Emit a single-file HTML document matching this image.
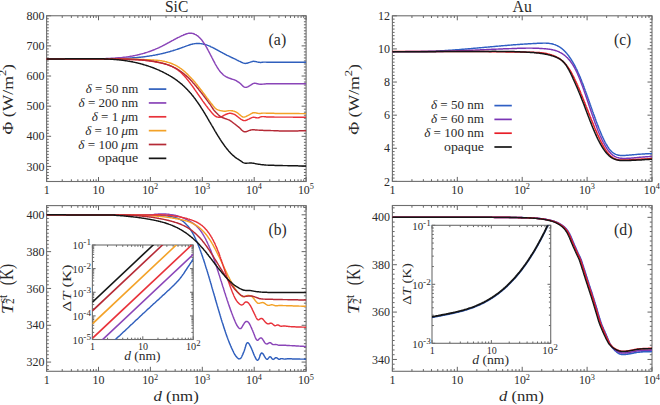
<!DOCTYPE html>
<html><head><meta charset="utf-8"><style>
html,body{margin:0;padding:0;background:#fff;}
body{width:660px;height:405px;overflow:hidden;}
svg{display:block;}
</style></head><body>
<svg width="660" height="405" viewBox="0 0 660 405" font-family='"Liberation Serif", serif' fill="#2a2a2a">
<rect width="660" height="405" fill="#fff"/>
<defs><clipPath id="ca"><rect x="46.6" y="15.75" width="259.5" height="165.75"/></clipPath><clipPath id="cb"><rect x="46.6" y="205.6" width="259.5" height="165.7"/></clipPath><clipPath id="cc"><rect x="392.4" y="15.8" width="259.6" height="165.6"/></clipPath><clipPath id="cd"><rect x="392.4" y="205.5" width="259.6" height="165.8"/></clipPath><clipPath id="ib"><rect x="92.4" y="245" width="100.8" height="94.5"/></clipPath><clipPath id="id"><rect x="432" y="225.3" width="118.7" height="118"/></clipPath></defs>
<line x1="46.6" y1="181.5" x2="46.6" y2="177" stroke="#5c5c5c" stroke-width="0.95"/>
<line x1="46.6" y1="15.75" x2="46.6" y2="20.25" stroke="#5c5c5c" stroke-width="0.95"/>
<line x1="62.22" y1="181.5" x2="62.22" y2="179.3" stroke="#5c5c5c" stroke-width="0.95"/>
<line x1="62.22" y1="15.75" x2="62.22" y2="17.95" stroke="#5c5c5c" stroke-width="0.95"/>
<line x1="71.36" y1="181.5" x2="71.36" y2="179.3" stroke="#5c5c5c" stroke-width="0.95"/>
<line x1="71.36" y1="15.75" x2="71.36" y2="17.95" stroke="#5c5c5c" stroke-width="0.95"/>
<line x1="77.85" y1="181.5" x2="77.85" y2="179.3" stroke="#5c5c5c" stroke-width="0.95"/>
<line x1="77.85" y1="15.75" x2="77.85" y2="17.95" stroke="#5c5c5c" stroke-width="0.95"/>
<line x1="82.88" y1="181.5" x2="82.88" y2="179.3" stroke="#5c5c5c" stroke-width="0.95"/>
<line x1="82.88" y1="15.75" x2="82.88" y2="17.95" stroke="#5c5c5c" stroke-width="0.95"/>
<line x1="86.99" y1="181.5" x2="86.99" y2="179.3" stroke="#5c5c5c" stroke-width="0.95"/>
<line x1="86.99" y1="15.75" x2="86.99" y2="17.95" stroke="#5c5c5c" stroke-width="0.95"/>
<line x1="90.46" y1="181.5" x2="90.46" y2="179.3" stroke="#5c5c5c" stroke-width="0.95"/>
<line x1="90.46" y1="15.75" x2="90.46" y2="17.95" stroke="#5c5c5c" stroke-width="0.95"/>
<line x1="93.47" y1="181.5" x2="93.47" y2="179.3" stroke="#5c5c5c" stroke-width="0.95"/>
<line x1="93.47" y1="15.75" x2="93.47" y2="17.95" stroke="#5c5c5c" stroke-width="0.95"/>
<line x1="96.13" y1="181.5" x2="96.13" y2="179.3" stroke="#5c5c5c" stroke-width="0.95"/>
<line x1="96.13" y1="15.75" x2="96.13" y2="17.95" stroke="#5c5c5c" stroke-width="0.95"/>
<line x1="98.5" y1="181.5" x2="98.5" y2="177" stroke="#5c5c5c" stroke-width="0.95"/>
<line x1="98.5" y1="15.75" x2="98.5" y2="20.25" stroke="#5c5c5c" stroke-width="0.95"/>
<line x1="114.12" y1="181.5" x2="114.12" y2="179.3" stroke="#5c5c5c" stroke-width="0.95"/>
<line x1="114.12" y1="15.75" x2="114.12" y2="17.95" stroke="#5c5c5c" stroke-width="0.95"/>
<line x1="123.26" y1="181.5" x2="123.26" y2="179.3" stroke="#5c5c5c" stroke-width="0.95"/>
<line x1="123.26" y1="15.75" x2="123.26" y2="17.95" stroke="#5c5c5c" stroke-width="0.95"/>
<line x1="129.75" y1="181.5" x2="129.75" y2="179.3" stroke="#5c5c5c" stroke-width="0.95"/>
<line x1="129.75" y1="15.75" x2="129.75" y2="17.95" stroke="#5c5c5c" stroke-width="0.95"/>
<line x1="134.78" y1="181.5" x2="134.78" y2="179.3" stroke="#5c5c5c" stroke-width="0.95"/>
<line x1="134.78" y1="15.75" x2="134.78" y2="17.95" stroke="#5c5c5c" stroke-width="0.95"/>
<line x1="138.89" y1="181.5" x2="138.89" y2="179.3" stroke="#5c5c5c" stroke-width="0.95"/>
<line x1="138.89" y1="15.75" x2="138.89" y2="17.95" stroke="#5c5c5c" stroke-width="0.95"/>
<line x1="142.36" y1="181.5" x2="142.36" y2="179.3" stroke="#5c5c5c" stroke-width="0.95"/>
<line x1="142.36" y1="15.75" x2="142.36" y2="17.95" stroke="#5c5c5c" stroke-width="0.95"/>
<line x1="145.37" y1="181.5" x2="145.37" y2="179.3" stroke="#5c5c5c" stroke-width="0.95"/>
<line x1="145.37" y1="15.75" x2="145.37" y2="17.95" stroke="#5c5c5c" stroke-width="0.95"/>
<line x1="148.03" y1="181.5" x2="148.03" y2="179.3" stroke="#5c5c5c" stroke-width="0.95"/>
<line x1="148.03" y1="15.75" x2="148.03" y2="17.95" stroke="#5c5c5c" stroke-width="0.95"/>
<line x1="150.4" y1="181.5" x2="150.4" y2="177" stroke="#5c5c5c" stroke-width="0.95"/>
<line x1="150.4" y1="15.75" x2="150.4" y2="20.25" stroke="#5c5c5c" stroke-width="0.95"/>
<line x1="166.02" y1="181.5" x2="166.02" y2="179.3" stroke="#5c5c5c" stroke-width="0.95"/>
<line x1="166.02" y1="15.75" x2="166.02" y2="17.95" stroke="#5c5c5c" stroke-width="0.95"/>
<line x1="175.16" y1="181.5" x2="175.16" y2="179.3" stroke="#5c5c5c" stroke-width="0.95"/>
<line x1="175.16" y1="15.75" x2="175.16" y2="17.95" stroke="#5c5c5c" stroke-width="0.95"/>
<line x1="181.65" y1="181.5" x2="181.65" y2="179.3" stroke="#5c5c5c" stroke-width="0.95"/>
<line x1="181.65" y1="15.75" x2="181.65" y2="17.95" stroke="#5c5c5c" stroke-width="0.95"/>
<line x1="186.68" y1="181.5" x2="186.68" y2="179.3" stroke="#5c5c5c" stroke-width="0.95"/>
<line x1="186.68" y1="15.75" x2="186.68" y2="17.95" stroke="#5c5c5c" stroke-width="0.95"/>
<line x1="190.79" y1="181.5" x2="190.79" y2="179.3" stroke="#5c5c5c" stroke-width="0.95"/>
<line x1="190.79" y1="15.75" x2="190.79" y2="17.95" stroke="#5c5c5c" stroke-width="0.95"/>
<line x1="194.26" y1="181.5" x2="194.26" y2="179.3" stroke="#5c5c5c" stroke-width="0.95"/>
<line x1="194.26" y1="15.75" x2="194.26" y2="17.95" stroke="#5c5c5c" stroke-width="0.95"/>
<line x1="197.27" y1="181.5" x2="197.27" y2="179.3" stroke="#5c5c5c" stroke-width="0.95"/>
<line x1="197.27" y1="15.75" x2="197.27" y2="17.95" stroke="#5c5c5c" stroke-width="0.95"/>
<line x1="199.93" y1="181.5" x2="199.93" y2="179.3" stroke="#5c5c5c" stroke-width="0.95"/>
<line x1="199.93" y1="15.75" x2="199.93" y2="17.95" stroke="#5c5c5c" stroke-width="0.95"/>
<line x1="202.3" y1="181.5" x2="202.3" y2="177" stroke="#5c5c5c" stroke-width="0.95"/>
<line x1="202.3" y1="15.75" x2="202.3" y2="20.25" stroke="#5c5c5c" stroke-width="0.95"/>
<line x1="217.92" y1="181.5" x2="217.92" y2="179.3" stroke="#5c5c5c" stroke-width="0.95"/>
<line x1="217.92" y1="15.75" x2="217.92" y2="17.95" stroke="#5c5c5c" stroke-width="0.95"/>
<line x1="227.06" y1="181.5" x2="227.06" y2="179.3" stroke="#5c5c5c" stroke-width="0.95"/>
<line x1="227.06" y1="15.75" x2="227.06" y2="17.95" stroke="#5c5c5c" stroke-width="0.95"/>
<line x1="233.55" y1="181.5" x2="233.55" y2="179.3" stroke="#5c5c5c" stroke-width="0.95"/>
<line x1="233.55" y1="15.75" x2="233.55" y2="17.95" stroke="#5c5c5c" stroke-width="0.95"/>
<line x1="238.58" y1="181.5" x2="238.58" y2="179.3" stroke="#5c5c5c" stroke-width="0.95"/>
<line x1="238.58" y1="15.75" x2="238.58" y2="17.95" stroke="#5c5c5c" stroke-width="0.95"/>
<line x1="242.69" y1="181.5" x2="242.69" y2="179.3" stroke="#5c5c5c" stroke-width="0.95"/>
<line x1="242.69" y1="15.75" x2="242.69" y2="17.95" stroke="#5c5c5c" stroke-width="0.95"/>
<line x1="246.16" y1="181.5" x2="246.16" y2="179.3" stroke="#5c5c5c" stroke-width="0.95"/>
<line x1="246.16" y1="15.75" x2="246.16" y2="17.95" stroke="#5c5c5c" stroke-width="0.95"/>
<line x1="249.17" y1="181.5" x2="249.17" y2="179.3" stroke="#5c5c5c" stroke-width="0.95"/>
<line x1="249.17" y1="15.75" x2="249.17" y2="17.95" stroke="#5c5c5c" stroke-width="0.95"/>
<line x1="251.83" y1="181.5" x2="251.83" y2="179.3" stroke="#5c5c5c" stroke-width="0.95"/>
<line x1="251.83" y1="15.75" x2="251.83" y2="17.95" stroke="#5c5c5c" stroke-width="0.95"/>
<line x1="254.2" y1="181.5" x2="254.2" y2="177" stroke="#5c5c5c" stroke-width="0.95"/>
<line x1="254.2" y1="15.75" x2="254.2" y2="20.25" stroke="#5c5c5c" stroke-width="0.95"/>
<line x1="269.82" y1="181.5" x2="269.82" y2="179.3" stroke="#5c5c5c" stroke-width="0.95"/>
<line x1="269.82" y1="15.75" x2="269.82" y2="17.95" stroke="#5c5c5c" stroke-width="0.95"/>
<line x1="278.96" y1="181.5" x2="278.96" y2="179.3" stroke="#5c5c5c" stroke-width="0.95"/>
<line x1="278.96" y1="15.75" x2="278.96" y2="17.95" stroke="#5c5c5c" stroke-width="0.95"/>
<line x1="285.45" y1="181.5" x2="285.45" y2="179.3" stroke="#5c5c5c" stroke-width="0.95"/>
<line x1="285.45" y1="15.75" x2="285.45" y2="17.95" stroke="#5c5c5c" stroke-width="0.95"/>
<line x1="290.48" y1="181.5" x2="290.48" y2="179.3" stroke="#5c5c5c" stroke-width="0.95"/>
<line x1="290.48" y1="15.75" x2="290.48" y2="17.95" stroke="#5c5c5c" stroke-width="0.95"/>
<line x1="294.59" y1="181.5" x2="294.59" y2="179.3" stroke="#5c5c5c" stroke-width="0.95"/>
<line x1="294.59" y1="15.75" x2="294.59" y2="17.95" stroke="#5c5c5c" stroke-width="0.95"/>
<line x1="298.06" y1="181.5" x2="298.06" y2="179.3" stroke="#5c5c5c" stroke-width="0.95"/>
<line x1="298.06" y1="15.75" x2="298.06" y2="17.95" stroke="#5c5c5c" stroke-width="0.95"/>
<line x1="301.07" y1="181.5" x2="301.07" y2="179.3" stroke="#5c5c5c" stroke-width="0.95"/>
<line x1="301.07" y1="15.75" x2="301.07" y2="17.95" stroke="#5c5c5c" stroke-width="0.95"/>
<line x1="303.73" y1="181.5" x2="303.73" y2="179.3" stroke="#5c5c5c" stroke-width="0.95"/>
<line x1="303.73" y1="15.75" x2="303.73" y2="17.95" stroke="#5c5c5c" stroke-width="0.95"/>
<line x1="306.1" y1="181.5" x2="306.1" y2="177" stroke="#5c5c5c" stroke-width="0.95"/>
<line x1="306.1" y1="15.75" x2="306.1" y2="20.25" stroke="#5c5c5c" stroke-width="0.95"/>
<line x1="46.6" y1="166.43" x2="51.1" y2="166.43" stroke="#5c5c5c" stroke-width="0.95"/>
<line x1="306.1" y1="166.43" x2="301.6" y2="166.43" stroke="#5c5c5c" stroke-width="0.95"/>
<line x1="46.6" y1="136.3" x2="51.1" y2="136.3" stroke="#5c5c5c" stroke-width="0.95"/>
<line x1="306.1" y1="136.3" x2="301.6" y2="136.3" stroke="#5c5c5c" stroke-width="0.95"/>
<line x1="46.6" y1="106.16" x2="51.1" y2="106.16" stroke="#5c5c5c" stroke-width="0.95"/>
<line x1="306.1" y1="106.16" x2="301.6" y2="106.16" stroke="#5c5c5c" stroke-width="0.95"/>
<line x1="46.6" y1="76.02" x2="51.1" y2="76.02" stroke="#5c5c5c" stroke-width="0.95"/>
<line x1="306.1" y1="76.02" x2="301.6" y2="76.02" stroke="#5c5c5c" stroke-width="0.95"/>
<line x1="46.6" y1="45.89" x2="51.1" y2="45.89" stroke="#5c5c5c" stroke-width="0.95"/>
<line x1="306.1" y1="45.89" x2="301.6" y2="45.89" stroke="#5c5c5c" stroke-width="0.95"/>
<line x1="46.6" y1="15.75" x2="51.1" y2="15.75" stroke="#5c5c5c" stroke-width="0.95"/>
<line x1="306.1" y1="15.75" x2="301.6" y2="15.75" stroke="#5c5c5c" stroke-width="0.95"/>
<line x1="46.6" y1="181.5" x2="48.8" y2="181.5" stroke="#5c5c5c" stroke-width="0.95"/>
<line x1="306.1" y1="181.5" x2="303.9" y2="181.5" stroke="#5c5c5c" stroke-width="0.95"/>
<line x1="46.6" y1="178.49" x2="48.8" y2="178.49" stroke="#5c5c5c" stroke-width="0.95"/>
<line x1="306.1" y1="178.49" x2="303.9" y2="178.49" stroke="#5c5c5c" stroke-width="0.95"/>
<line x1="46.6" y1="175.47" x2="48.8" y2="175.47" stroke="#5c5c5c" stroke-width="0.95"/>
<line x1="306.1" y1="175.47" x2="303.9" y2="175.47" stroke="#5c5c5c" stroke-width="0.95"/>
<line x1="46.6" y1="172.46" x2="48.8" y2="172.46" stroke="#5c5c5c" stroke-width="0.95"/>
<line x1="306.1" y1="172.46" x2="303.9" y2="172.46" stroke="#5c5c5c" stroke-width="0.95"/>
<line x1="46.6" y1="169.45" x2="48.8" y2="169.45" stroke="#5c5c5c" stroke-width="0.95"/>
<line x1="306.1" y1="169.45" x2="303.9" y2="169.45" stroke="#5c5c5c" stroke-width="0.95"/>
<line x1="46.6" y1="163.42" x2="48.8" y2="163.42" stroke="#5c5c5c" stroke-width="0.95"/>
<line x1="306.1" y1="163.42" x2="303.9" y2="163.42" stroke="#5c5c5c" stroke-width="0.95"/>
<line x1="46.6" y1="160.4" x2="48.8" y2="160.4" stroke="#5c5c5c" stroke-width="0.95"/>
<line x1="306.1" y1="160.4" x2="303.9" y2="160.4" stroke="#5c5c5c" stroke-width="0.95"/>
<line x1="46.6" y1="157.39" x2="48.8" y2="157.39" stroke="#5c5c5c" stroke-width="0.95"/>
<line x1="306.1" y1="157.39" x2="303.9" y2="157.39" stroke="#5c5c5c" stroke-width="0.95"/>
<line x1="46.6" y1="154.38" x2="48.8" y2="154.38" stroke="#5c5c5c" stroke-width="0.95"/>
<line x1="306.1" y1="154.38" x2="303.9" y2="154.38" stroke="#5c5c5c" stroke-width="0.95"/>
<line x1="46.6" y1="151.36" x2="48.8" y2="151.36" stroke="#5c5c5c" stroke-width="0.95"/>
<line x1="306.1" y1="151.36" x2="303.9" y2="151.36" stroke="#5c5c5c" stroke-width="0.95"/>
<line x1="46.6" y1="148.35" x2="48.8" y2="148.35" stroke="#5c5c5c" stroke-width="0.95"/>
<line x1="306.1" y1="148.35" x2="303.9" y2="148.35" stroke="#5c5c5c" stroke-width="0.95"/>
<line x1="46.6" y1="145.34" x2="48.8" y2="145.34" stroke="#5c5c5c" stroke-width="0.95"/>
<line x1="306.1" y1="145.34" x2="303.9" y2="145.34" stroke="#5c5c5c" stroke-width="0.95"/>
<line x1="46.6" y1="142.32" x2="48.8" y2="142.32" stroke="#5c5c5c" stroke-width="0.95"/>
<line x1="306.1" y1="142.32" x2="303.9" y2="142.32" stroke="#5c5c5c" stroke-width="0.95"/>
<line x1="46.6" y1="139.31" x2="48.8" y2="139.31" stroke="#5c5c5c" stroke-width="0.95"/>
<line x1="306.1" y1="139.31" x2="303.9" y2="139.31" stroke="#5c5c5c" stroke-width="0.95"/>
<line x1="46.6" y1="133.28" x2="48.8" y2="133.28" stroke="#5c5c5c" stroke-width="0.95"/>
<line x1="306.1" y1="133.28" x2="303.9" y2="133.28" stroke="#5c5c5c" stroke-width="0.95"/>
<line x1="46.6" y1="130.27" x2="48.8" y2="130.27" stroke="#5c5c5c" stroke-width="0.95"/>
<line x1="306.1" y1="130.27" x2="303.9" y2="130.27" stroke="#5c5c5c" stroke-width="0.95"/>
<line x1="46.6" y1="127.25" x2="48.8" y2="127.25" stroke="#5c5c5c" stroke-width="0.95"/>
<line x1="306.1" y1="127.25" x2="303.9" y2="127.25" stroke="#5c5c5c" stroke-width="0.95"/>
<line x1="46.6" y1="124.24" x2="48.8" y2="124.24" stroke="#5c5c5c" stroke-width="0.95"/>
<line x1="306.1" y1="124.24" x2="303.9" y2="124.24" stroke="#5c5c5c" stroke-width="0.95"/>
<line x1="46.6" y1="121.23" x2="48.8" y2="121.23" stroke="#5c5c5c" stroke-width="0.95"/>
<line x1="306.1" y1="121.23" x2="303.9" y2="121.23" stroke="#5c5c5c" stroke-width="0.95"/>
<line x1="46.6" y1="118.21" x2="48.8" y2="118.21" stroke="#5c5c5c" stroke-width="0.95"/>
<line x1="306.1" y1="118.21" x2="303.9" y2="118.21" stroke="#5c5c5c" stroke-width="0.95"/>
<line x1="46.6" y1="115.2" x2="48.8" y2="115.2" stroke="#5c5c5c" stroke-width="0.95"/>
<line x1="306.1" y1="115.2" x2="303.9" y2="115.2" stroke="#5c5c5c" stroke-width="0.95"/>
<line x1="46.6" y1="112.19" x2="48.8" y2="112.19" stroke="#5c5c5c" stroke-width="0.95"/>
<line x1="306.1" y1="112.19" x2="303.9" y2="112.19" stroke="#5c5c5c" stroke-width="0.95"/>
<line x1="46.6" y1="109.17" x2="48.8" y2="109.17" stroke="#5c5c5c" stroke-width="0.95"/>
<line x1="306.1" y1="109.17" x2="303.9" y2="109.17" stroke="#5c5c5c" stroke-width="0.95"/>
<line x1="46.6" y1="103.15" x2="48.8" y2="103.15" stroke="#5c5c5c" stroke-width="0.95"/>
<line x1="306.1" y1="103.15" x2="303.9" y2="103.15" stroke="#5c5c5c" stroke-width="0.95"/>
<line x1="46.6" y1="100.13" x2="48.8" y2="100.13" stroke="#5c5c5c" stroke-width="0.95"/>
<line x1="306.1" y1="100.13" x2="303.9" y2="100.13" stroke="#5c5c5c" stroke-width="0.95"/>
<line x1="46.6" y1="97.12" x2="48.8" y2="97.12" stroke="#5c5c5c" stroke-width="0.95"/>
<line x1="306.1" y1="97.12" x2="303.9" y2="97.12" stroke="#5c5c5c" stroke-width="0.95"/>
<line x1="46.6" y1="94.1" x2="48.8" y2="94.1" stroke="#5c5c5c" stroke-width="0.95"/>
<line x1="306.1" y1="94.1" x2="303.9" y2="94.1" stroke="#5c5c5c" stroke-width="0.95"/>
<line x1="46.6" y1="91.09" x2="48.8" y2="91.09" stroke="#5c5c5c" stroke-width="0.95"/>
<line x1="306.1" y1="91.09" x2="303.9" y2="91.09" stroke="#5c5c5c" stroke-width="0.95"/>
<line x1="46.6" y1="88.08" x2="48.8" y2="88.08" stroke="#5c5c5c" stroke-width="0.95"/>
<line x1="306.1" y1="88.08" x2="303.9" y2="88.08" stroke="#5c5c5c" stroke-width="0.95"/>
<line x1="46.6" y1="85.06" x2="48.8" y2="85.06" stroke="#5c5c5c" stroke-width="0.95"/>
<line x1="306.1" y1="85.06" x2="303.9" y2="85.06" stroke="#5c5c5c" stroke-width="0.95"/>
<line x1="46.6" y1="82.05" x2="48.8" y2="82.05" stroke="#5c5c5c" stroke-width="0.95"/>
<line x1="306.1" y1="82.05" x2="303.9" y2="82.05" stroke="#5c5c5c" stroke-width="0.95"/>
<line x1="46.6" y1="79.04" x2="48.8" y2="79.04" stroke="#5c5c5c" stroke-width="0.95"/>
<line x1="306.1" y1="79.04" x2="303.9" y2="79.04" stroke="#5c5c5c" stroke-width="0.95"/>
<line x1="46.6" y1="73.01" x2="48.8" y2="73.01" stroke="#5c5c5c" stroke-width="0.95"/>
<line x1="306.1" y1="73.01" x2="303.9" y2="73.01" stroke="#5c5c5c" stroke-width="0.95"/>
<line x1="46.6" y1="70" x2="48.8" y2="70" stroke="#5c5c5c" stroke-width="0.95"/>
<line x1="306.1" y1="70" x2="303.9" y2="70" stroke="#5c5c5c" stroke-width="0.95"/>
<line x1="46.6" y1="66.98" x2="48.8" y2="66.98" stroke="#5c5c5c" stroke-width="0.95"/>
<line x1="306.1" y1="66.98" x2="303.9" y2="66.98" stroke="#5c5c5c" stroke-width="0.95"/>
<line x1="46.6" y1="63.97" x2="48.8" y2="63.97" stroke="#5c5c5c" stroke-width="0.95"/>
<line x1="306.1" y1="63.97" x2="303.9" y2="63.97" stroke="#5c5c5c" stroke-width="0.95"/>
<line x1="46.6" y1="60.95" x2="48.8" y2="60.95" stroke="#5c5c5c" stroke-width="0.95"/>
<line x1="306.1" y1="60.95" x2="303.9" y2="60.95" stroke="#5c5c5c" stroke-width="0.95"/>
<line x1="46.6" y1="57.94" x2="48.8" y2="57.94" stroke="#5c5c5c" stroke-width="0.95"/>
<line x1="306.1" y1="57.94" x2="303.9" y2="57.94" stroke="#5c5c5c" stroke-width="0.95"/>
<line x1="46.6" y1="54.93" x2="48.8" y2="54.93" stroke="#5c5c5c" stroke-width="0.95"/>
<line x1="306.1" y1="54.93" x2="303.9" y2="54.93" stroke="#5c5c5c" stroke-width="0.95"/>
<line x1="46.6" y1="51.91" x2="48.8" y2="51.91" stroke="#5c5c5c" stroke-width="0.95"/>
<line x1="306.1" y1="51.91" x2="303.9" y2="51.91" stroke="#5c5c5c" stroke-width="0.95"/>
<line x1="46.6" y1="48.9" x2="48.8" y2="48.9" stroke="#5c5c5c" stroke-width="0.95"/>
<line x1="306.1" y1="48.9" x2="303.9" y2="48.9" stroke="#5c5c5c" stroke-width="0.95"/>
<line x1="46.6" y1="42.87" x2="48.8" y2="42.87" stroke="#5c5c5c" stroke-width="0.95"/>
<line x1="306.1" y1="42.87" x2="303.9" y2="42.87" stroke="#5c5c5c" stroke-width="0.95"/>
<line x1="46.6" y1="39.86" x2="48.8" y2="39.86" stroke="#5c5c5c" stroke-width="0.95"/>
<line x1="306.1" y1="39.86" x2="303.9" y2="39.86" stroke="#5c5c5c" stroke-width="0.95"/>
<line x1="46.6" y1="36.85" x2="48.8" y2="36.85" stroke="#5c5c5c" stroke-width="0.95"/>
<line x1="306.1" y1="36.85" x2="303.9" y2="36.85" stroke="#5c5c5c" stroke-width="0.95"/>
<line x1="46.6" y1="33.83" x2="48.8" y2="33.83" stroke="#5c5c5c" stroke-width="0.95"/>
<line x1="306.1" y1="33.83" x2="303.9" y2="33.83" stroke="#5c5c5c" stroke-width="0.95"/>
<line x1="46.6" y1="30.82" x2="48.8" y2="30.82" stroke="#5c5c5c" stroke-width="0.95"/>
<line x1="306.1" y1="30.82" x2="303.9" y2="30.82" stroke="#5c5c5c" stroke-width="0.95"/>
<line x1="46.6" y1="27.8" x2="48.8" y2="27.8" stroke="#5c5c5c" stroke-width="0.95"/>
<line x1="306.1" y1="27.8" x2="303.9" y2="27.8" stroke="#5c5c5c" stroke-width="0.95"/>
<line x1="46.6" y1="24.79" x2="48.8" y2="24.79" stroke="#5c5c5c" stroke-width="0.95"/>
<line x1="306.1" y1="24.79" x2="303.9" y2="24.79" stroke="#5c5c5c" stroke-width="0.95"/>
<line x1="46.6" y1="21.78" x2="48.8" y2="21.78" stroke="#5c5c5c" stroke-width="0.95"/>
<line x1="306.1" y1="21.78" x2="303.9" y2="21.78" stroke="#5c5c5c" stroke-width="0.95"/>
<line x1="46.6" y1="18.76" x2="48.8" y2="18.76" stroke="#5c5c5c" stroke-width="0.95"/>
<line x1="306.1" y1="18.76" x2="303.9" y2="18.76" stroke="#5c5c5c" stroke-width="0.95"/>
<rect x="46.6" y="15.75" width="259.5" height="165.75" fill="none" stroke="#6e6e6e" stroke-width="1.1"/>
<text x="44.6" y="170.53" font-size="12" text-anchor="end">300</text>
<text x="44.6" y="140.4" font-size="12" text-anchor="end">400</text>
<text x="44.6" y="110.26" font-size="12" text-anchor="end">500</text>
<text x="44.6" y="80.12" font-size="12" text-anchor="end">600</text>
<text x="44.6" y="49.99" font-size="12" text-anchor="end">700</text>
<text x="44.6" y="19.85" font-size="12" text-anchor="end">800</text>
<text x="46.8" y="193.9" font-size="12" text-anchor="middle">1</text>
<text x="98.5" y="193.9" font-size="12" text-anchor="middle">10</text>
<text x="142.2" y="193.9" font-size="12" textLength="16" lengthAdjust="spacingAndGlyphs">10<tspan font-size="8.4" dy="-4.5">2</tspan></text>
<text x="194.1" y="193.9" font-size="12" textLength="16" lengthAdjust="spacingAndGlyphs">10<tspan font-size="8.4" dy="-4.5">3</tspan></text>
<text x="246" y="193.9" font-size="12" textLength="16" lengthAdjust="spacingAndGlyphs">10<tspan font-size="8.4" dy="-4.5">4</tspan></text>
<text x="297.9" y="193.9" font-size="12" textLength="16" lengthAdjust="spacingAndGlyphs">10<tspan font-size="8.4" dy="-4.5">5</tspan></text>
<text x="165" y="11.5" font-size="16.5" textLength="23.2" lengthAdjust="spacingAndGlyphs">SiC</text>
<text x="268.6" y="44.8" font-size="16.5" textLength="17.6" lengthAdjust="spacingAndGlyphs">(a)</text>
<text transform="translate(12.6,134.4) rotate(-90)" x="0" y="0" font-size="15.5" textLength="70.4" lengthAdjust="spacingAndGlyphs">&#934; (W/m<tspan font-size="11" dy="-6.5">2</tspan><tspan dy="6.5">)</tspan></text>
<path d="M46.6,58.9L47.3,58.9L48.0,58.9L48.7,58.9L49.4,58.9L50.1,58.9L50.8,58.9L51.5,58.9L52.2,58.9L52.9,58.9L53.6,58.9L54.3,58.9L55.0,58.9L55.7,58.9L56.4,58.9L57.1,58.9L57.8,58.9L58.5,58.9L59.2,58.9L59.9,58.9L60.6,58.9L61.3,58.9L62.0,58.9L62.7,58.9L63.4,58.9L64.1,58.9L64.8,58.9L65.5,58.9L66.2,58.9L66.9,58.9L67.6,58.9L68.3,58.9L69.0,58.9L69.7,58.9L70.4,58.9L71.1,58.9L71.8,58.9L72.5,58.9L73.2,58.9L73.9,58.9L74.6,58.9L75.3,58.9L76.0,58.9L76.7,58.9L77.4,58.9L78.1,58.9L78.9,58.9L79.6,58.9L80.3,58.9L81.0,58.9L81.7,58.9L82.4,58.9L83.1,58.9L83.8,58.9L84.5,58.9L85.2,58.9L85.9,58.9L86.6,58.8L87.3,58.8L88.0,58.8L88.7,58.8L89.4,58.8L90.1,58.8L90.8,58.8L91.5,58.8L92.2,58.8L92.9,58.8L93.6,58.8L94.3,58.8L95.0,58.8L95.7,58.8L96.4,58.8L97.1,58.8L97.8,58.8L98.5,58.8L99.2,58.8L99.9,58.8L100.6,58.8L101.3,58.8L102.0,58.8L102.7,58.8L103.4,58.8L104.1,58.8L104.8,58.8L105.5,58.7L106.2,58.7L106.9,58.7L107.6,58.7L108.3,58.7L109.0,58.7L109.7,58.7L110.4,58.7L111.1,58.7L111.8,58.6L112.5,58.6L113.2,58.6L113.9,58.6L114.6,58.6L115.3,58.5L116.0,58.5L116.7,58.5L117.4,58.5L118.1,58.5L118.8,58.4L119.5,58.4L120.2,58.4L120.9,58.4L121.6,58.4L122.3,58.4L123.0,58.3L123.7,58.3L124.4,58.3L125.1,58.3L125.8,58.2L126.5,58.2L127.2,58.2L127.9,58.1L128.6,58.1L129.3,58.1L130.0,58.0L130.7,58.0L131.4,57.9L132.1,57.9L132.8,57.8L133.5,57.8L134.2,57.7L134.9,57.7L135.6,57.6L136.3,57.6L137.0,57.5L137.7,57.4L138.4,57.4L139.1,57.3L139.8,57.2L140.5,57.2L141.2,57.1L141.9,57.0L142.6,56.9L143.3,56.9L144.0,56.8L144.7,56.7L145.4,56.6L146.1,56.5L146.8,56.4L147.5,56.3L148.2,56.2L148.8,56.1L149.5,56.0L150.2,55.9L150.9,55.8L151.6,55.7L152.3,55.6L153.0,55.4L153.7,55.3L154.4,55.2L155.1,55.1L155.8,54.9L156.4,54.8L157.1,54.7L157.8,54.5L158.5,54.4L159.2,54.2L159.9,54.1L160.6,53.9L161.2,53.8L161.9,53.6L162.6,53.5L163.3,53.3L164.0,53.1L164.7,53.0L165.3,52.8L166.0,52.6L166.7,52.4L167.4,52.2L168.0,52.1L168.7,51.9L169.4,51.7L170.1,51.5L170.7,51.3L171.4,51.1L172.1,50.9L172.8,50.7L173.4,50.5L174.1,50.3L174.8,50.1L175.4,49.9L176.1,49.6L176.8,49.4L177.4,49.2L178.1,49.0L178.8,48.8L179.4,48.5L180.1,48.3L180.7,48.1L181.4,47.8L182.1,47.6L182.7,47.3L183.4,47.1L184.0,46.9L184.7,46.6L185.3,46.4L186.0,46.1L186.7,45.9L187.3,45.6L188.0,45.4L188.6,45.2L189.3,45.0L190.0,44.7L190.7,44.5L191.3,44.4L192.0,44.2L192.7,44.0L193.4,43.9L194.1,43.8L194.8,43.6L195.4,43.6L196.1,43.5L196.8,43.5L197.5,43.4L198.2,43.4L198.9,43.5L199.6,43.5L200.3,43.6L201.0,43.6L201.7,43.8L202.4,43.9L203.1,44.0L203.8,44.2L204.5,44.3L205.1,44.5L205.8,44.7L206.5,44.9L207.2,45.2L207.8,45.4L208.5,45.6L209.1,45.9L209.8,46.2L210.4,46.5L211.0,46.8L211.7,47.1L212.3,47.4L212.9,47.7L213.6,48.0L214.2,48.3L214.8,48.7L215.4,49.0L216.0,49.3L216.6,49.7L217.3,50.0L217.9,50.3L218.5,50.7L219.1,51.0L219.7,51.4L220.3,51.7L220.9,52.0L221.5,52.4L222.2,52.7L222.8,53.0L223.4,53.4L224.0,53.7L224.6,54.0L225.3,54.3L225.9,54.7L226.5,55.0L227.1,55.3L227.8,55.6L228.4,55.9L229.0,56.2L229.7,56.5L230.3,56.8L230.9,57.1L231.5,57.5L232.2,57.7L232.8,58.0L233.5,58.3L234.1,58.6L234.7,58.9L235.4,59.2L236.0,59.5L236.6,59.9L237.2,60.2L237.9,60.5L238.5,60.8L239.1,61.1L239.8,61.4L240.4,61.7L241.0,62.0L241.7,62.3L242.3,62.6L242.9,62.9L243.6,63.1L244.3,63.3L244.9,63.4L245.6,63.4L246.3,63.3L247.0,63.2L247.7,63.0L248.3,62.8L249.0,62.6L249.7,62.4L250.3,62.1L251.0,61.9L251.7,61.7L252.3,61.5L253.0,61.4L253.7,61.3L254.4,61.4L255.1,61.4L255.8,61.6L256.5,61.7L257.1,61.9L257.8,62.1L258.5,62.2L259.2,62.3L259.9,62.4L260.6,62.4L261.3,62.4L262.0,62.3L262.7,62.2L263.4,62.1L264.0,62.1L264.7,62.1L265.4,62.1L266.1,62.1L266.8,62.2L267.5,62.2L268.2,62.2L268.9,62.2L269.6,62.2L270.3,62.2L271.0,62.2L271.7,62.2L272.4,62.2L273.1,62.2L273.8,62.2L274.6,62.2L275.3,62.2L276.0,62.2L276.7,62.2L277.4,62.2L278.1,62.2L278.8,62.2L279.5,62.2L280.2,62.2L280.9,62.2L281.6,62.2L282.3,62.2L283.0,62.2L283.7,62.2L284.4,62.2L285.1,62.2L285.8,62.2L286.5,62.2L287.2,62.2L287.9,62.2L288.6,62.2L289.3,62.2L290.0,62.2L290.7,62.2L291.4,62.2L292.1,62.2L292.8,62.2L293.5,62.2L294.2,62.2L294.9,62.2L295.6,62.2L296.3,62.2L297.0,62.2L297.7,62.2L298.4,62.2L299.1,62.2L299.8,62.2L300.5,62.2L301.2,62.2L301.9,62.2L302.6,62.2L303.3,62.2L304.0,62.2L304.7,62.2L305.4,62.2L306.1,62.2" fill="none" stroke="#2f5fbd" stroke-width="1.45" stroke-linejoin="round" stroke-linecap="round" clip-path="url(#ca)"/>
<path d="M46.6,58.9L47.3,58.9L48.0,58.9L48.7,58.9L49.4,58.9L50.1,58.9L50.8,58.9L51.5,58.9L52.2,58.9L52.9,58.9L53.6,58.9L54.3,58.9L55.0,58.9L55.7,58.9L56.4,58.9L57.1,58.9L57.8,58.9L58.5,58.9L59.2,58.9L59.9,58.9L60.6,58.9L61.3,58.9L62.0,58.9L62.7,58.9L63.4,58.9L64.1,58.9L64.8,58.9L65.5,58.9L66.2,58.9L66.9,58.9L67.6,58.9L68.3,58.9L69.0,58.9L69.7,58.9L70.4,58.9L71.1,58.9L71.8,58.9L72.5,58.9L73.2,58.9L73.9,58.9L74.6,58.9L75.3,58.9L76.0,58.9L76.7,58.9L77.4,58.8L78.1,58.8L78.8,58.8L79.5,58.8L80.2,58.8L80.9,58.8L81.6,58.8L82.3,58.8L83.0,58.8L83.7,58.8L84.4,58.8L85.1,58.8L85.8,58.8L86.5,58.8L87.2,58.8L87.9,58.8L88.6,58.8L89.3,58.8L90.0,58.8L90.7,58.8L91.4,58.8L92.1,58.8L92.8,58.8L93.5,58.8L94.2,58.8L94.9,58.8L95.6,58.8L96.3,58.7L97.0,58.7L97.7,58.7L98.4,58.7L99.1,58.7L99.8,58.7L100.5,58.7L101.2,58.7L101.9,58.7L102.6,58.6L103.3,58.6L104.0,58.6L104.7,58.6L105.4,58.6L106.1,58.5L106.8,58.5L107.5,58.5L108.2,58.5L108.9,58.4L109.6,58.4L110.3,58.4L111.0,58.3L111.7,58.3L112.4,58.2L113.1,58.2L113.8,58.2L114.5,58.1L115.2,58.1L115.9,58.0L116.6,57.9L117.3,57.9L118.0,57.8L118.7,57.8L119.4,57.7L120.1,57.7L120.8,57.6L121.5,57.6L122.2,57.5L122.9,57.4L123.6,57.3L124.3,57.2L125.0,57.1L125.7,57.1L126.4,57.0L127.1,56.9L127.8,56.8L128.4,56.7L129.1,56.6L129.8,56.4L130.5,56.3L131.2,56.2L131.9,56.1L132.6,56.0L133.3,55.8L134.0,55.7L134.7,55.6L135.3,55.4L136.0,55.3L136.7,55.1L137.4,55.0L138.1,54.8L138.8,54.6L139.4,54.5L140.1,54.3L140.8,54.1L141.5,53.9L142.1,53.8L142.8,53.6L143.5,53.4L144.2,53.2L144.8,53.0L145.5,52.8L146.2,52.6L146.8,52.4L147.5,52.1L148.2,51.9L148.8,51.7L149.5,51.5L150.2,51.2L150.8,51.0L151.5,50.7L152.1,50.5L152.8,50.2L153.4,50.0L154.1,49.7L154.7,49.5L155.4,49.2L156.0,48.9L156.7,48.6L157.3,48.4L157.9,48.1L158.6,47.8L159.2,47.5L159.9,47.2L160.5,46.9L161.1,46.6L161.7,46.3L162.4,45.9L163.0,45.6L163.6,45.3L164.2,45.0L164.9,44.7L165.5,44.3L166.1,44.0L166.7,43.7L167.3,43.3L167.9,43.0L168.6,42.7L169.2,42.3L169.8,42.0L170.4,41.7L171.0,41.3L171.6,41.0L172.2,40.6L172.9,40.3L173.5,40.0L174.1,39.6L174.7,39.3L175.3,39.0L175.9,38.7L176.6,38.3L177.2,38.0L177.8,37.7L178.4,37.4L179.1,37.1L179.7,36.8L180.3,36.4L181.0,36.1L181.6,35.8L182.2,35.6L182.9,35.3L183.5,35.0L184.1,34.7L184.8,34.5L185.5,34.2L186.1,34.0L186.8,33.8L187.5,33.6L188.1,33.4L188.8,33.3L189.5,33.2L190.2,33.2L190.9,33.2L191.6,33.3L192.3,33.4L193.0,33.5L193.6,33.7L194.3,34.0L194.9,34.3L195.6,34.6L196.2,34.9L196.7,35.3L197.3,35.7L197.9,36.1L198.4,36.6L198.9,37.1L199.4,37.5L199.9,38.0L200.4,38.6L200.9,39.1L201.3,39.6L201.8,40.1L202.2,40.7L202.6,41.3L203.0,41.8L203.4,42.4L203.8,43.0L204.2,43.5L204.6,44.1L205.0,44.7L205.4,45.3L205.7,45.9L206.1,46.5L206.4,47.1L206.8,47.7L207.1,48.4L207.4,49.0L207.8,49.6L208.1,50.2L208.4,50.8L208.8,51.4L209.1,52.1L209.4,52.7L209.7,53.3L210.1,53.9L210.4,54.6L210.7,55.2L211.0,55.8L211.3,56.4L211.7,57.0L212.0,57.7L212.3,58.3L212.6,58.9L212.9,59.5L213.2,60.2L213.6,60.8L213.9,61.4L214.2,62.0L214.6,62.6L214.9,63.3L215.2,63.9L215.6,64.5L215.9,65.1L216.3,65.7L216.6,66.3L217.0,66.9L217.3,67.5L217.7,68.1L218.1,68.7L218.5,69.3L218.9,69.9L219.3,70.4L219.7,71.0L220.1,71.5L220.6,72.1L221.0,72.6L221.5,73.1L222.0,73.6L222.5,74.1L223.0,74.6L223.5,75.0L224.1,75.5L224.7,75.9L225.3,76.2L225.8,76.6L226.5,76.9L227.1,77.3L227.7,77.5L228.4,77.8L229.0,78.1L229.7,78.3L230.3,78.5L231.0,78.8L231.7,79.0L232.3,79.2L233.0,79.4L233.7,79.6L234.3,79.8L235.0,80.1L235.6,80.4L236.2,80.7L236.8,81.1L237.4,81.5L238.0,81.8L238.6,82.2L239.2,82.6L239.7,83.0L240.3,83.5L240.8,83.9L241.3,84.4L241.8,84.9L242.3,85.4L242.8,85.9L243.3,86.4L243.8,86.8L244.4,87.1L245.1,87.3L245.7,87.4L246.4,87.3L247.0,87.1L247.7,86.8L248.3,86.5L248.9,86.1L249.5,85.8L250.1,85.4L250.7,85.1L251.3,84.7L251.9,84.3L252.5,83.9L253.1,83.6L253.7,83.4L254.4,83.3L255.1,83.3L255.8,83.4L256.5,83.5L257.2,83.7L257.8,83.8L258.5,84.0L259.2,84.1L259.9,84.2L260.6,84.2L261.3,84.2L262.0,84.2L262.7,84.1L263.4,84.1L264.1,84.0L264.8,83.9L265.5,83.9L266.2,83.8L266.9,83.8L267.6,83.8L268.3,83.8L269.0,83.8L269.7,83.8L270.4,83.7L271.1,83.7L271.8,83.7L272.5,83.7L273.2,83.7L273.9,83.7L274.6,83.7L275.3,83.7L276.0,83.7L276.7,83.7L277.4,83.7L278.1,83.7L278.8,83.7L279.5,83.7L280.2,83.7L280.9,83.7L281.6,83.7L282.3,83.7L283.0,83.7L283.7,83.8L284.4,83.8L285.1,83.8L285.8,83.8L286.5,83.8L287.2,83.8L287.9,83.8L288.6,83.8L289.3,83.8L290.0,83.8L290.7,83.8L291.4,83.8L292.1,83.8L292.8,83.8L293.5,83.8L294.2,83.8L294.9,83.8L295.6,83.8L296.3,83.8L297.0,83.8L297.7,83.8L298.4,83.8L299.1,83.8L299.8,83.8L300.5,83.8L301.2,83.8L301.9,83.8L302.6,83.8L303.3,83.8L304.0,83.8L304.7,83.8L305.4,83.8L306.1,83.8" fill="none" stroke="#8a45b8" stroke-width="1.45" stroke-linejoin="round" stroke-linecap="round" clip-path="url(#ca)"/>
<path d="M46.6,58.9L47.3,58.9L48.0,58.9L48.7,58.9L49.4,58.9L50.1,58.9L50.8,58.9L51.5,58.9L52.2,58.9L52.9,58.9L53.6,58.9L54.3,58.9L55.0,58.9L55.7,58.9L56.4,58.9L57.1,58.9L57.8,58.9L58.5,58.9L59.2,58.9L59.9,58.9L60.6,58.9L61.3,58.9L62.0,58.9L62.7,58.9L63.4,58.9L64.1,58.9L64.8,58.9L65.5,58.9L66.2,58.9L66.9,58.9L67.6,58.9L68.3,58.9L69.0,58.9L69.7,58.9L70.4,58.9L71.1,58.9L71.8,58.9L72.5,58.9L73.2,58.9L73.9,58.9L74.6,58.9L75.3,58.9L76.0,58.9L76.7,58.9L77.4,58.9L78.1,58.9L78.8,58.9L79.5,58.9L80.2,58.9L80.9,58.9L81.6,58.9L82.3,58.9L83.0,58.9L83.7,58.9L84.4,58.9L85.1,58.9L85.8,58.9L86.5,58.9L87.2,58.9L87.9,58.9L88.6,58.9L89.3,58.9L90.0,58.9L90.7,58.9L91.4,58.9L92.1,58.9L92.8,58.9L93.5,58.9L94.2,58.9L94.9,58.9L95.6,58.9L96.3,58.9L97.0,58.9L97.7,58.9L98.4,58.9L99.1,58.9L99.8,58.9L100.5,58.9L101.2,58.9L101.9,58.9L102.6,58.9L103.3,58.9L104.0,58.9L104.7,58.9L105.4,58.9L106.1,58.9L106.8,58.9L107.5,58.9L108.2,58.9L108.9,58.9L109.6,58.9L110.3,58.9L111.0,58.9L111.7,58.9L112.4,58.9L113.1,58.9L113.8,58.9L114.5,58.9L115.2,58.9L115.9,58.9L116.6,58.9L117.3,58.9L118.0,58.9L118.7,58.9L119.4,58.9L120.1,59.0L120.8,59.0L121.5,59.0L122.2,59.0L122.9,59.0L123.6,59.0L124.3,59.0L125.0,59.0L125.7,59.0L126.4,59.0L127.1,59.1L127.8,59.1L128.5,59.1L129.2,59.1L129.9,59.1L130.6,59.1L131.3,59.1L132.0,59.1L132.7,59.2L133.4,59.2L134.1,59.2L134.8,59.2L135.5,59.2L136.2,59.3L136.9,59.3L137.6,59.3L138.3,59.3L139.0,59.3L139.7,59.4L140.4,59.4L141.1,59.4L141.8,59.4L142.5,59.5L143.2,59.5L143.9,59.5L144.6,59.6L145.3,59.6L146.0,59.6L146.7,59.6L147.4,59.7L148.1,59.7L148.8,59.7L149.5,59.8L150.2,59.8L150.9,59.9L151.6,59.9L152.3,59.9L153.0,60.0L153.7,60.0L154.4,60.1L155.1,60.1L155.8,60.2L156.5,60.2L157.2,60.3L157.9,60.4L158.6,60.5L159.3,60.5L160.0,60.6L160.7,60.7L161.4,60.8L162.1,60.9L162.8,61.1L163.4,61.2L164.1,61.3L164.8,61.5L165.5,61.6L166.2,61.8L166.9,62.0L167.5,62.2L168.2,62.4L168.9,62.6L169.5,62.8L170.2,63.0L170.9,63.2L171.5,63.5L172.2,63.8L172.8,64.0L173.4,64.3L174.1,64.6L174.7,64.9L175.3,65.2L176.0,65.5L176.6,65.9L177.2,66.2L177.8,66.6L178.4,66.9L179.0,67.3L179.6,67.7L180.1,68.1L180.7,68.5L181.3,68.9L181.8,69.3L182.4,69.8L182.9,70.2L183.5,70.6L184.0,71.1L184.6,71.5L185.1,72.0L185.6,72.5L186.1,72.9L186.6,73.4L187.1,73.9L187.7,74.4L188.2,74.9L188.7,75.4L189.1,75.9L189.6,76.4L190.1,76.9L190.6,77.4L191.1,77.9L191.6,78.4L192.0,78.9L192.5,79.4L193.0,80.0L193.4,80.5L193.9,81.0L194.3,81.5L194.8,82.1L195.3,82.6L195.7,83.1L196.1,83.7L196.6,84.2L197.0,84.8L197.5,85.3L197.9,85.9L198.4,86.4L198.8,87.0L199.2,87.5L199.7,88.1L200.1,88.6L200.5,89.2L200.9,89.7L201.4,90.3L201.8,90.8L202.2,91.4L202.6,92.0L203.0,92.5L203.5,93.1L203.9,93.6L204.3,94.2L204.7,94.8L205.1,95.3L205.5,95.9L205.9,96.5L206.4,97.0L206.8,97.6L207.2,98.1L207.6,98.7L208.0,99.3L208.5,99.8L208.9,100.4L209.3,100.9L209.7,101.5L210.2,102.0L210.6,102.6L211.0,103.1L211.5,103.7L211.9,104.2L212.3,104.8L212.8,105.3L213.2,105.9L213.6,106.4L214.1,107.0L214.5,107.5L215.0,108.0L215.5,108.5L216.1,108.9L216.6,109.3L217.3,109.6L217.9,109.9L218.6,110.1L219.2,110.3L219.9,110.5L220.6,110.6L221.3,110.8L222.0,110.9L222.7,111.0L223.3,111.1L224.0,111.2L224.7,111.2L225.4,111.2L226.1,111.1L226.8,111.0L227.5,110.9L228.2,110.7L228.9,110.6L229.6,110.6L230.3,110.6L231.0,110.6L231.7,110.7L232.4,110.8L233.0,111.0L233.7,111.1L234.4,111.3L235.0,111.6L235.7,111.8L236.3,112.2L236.9,112.5L237.5,112.9L238.0,113.3L238.6,113.8L239.1,114.2L239.6,114.7L240.2,115.1L240.7,115.6L241.3,116.0L241.8,116.4L242.4,116.8L243.0,117.0L243.7,117.1L244.4,117.0L245.0,116.9L245.7,116.6L246.3,116.3L246.9,116.0L247.6,115.7L248.2,115.4L248.8,115.1L249.4,114.7L250.0,114.4L250.6,114.0L251.2,113.7L251.9,113.3L252.5,113.0L253.1,112.8L253.8,112.7L254.4,112.6L255.1,112.7L255.8,112.9L256.5,113.0L257.2,113.2L257.8,113.3L258.5,113.4L259.2,113.4L259.9,113.4L260.6,113.4L261.3,113.3L262.0,113.2L262.7,113.1L263.4,113.1L264.1,113.1L264.8,113.1L265.5,113.1L266.2,113.2L266.9,113.2L267.6,113.2L268.3,113.3L269.0,113.3L269.7,113.3L270.4,113.3L271.1,113.3L271.8,113.3L272.5,113.3L273.2,113.3L273.9,113.3L274.6,113.4L275.3,113.4L276.0,113.4L276.7,113.4L277.4,113.4L278.1,113.4L278.8,113.4L279.5,113.4L280.2,113.4L280.9,113.4L281.6,113.4L282.3,113.4L283.0,113.4L283.7,113.4L284.4,113.4L285.1,113.4L285.8,113.4L286.5,113.5L287.2,113.5L287.9,113.5L288.6,113.5L289.3,113.5L290.0,113.5L290.7,113.5L291.4,113.5L292.1,113.5L292.8,113.5L293.5,113.5L294.2,113.5L294.9,113.5L295.6,113.5L296.3,113.5L297.0,113.5L297.7,113.5L298.4,113.5L299.1,113.5L299.8,113.6L300.5,113.6L301.2,113.6L301.9,113.6L302.6,113.6L303.3,113.6L304.0,113.6L304.7,113.6L305.4,113.6L306.1,113.6" fill="none" stroke="#f3a228" stroke-width="1.45" stroke-linejoin="round" stroke-linecap="round" clip-path="url(#ca)"/>
<path d="M46.6,58.9L47.3,58.9L48.0,58.9L48.7,58.9L49.4,58.9L50.1,58.9L50.8,58.9L51.5,58.9L52.2,58.9L52.9,58.9L53.6,58.9L54.3,58.9L55.0,58.9L55.7,58.9L56.4,58.9L57.1,58.9L57.8,58.9L58.5,58.9L59.2,58.9L59.9,58.9L60.6,58.9L61.3,58.9L62.0,58.9L62.7,58.9L63.4,58.9L64.1,58.9L64.8,58.9L65.5,58.9L66.2,58.9L66.9,58.9L67.6,58.9L68.3,58.9L69.0,58.9L69.7,58.9L70.4,58.9L71.1,58.9L71.8,58.9L72.5,58.9L73.2,58.9L73.9,58.9L74.6,58.9L75.3,58.9L76.0,58.9L76.7,58.9L77.4,58.9L78.1,58.9L78.8,58.9L79.5,58.9L80.2,58.9L80.9,58.9L81.6,58.9L82.3,58.9L83.0,58.9L83.7,58.9L84.4,58.9L85.1,58.9L85.8,58.9L86.5,58.9L87.2,58.9L87.9,58.9L88.6,58.9L89.3,58.9L90.1,58.9L90.8,58.9L91.5,58.9L92.2,58.9L92.9,58.9L93.6,58.9L94.3,58.9L95.0,58.9L95.7,58.9L96.4,58.9L97.1,58.9L97.8,58.9L98.5,58.9L99.2,58.9L99.9,58.9L100.6,58.9L101.3,58.9L102.0,58.9L102.7,58.9L103.4,58.9L104.1,58.9L104.8,58.9L105.5,58.9L106.2,58.9L106.9,58.9L107.6,58.9L108.3,58.9L109.0,58.9L109.7,58.9L110.4,58.9L111.1,58.9L111.8,58.9L112.5,58.9L113.2,58.9L113.9,58.9L114.6,58.9L115.3,58.9L116.0,59.0L116.7,59.0L117.4,59.0L118.1,59.0L118.8,59.0L119.5,59.0L120.2,59.0L120.9,59.0L121.6,59.1L122.3,59.1L123.0,59.1L123.7,59.1L124.4,59.2L125.1,59.2L125.8,59.2L126.5,59.2L127.2,59.3L127.9,59.3L128.6,59.3L129.3,59.4L130.0,59.4L130.7,59.4L131.4,59.4L132.1,59.5L132.8,59.5L133.5,59.5L134.2,59.6L134.9,59.6L135.6,59.7L136.3,59.7L137.0,59.8L137.7,59.8L138.4,59.9L139.1,59.9L139.8,60.0L140.5,60.0L141.2,60.1L141.9,60.1L142.6,60.2L143.3,60.3L144.0,60.3L144.7,60.4L145.4,60.5L146.1,60.6L146.8,60.7L147.5,60.7L148.1,60.8L148.8,60.9L149.5,61.0L150.2,61.1L150.9,61.2L151.6,61.3L152.3,61.4L153.0,61.5L153.7,61.6L154.4,61.7L155.1,61.8L155.8,62.0L156.5,62.1L157.2,62.2L157.8,62.3L158.5,62.5L159.2,62.6L159.9,62.7L160.6,62.9L161.3,63.0L162.0,63.2L162.6,63.3L163.3,63.5L164.0,63.6L164.7,63.8L165.4,64.0L166.0,64.2L166.7,64.4L167.4,64.6L168.0,64.8L168.7,65.1L169.4,65.3L170.0,65.6L170.7,65.8L171.3,66.1L171.9,66.4L172.6,66.7L173.2,67.0L173.8,67.4L174.4,67.7L175.0,68.0L175.6,68.4L176.2,68.8L176.8,69.2L177.4,69.6L177.9,70.0L178.5,70.4L179.0,70.9L179.6,71.3L180.1,71.8L180.6,72.2L181.2,72.7L181.7,73.2L182.2,73.7L182.7,74.2L183.1,74.7L183.6,75.2L184.1,75.7L184.6,76.2L185.0,76.7L185.5,77.3L185.9,77.8L186.4,78.3L186.8,78.9L187.3,79.4L187.7,80.0L188.2,80.5L188.6,81.1L189.0,81.6L189.4,82.2L189.9,82.7L190.3,83.3L190.7,83.9L191.1,84.4L191.5,85.0L192.0,85.6L192.4,86.1L192.8,86.7L193.2,87.3L193.6,87.8L194.0,88.4L194.4,89.0L194.8,89.6L195.2,90.1L195.6,90.7L196.0,91.3L196.4,91.9L196.8,92.4L197.2,93.0L197.6,93.6L198.0,94.2L198.4,94.7L198.8,95.3L199.2,95.9L199.6,96.5L200.0,97.0L200.4,97.6L200.8,98.2L201.2,98.8L201.6,99.3L202.0,99.9L202.4,100.5L202.8,101.1L203.2,101.6L203.6,102.2L204.0,102.8L204.4,103.3L204.9,103.9L205.3,104.5L205.7,105.0L206.1,105.6L206.5,106.1L207.0,106.7L207.4,107.3L207.8,107.8L208.2,108.4L208.7,108.9L209.1,109.4L209.6,110.0L210.0,110.5L210.5,111.1L210.9,111.6L211.4,112.2L211.8,112.7L212.3,113.2L212.7,113.8L213.2,114.3L213.7,114.8L214.2,115.3L214.7,115.7L215.3,116.1L215.9,116.5L216.5,116.8L217.2,117.0L217.8,117.1L218.5,117.2L219.2,117.2L219.9,117.2L220.6,117.0L221.2,116.8L221.9,116.5L222.5,116.2L223.1,115.8L223.7,115.5L224.3,115.1L224.9,114.8L225.6,114.5L226.2,114.3L226.9,114.0L227.5,113.8L228.2,113.6L228.9,113.4L229.6,113.3L230.3,113.3L230.9,113.4L231.6,113.5L232.3,113.7L233.0,113.9L233.6,114.1L234.3,114.4L234.9,114.7L235.5,115.1L236.1,115.5L236.6,115.9L237.2,116.3L237.7,116.7L238.3,117.2L238.8,117.6L239.4,118.0L240.0,118.5L240.5,118.9L241.1,119.3L241.7,119.6L242.3,120.0L242.9,120.3L243.5,120.5L244.2,120.6L244.9,120.6L245.6,120.5L246.2,120.2L246.9,120.0L247.5,119.7L248.1,119.4L248.8,119.1L249.4,118.8L250.0,118.5L250.7,118.2L251.3,117.9L251.9,117.6L252.6,117.4L253.3,117.3L254.0,117.3L254.7,117.4L255.3,117.5L256.0,117.7L256.7,117.8L257.4,117.9L258.1,117.8L258.7,117.7L259.4,117.5L260.0,117.2L260.7,116.9L261.3,116.7L262.0,116.6L262.7,116.6L263.4,116.6L264.1,116.6L264.8,116.7L265.5,116.8L266.2,116.9L266.9,116.9L267.6,116.9L268.3,117.0L269.0,117.0L269.7,117.0L270.4,117.0L271.1,117.0L271.8,117.0L272.5,117.0L273.2,117.0L273.9,117.0L274.6,117.1L275.3,117.1L276.0,117.1L276.7,117.1L277.4,117.1L278.1,117.1L278.8,117.1L279.5,117.1L280.2,117.1L280.9,117.1L281.6,117.1L282.3,117.1L283.0,117.1L283.7,117.1L284.4,117.1L285.1,117.1L285.8,117.1L286.5,117.1L287.2,117.1L287.9,117.1L288.6,117.1L289.3,117.1L290.0,117.1L290.7,117.1L291.4,117.1L292.1,117.1L292.8,117.1L293.5,117.2L294.2,117.2L294.9,117.2L295.6,117.2L296.3,117.2L297.0,117.2L297.7,117.2L298.4,117.2L299.1,117.2L299.8,117.2L300.5,117.2L301.2,117.2L301.9,117.2L302.6,117.2L303.3,117.2L304.0,117.2L304.7,117.2L305.4,117.2L306.1,117.2" fill="none" stroke="#e8323a" stroke-width="1.45" stroke-linejoin="round" stroke-linecap="round" clip-path="url(#ca)"/>
<path d="M46.6,58.9L47.3,58.9L48.0,58.9L48.7,58.9L49.4,58.9L50.1,58.9L50.8,58.9L51.5,58.9L52.2,58.9L52.9,58.9L53.6,58.9L54.3,58.9L55.0,58.9L55.7,58.9L56.4,58.9L57.1,58.9L57.8,58.9L58.5,58.9L59.2,58.9L59.9,58.9L60.6,58.9L61.3,58.9L62.0,58.9L62.7,58.9L63.4,58.9L64.1,58.9L64.8,58.9L65.5,58.9L66.2,58.9L66.9,58.9L67.6,58.9L68.3,58.9L69.0,58.9L69.7,58.9L70.4,58.9L71.1,58.9L71.8,58.9L72.5,58.9L73.2,58.9L73.9,58.9L74.6,58.9L75.3,58.9L76.0,58.9L76.7,58.9L77.4,58.9L78.1,58.9L78.8,58.9L79.5,58.9L80.2,58.9L80.9,58.9L81.6,58.9L82.3,58.9L83.0,58.9L83.7,58.9L84.4,58.9L85.1,58.9L85.8,58.9L86.5,58.9L87.2,58.9L87.9,58.9L88.6,58.9L89.3,58.9L90.0,58.9L90.7,58.9L91.4,58.9L92.1,58.9L92.8,58.9L93.5,58.9L94.2,58.9L94.9,58.9L95.6,58.9L96.3,58.9L97.0,58.9L97.7,58.9L98.4,58.9L99.1,58.9L99.8,58.9L100.5,58.9L101.2,58.9L101.9,58.9L102.6,58.9L103.3,58.9L104.0,58.9L104.7,58.9L105.4,58.9L106.1,58.9L106.8,58.9L107.5,58.9L108.2,58.9L108.9,58.9L109.6,58.9L110.3,58.9L111.0,58.9L111.7,58.9L112.4,58.9L113.1,58.9L113.8,58.9L114.5,58.9L115.2,58.9L115.9,59.0L116.6,59.0L117.3,59.0L118.0,59.0L118.7,59.0L119.4,59.0L120.1,59.0L120.8,59.0L121.5,59.1L122.2,59.1L122.9,59.1L123.6,59.1L124.3,59.1L125.0,59.2L125.7,59.2L126.4,59.2L127.1,59.2L127.8,59.3L128.5,59.3L129.2,59.3L129.9,59.3L130.6,59.4L131.3,59.4L132.0,59.4L132.7,59.4L133.4,59.4L134.1,59.4L134.8,59.5L135.5,59.5L136.2,59.5L136.9,59.5L137.6,59.6L138.3,59.6L139.0,59.7L139.7,59.7L140.4,59.8L141.1,59.8L141.8,59.9L142.5,59.9L143.2,60.0L143.9,60.0L144.6,60.1L145.3,60.2L146.0,60.3L146.7,60.3L147.4,60.4L148.1,60.5L148.8,60.6L149.4,60.7L150.1,60.8L150.8,60.9L151.5,61.0L152.2,61.1L152.9,61.2L153.6,61.3L154.3,61.4L155.0,61.6L155.7,61.7L156.4,61.8L157.0,62.0L157.7,62.1L158.4,62.3L159.1,62.4L159.8,62.6L160.5,62.7L161.1,62.9L161.8,63.1L162.5,63.2L163.2,63.4L163.8,63.6L164.5,63.8L165.2,64.0L165.9,64.2L166.5,64.4L167.2,64.6L167.9,64.9L168.5,65.1L169.2,65.3L169.8,65.6L170.5,65.8L171.1,66.1L171.8,66.4L172.4,66.7L173.0,67.0L173.7,67.3L174.3,67.6L174.9,67.9L175.5,68.2L176.2,68.5L176.8,68.9L177.4,69.2L178.0,69.6L178.6,70.0L179.2,70.3L179.8,70.7L180.3,71.1L180.9,71.5L181.5,71.9L182.0,72.3L182.6,72.7L183.2,73.2L183.7,73.6L184.2,74.1L184.8,74.5L185.3,75.0L185.8,75.4L186.4,75.9L186.9,76.4L187.4,76.8L187.9,77.3L188.4,77.8L188.9,78.3L189.4,78.8L189.9,79.3L190.4,79.8L190.8,80.3L191.3,80.8L191.8,81.3L192.3,81.9L192.7,82.4L193.2,82.9L193.7,83.4L194.1,83.9L194.6,84.5L195.0,85.0L195.5,85.5L195.9,86.1L196.4,86.6L196.8,87.2L197.3,87.7L197.7,88.2L198.2,88.8L198.6,89.3L199.0,89.9L199.5,90.4L199.9,91.0L200.3,91.5L200.8,92.1L201.2,92.6L201.6,93.2L202.1,93.7L202.5,94.3L202.9,94.8L203.3,95.4L203.8,96.0L204.2,96.5L204.6,97.1L205.0,97.6L205.5,98.2L205.9,98.8L206.3,99.3L206.7,99.9L207.1,100.4L207.6,101.0L208.0,101.6L208.4,102.1L208.8,102.7L209.2,103.2L209.7,103.8L210.1,104.4L210.5,104.9L210.9,105.5L211.2,106.1L211.6,106.7L212.0,107.3L212.4,107.9L212.7,108.5L213.1,109.0L213.5,109.6L214.0,110.2L214.4,110.7L214.9,111.2L215.3,111.8L215.8,112.3L216.3,112.8L216.8,113.3L217.3,113.8L217.8,114.3L218.3,114.8L218.8,115.2L219.3,115.7L219.9,116.1L220.4,116.5L221.0,116.9L221.7,117.2L222.3,117.5L222.9,117.7L223.6,118.0L224.3,118.2L224.9,118.5L225.6,118.7L226.2,118.9L226.9,119.2L227.5,119.4L228.2,119.7L228.8,119.9L229.5,120.2L230.1,120.6L230.7,121.0L231.3,121.3L231.8,121.7L232.4,122.2L232.9,122.6L233.5,123.0L234.0,123.5L234.6,123.9L235.1,124.3L235.7,124.8L236.2,125.2L236.8,125.6L237.3,126.1L237.9,126.5L238.4,126.9L239.0,127.4L239.5,127.8L240.0,128.3L240.5,128.8L241.0,129.3L241.4,129.9L241.9,130.3L242.5,130.8L243.0,131.2L243.7,131.5L244.3,131.7L245.0,131.8L245.6,131.8L246.3,131.7L246.9,131.4L247.6,131.2L248.2,130.9L248.9,130.6L249.5,130.4L250.2,130.2L250.9,130.0L251.5,129.9L252.2,129.8L252.9,129.8L253.6,129.8L254.3,129.8L255.0,129.9L255.7,129.9L256.4,130.0L257.1,130.0L257.8,130.1L258.5,130.1L259.2,130.2L259.9,130.2L260.6,130.3L261.3,130.3L262.0,130.3L262.7,130.3L263.4,130.4L264.1,130.4L264.8,130.4L265.5,130.4L266.2,130.4L266.9,130.4L267.6,130.5L268.3,130.5L269.0,130.5L269.7,130.5L270.4,130.5L271.1,130.6L271.8,130.6L272.5,130.6L273.2,130.6L273.9,130.7L274.6,130.7L275.3,130.7L276.0,130.8L276.7,130.8L277.4,130.8L278.1,130.8L278.8,130.9L279.5,130.9L280.2,130.9L280.9,130.9L281.6,130.9L282.3,130.9L283.0,131.0L283.7,131.0L284.4,131.0L285.1,131.0L285.8,131.0L286.5,131.0L287.2,131.0L287.9,131.0L288.6,131.0L289.3,131.0L290.0,131.0L290.7,131.0L291.4,131.0L292.1,131.0L292.8,131.0L293.5,130.9L294.2,130.9L294.9,130.9L295.6,130.9L296.3,130.9L297.0,130.9L297.7,130.9L298.4,130.9L299.1,130.8L299.8,130.8L300.5,130.8L301.2,130.8L301.9,130.8L302.6,130.8L303.3,130.8L304.0,130.7L304.7,130.7L305.4,130.7L306.1,130.7" fill="none" stroke="#b52a36" stroke-width="1.45" stroke-linejoin="round" stroke-linecap="round" clip-path="url(#ca)"/>
<path d="M46.6,58.9L47.3,58.9L48.0,58.9L48.7,58.9L49.4,58.9L50.1,58.9L50.8,58.9L51.5,58.9L52.2,58.9L52.9,58.9L53.6,58.9L54.3,58.9L55.0,58.9L55.7,58.9L56.4,58.9L57.1,58.9L57.8,58.9L58.5,58.9L59.2,58.9L59.9,58.9L60.6,58.9L61.3,58.9L62.0,58.9L62.7,58.9L63.4,58.9L64.1,58.9L64.8,58.9L65.5,58.8L66.2,58.8L66.9,58.8L67.6,58.8L68.3,58.8L69.0,58.8L69.7,58.8L70.4,58.8L71.1,58.8L71.8,58.8L72.5,58.8L73.2,58.8L73.9,58.8L74.6,58.8L75.3,58.8L76.0,58.8L76.7,58.8L77.4,58.8L78.1,58.8L78.8,58.8L79.5,58.8L80.2,58.8L80.9,58.8L81.6,58.8L82.3,58.8L83.0,58.8L83.7,58.8L84.5,58.8L85.2,58.8L85.9,58.8L86.6,58.8L87.3,58.8L88.0,58.8L88.7,58.8L89.4,58.8L90.1,58.8L90.8,58.8L91.5,58.8L92.2,58.8L92.9,58.8L93.6,58.8L94.3,58.8L95.0,58.8L95.7,58.8L96.4,58.8L97.1,58.8L97.8,58.8L98.5,58.8L99.2,58.8L99.9,58.8L100.6,58.8L101.3,58.8L102.0,58.8L102.7,58.8L103.3,58.8L103.8,58.8L104.1,58.8L104.0,58.8L103.7,58.8L103.7,58.8L104.0,58.9L104.5,58.9L105.1,58.9L105.8,58.9L106.5,59.0L107.2,59.0L107.9,59.0L108.6,59.1L109.3,59.1L110.0,59.1L110.7,59.2L111.4,59.2L112.1,59.3L112.8,59.3L113.5,59.4L114.2,59.4L114.9,59.5L115.6,59.5L116.3,59.6L117.0,59.7L117.7,59.7L118.4,59.8L119.1,59.9L119.8,60.0L120.5,60.0L121.2,60.1L121.9,60.2L122.6,60.3L123.3,60.4L124.0,60.5L124.7,60.6L125.4,60.7L126.1,60.8L126.8,60.9L127.5,61.0L128.1,61.1L128.8,61.2L129.5,61.3L130.2,61.5L130.9,61.6L131.6,61.7L132.3,61.8L133.0,62.0L133.7,62.1L134.3,62.3L135.0,62.4L135.7,62.6L136.4,62.7L137.1,62.9L137.8,63.0L138.4,63.2L139.1,63.4L139.8,63.5L140.5,63.7L141.2,63.9L141.8,64.1L142.5,64.3L143.2,64.5L143.9,64.7L144.5,64.9L145.2,65.1L145.9,65.3L146.5,65.5L147.2,65.7L147.9,65.9L148.5,66.1L149.2,66.4L149.9,66.6L150.5,66.8L151.2,67.1L151.8,67.3L152.5,67.5L153.2,67.8L153.8,68.0L154.5,68.3L155.1,68.6L155.8,68.8L156.4,69.1L157.0,69.4L157.7,69.6L158.3,69.9L159.0,70.2L159.6,70.5L160.3,70.8L160.9,71.1L161.5,71.4L162.2,71.7L162.8,72.0L163.4,72.3L164.0,72.6L164.7,72.9L165.3,73.3L165.9,73.6L166.5,73.9L167.1,74.3L167.8,74.6L168.4,74.9L169.0,75.3L169.6,75.6L170.2,76.0L170.8,76.4L171.4,76.7L172.0,77.1L172.6,77.5L173.2,77.8L173.7,78.2L174.3,78.6L174.9,79.0L175.5,79.4L176.1,79.8L176.6,80.2L177.2,80.6L177.7,81.1L178.3,81.5L178.9,81.9L179.4,82.4L180.0,82.8L180.5,83.2L181.0,83.7L181.6,84.1L182.1,84.6L182.6,85.1L183.1,85.5L183.7,86.0L184.2,86.5L184.7,87.0L185.2,87.5L185.7,87.9L186.2,88.4L186.7,88.9L187.2,89.4L187.6,89.9L188.1,90.5L188.6,91.0L189.1,91.5L189.5,92.0L190.0,92.5L190.5,93.1L190.9,93.6L191.4,94.1L191.8,94.7L192.3,95.2L192.7,95.8L193.1,96.3L193.6,96.9L194.0,97.4L194.4,98.0L194.9,98.5L195.3,99.1L195.7,99.7L196.1,100.2L196.5,100.8L196.9,101.4L197.3,101.9L197.7,102.5L198.1,103.1L198.5,103.7L198.9,104.3L199.3,104.8L199.7,105.4L200.1,106.0L200.5,106.6L200.8,107.2L201.2,107.8L201.6,108.4L202.0,108.9L202.3,109.5L202.7,110.1L203.1,110.7L203.5,111.3L203.8,111.9L204.2,112.5L204.6,113.1L204.9,113.7L205.3,114.3L205.6,114.9L206.0,115.5L206.4,116.1L206.7,116.7L207.1,117.3L207.4,117.9L207.8,118.5L208.1,119.1L208.5,119.7L208.8,120.4L209.2,121.0L209.5,121.6L209.9,122.2L210.3,122.8L210.6,123.4L211.0,124.0L211.3,124.6L211.7,125.2L212.0,125.8L212.4,126.4L212.7,127.0L213.1,127.6L213.4,128.2L213.8,128.8L214.1,129.4L214.5,130.0L214.8,130.6L215.2,131.3L215.6,131.9L215.9,132.5L216.3,133.1L216.6,133.7L217.0,134.3L217.4,134.9L217.7,135.5L218.1,136.1L218.5,136.6L218.8,137.2L219.2,137.8L219.6,138.4L220.0,139.0L220.3,139.6L220.7,140.2L221.1,140.8L221.5,141.4L221.9,142.0L222.3,142.5L222.7,143.1L223.1,143.7L223.5,144.3L223.9,144.8L224.3,145.4L224.7,146.0L225.1,146.5L225.6,147.1L226.0,147.6L226.4,148.2L226.8,148.7L227.3,149.3L227.7,149.8L228.2,150.4L228.6,150.9L229.1,151.4L229.6,151.9L230.1,152.5L230.5,153.0L231.0,153.5L231.5,154.0L232.0,154.5L232.5,154.9L233.0,155.4L233.6,155.9L234.1,156.3L234.6,156.8L235.2,157.2L235.7,157.7L236.3,158.1L236.9,158.5L237.5,158.9L238.1,159.2L238.7,159.6L239.3,159.9L239.8,160.3L240.4,160.7L241.0,161.1L241.6,161.5L242.1,161.9L242.7,162.3L243.3,162.6L244.0,162.9L244.6,163.1L245.3,163.2L246.0,163.2L246.7,163.2L247.4,163.1L248.1,163.1L248.8,163.1L249.5,163.0L250.2,163.0L250.9,163.0L251.6,163.0L252.3,163.1L253.0,163.2L253.7,163.3L254.4,163.4L255.1,163.6L255.7,163.7L256.4,163.9L257.1,164.0L257.8,164.1L258.5,164.2L259.2,164.3L259.9,164.4L260.6,164.5L261.3,164.6L262.0,164.7L262.7,164.8L263.4,164.8L264.1,164.9L264.8,165.0L265.5,165.0L266.2,165.1L266.9,165.1L267.6,165.1L268.3,165.2L269.0,165.2L269.7,165.2L270.4,165.2L271.1,165.3L271.8,165.3L272.5,165.3L273.2,165.3L273.9,165.3L274.6,165.4L275.3,165.4L276.0,165.4L276.7,165.4L277.4,165.4L278.1,165.4L278.8,165.5L279.5,165.5L280.2,165.5L280.9,165.5L281.6,165.5L282.3,165.5L283.0,165.6L283.7,165.6L284.4,165.6L285.1,165.6L285.8,165.6L286.5,165.6L287.2,165.6L287.9,165.7L288.6,165.7L289.3,165.7L290.0,165.7L290.7,165.7L291.4,165.7L292.1,165.7L292.8,165.7L293.5,165.8L294.2,165.8L294.9,165.8L295.6,165.8L296.3,165.8L297.0,165.8L297.7,165.8L298.4,165.9L299.1,165.9L299.8,165.9L300.5,165.9L301.2,165.9L301.9,165.9L302.6,165.9L303.3,165.9L304.0,166.0L304.7,166.0L305.4,166.0L306.1,166.0" fill="none" stroke="#151515" stroke-width="1.45" stroke-linejoin="round" stroke-linecap="round" clip-path="url(#ca)"/>
<text x="85.8" y="93.1" font-size="13" textLength="52.4" lengthAdjust="spacingAndGlyphs"><tspan font-style="italic">&#948;</tspan> = 50 nm</text>
<line x1="148.8" y1="89.1" x2="166.3" y2="89.1" stroke="#2f5fbd" stroke-width="1.7"/>
<text x="78.6" y="106.95" font-size="13" textLength="59.6" lengthAdjust="spacingAndGlyphs"><tspan font-style="italic">&#948;</tspan> = 200 nm</text>
<line x1="148.8" y1="102.95" x2="166.3" y2="102.95" stroke="#8a45b8" stroke-width="1.7"/>
<text x="91.8" y="120.8" font-size="13" textLength="46.4" lengthAdjust="spacingAndGlyphs"><tspan font-style="italic">&#948;</tspan> = 1 <tspan font-style="italic">&#956;</tspan>m</text>
<line x1="148.8" y1="116.8" x2="166.3" y2="116.8" stroke="#e8323a" stroke-width="1.7"/>
<text x="85.2" y="134.65" font-size="13" textLength="53" lengthAdjust="spacingAndGlyphs"><tspan font-style="italic">&#948;</tspan> = 10 <tspan font-style="italic">&#956;</tspan>m</text>
<line x1="148.8" y1="130.65" x2="166.3" y2="130.65" stroke="#f3a228" stroke-width="1.7"/>
<text x="78.3" y="148.5" font-size="13" textLength="59.9" lengthAdjust="spacingAndGlyphs"><tspan font-style="italic">&#948;</tspan> = 100 <tspan font-style="italic">&#956;</tspan>m</text>
<line x1="148.8" y1="144.5" x2="166.3" y2="144.5" stroke="#b52a36" stroke-width="1.7"/>
<text x="98" y="162.35" font-size="13" textLength="40.2" lengthAdjust="spacingAndGlyphs">opaque</text>
<line x1="148.8" y1="158.35" x2="166.3" y2="158.35" stroke="#151515" stroke-width="1.7"/>
<line x1="46.6" y1="371.3" x2="46.6" y2="366.8" stroke="#5c5c5c" stroke-width="0.95"/>
<line x1="46.6" y1="205.6" x2="46.6" y2="210.1" stroke="#5c5c5c" stroke-width="0.95"/>
<line x1="62.22" y1="371.3" x2="62.22" y2="369.1" stroke="#5c5c5c" stroke-width="0.95"/>
<line x1="62.22" y1="205.6" x2="62.22" y2="207.8" stroke="#5c5c5c" stroke-width="0.95"/>
<line x1="71.36" y1="371.3" x2="71.36" y2="369.1" stroke="#5c5c5c" stroke-width="0.95"/>
<line x1="71.36" y1="205.6" x2="71.36" y2="207.8" stroke="#5c5c5c" stroke-width="0.95"/>
<line x1="77.85" y1="371.3" x2="77.85" y2="369.1" stroke="#5c5c5c" stroke-width="0.95"/>
<line x1="77.85" y1="205.6" x2="77.85" y2="207.8" stroke="#5c5c5c" stroke-width="0.95"/>
<line x1="82.88" y1="371.3" x2="82.88" y2="369.1" stroke="#5c5c5c" stroke-width="0.95"/>
<line x1="82.88" y1="205.6" x2="82.88" y2="207.8" stroke="#5c5c5c" stroke-width="0.95"/>
<line x1="86.99" y1="371.3" x2="86.99" y2="369.1" stroke="#5c5c5c" stroke-width="0.95"/>
<line x1="86.99" y1="205.6" x2="86.99" y2="207.8" stroke="#5c5c5c" stroke-width="0.95"/>
<line x1="90.46" y1="371.3" x2="90.46" y2="369.1" stroke="#5c5c5c" stroke-width="0.95"/>
<line x1="90.46" y1="205.6" x2="90.46" y2="207.8" stroke="#5c5c5c" stroke-width="0.95"/>
<line x1="93.47" y1="371.3" x2="93.47" y2="369.1" stroke="#5c5c5c" stroke-width="0.95"/>
<line x1="93.47" y1="205.6" x2="93.47" y2="207.8" stroke="#5c5c5c" stroke-width="0.95"/>
<line x1="96.13" y1="371.3" x2="96.13" y2="369.1" stroke="#5c5c5c" stroke-width="0.95"/>
<line x1="96.13" y1="205.6" x2="96.13" y2="207.8" stroke="#5c5c5c" stroke-width="0.95"/>
<line x1="98.5" y1="371.3" x2="98.5" y2="366.8" stroke="#5c5c5c" stroke-width="0.95"/>
<line x1="98.5" y1="205.6" x2="98.5" y2="210.1" stroke="#5c5c5c" stroke-width="0.95"/>
<line x1="114.12" y1="371.3" x2="114.12" y2="369.1" stroke="#5c5c5c" stroke-width="0.95"/>
<line x1="114.12" y1="205.6" x2="114.12" y2="207.8" stroke="#5c5c5c" stroke-width="0.95"/>
<line x1="123.26" y1="371.3" x2="123.26" y2="369.1" stroke="#5c5c5c" stroke-width="0.95"/>
<line x1="123.26" y1="205.6" x2="123.26" y2="207.8" stroke="#5c5c5c" stroke-width="0.95"/>
<line x1="129.75" y1="371.3" x2="129.75" y2="369.1" stroke="#5c5c5c" stroke-width="0.95"/>
<line x1="129.75" y1="205.6" x2="129.75" y2="207.8" stroke="#5c5c5c" stroke-width="0.95"/>
<line x1="134.78" y1="371.3" x2="134.78" y2="369.1" stroke="#5c5c5c" stroke-width="0.95"/>
<line x1="134.78" y1="205.6" x2="134.78" y2="207.8" stroke="#5c5c5c" stroke-width="0.95"/>
<line x1="138.89" y1="371.3" x2="138.89" y2="369.1" stroke="#5c5c5c" stroke-width="0.95"/>
<line x1="138.89" y1="205.6" x2="138.89" y2="207.8" stroke="#5c5c5c" stroke-width="0.95"/>
<line x1="142.36" y1="371.3" x2="142.36" y2="369.1" stroke="#5c5c5c" stroke-width="0.95"/>
<line x1="142.36" y1="205.6" x2="142.36" y2="207.8" stroke="#5c5c5c" stroke-width="0.95"/>
<line x1="145.37" y1="371.3" x2="145.37" y2="369.1" stroke="#5c5c5c" stroke-width="0.95"/>
<line x1="145.37" y1="205.6" x2="145.37" y2="207.8" stroke="#5c5c5c" stroke-width="0.95"/>
<line x1="148.03" y1="371.3" x2="148.03" y2="369.1" stroke="#5c5c5c" stroke-width="0.95"/>
<line x1="148.03" y1="205.6" x2="148.03" y2="207.8" stroke="#5c5c5c" stroke-width="0.95"/>
<line x1="150.4" y1="371.3" x2="150.4" y2="366.8" stroke="#5c5c5c" stroke-width="0.95"/>
<line x1="150.4" y1="205.6" x2="150.4" y2="210.1" stroke="#5c5c5c" stroke-width="0.95"/>
<line x1="166.02" y1="371.3" x2="166.02" y2="369.1" stroke="#5c5c5c" stroke-width="0.95"/>
<line x1="166.02" y1="205.6" x2="166.02" y2="207.8" stroke="#5c5c5c" stroke-width="0.95"/>
<line x1="175.16" y1="371.3" x2="175.16" y2="369.1" stroke="#5c5c5c" stroke-width="0.95"/>
<line x1="175.16" y1="205.6" x2="175.16" y2="207.8" stroke="#5c5c5c" stroke-width="0.95"/>
<line x1="181.65" y1="371.3" x2="181.65" y2="369.1" stroke="#5c5c5c" stroke-width="0.95"/>
<line x1="181.65" y1="205.6" x2="181.65" y2="207.8" stroke="#5c5c5c" stroke-width="0.95"/>
<line x1="186.68" y1="371.3" x2="186.68" y2="369.1" stroke="#5c5c5c" stroke-width="0.95"/>
<line x1="186.68" y1="205.6" x2="186.68" y2="207.8" stroke="#5c5c5c" stroke-width="0.95"/>
<line x1="190.79" y1="371.3" x2="190.79" y2="369.1" stroke="#5c5c5c" stroke-width="0.95"/>
<line x1="190.79" y1="205.6" x2="190.79" y2="207.8" stroke="#5c5c5c" stroke-width="0.95"/>
<line x1="194.26" y1="371.3" x2="194.26" y2="369.1" stroke="#5c5c5c" stroke-width="0.95"/>
<line x1="194.26" y1="205.6" x2="194.26" y2="207.8" stroke="#5c5c5c" stroke-width="0.95"/>
<line x1="197.27" y1="371.3" x2="197.27" y2="369.1" stroke="#5c5c5c" stroke-width="0.95"/>
<line x1="197.27" y1="205.6" x2="197.27" y2="207.8" stroke="#5c5c5c" stroke-width="0.95"/>
<line x1="199.93" y1="371.3" x2="199.93" y2="369.1" stroke="#5c5c5c" stroke-width="0.95"/>
<line x1="199.93" y1="205.6" x2="199.93" y2="207.8" stroke="#5c5c5c" stroke-width="0.95"/>
<line x1="202.3" y1="371.3" x2="202.3" y2="366.8" stroke="#5c5c5c" stroke-width="0.95"/>
<line x1="202.3" y1="205.6" x2="202.3" y2="210.1" stroke="#5c5c5c" stroke-width="0.95"/>
<line x1="217.92" y1="371.3" x2="217.92" y2="369.1" stroke="#5c5c5c" stroke-width="0.95"/>
<line x1="217.92" y1="205.6" x2="217.92" y2="207.8" stroke="#5c5c5c" stroke-width="0.95"/>
<line x1="227.06" y1="371.3" x2="227.06" y2="369.1" stroke="#5c5c5c" stroke-width="0.95"/>
<line x1="227.06" y1="205.6" x2="227.06" y2="207.8" stroke="#5c5c5c" stroke-width="0.95"/>
<line x1="233.55" y1="371.3" x2="233.55" y2="369.1" stroke="#5c5c5c" stroke-width="0.95"/>
<line x1="233.55" y1="205.6" x2="233.55" y2="207.8" stroke="#5c5c5c" stroke-width="0.95"/>
<line x1="238.58" y1="371.3" x2="238.58" y2="369.1" stroke="#5c5c5c" stroke-width="0.95"/>
<line x1="238.58" y1="205.6" x2="238.58" y2="207.8" stroke="#5c5c5c" stroke-width="0.95"/>
<line x1="242.69" y1="371.3" x2="242.69" y2="369.1" stroke="#5c5c5c" stroke-width="0.95"/>
<line x1="242.69" y1="205.6" x2="242.69" y2="207.8" stroke="#5c5c5c" stroke-width="0.95"/>
<line x1="246.16" y1="371.3" x2="246.16" y2="369.1" stroke="#5c5c5c" stroke-width="0.95"/>
<line x1="246.16" y1="205.6" x2="246.16" y2="207.8" stroke="#5c5c5c" stroke-width="0.95"/>
<line x1="249.17" y1="371.3" x2="249.17" y2="369.1" stroke="#5c5c5c" stroke-width="0.95"/>
<line x1="249.17" y1="205.6" x2="249.17" y2="207.8" stroke="#5c5c5c" stroke-width="0.95"/>
<line x1="251.83" y1="371.3" x2="251.83" y2="369.1" stroke="#5c5c5c" stroke-width="0.95"/>
<line x1="251.83" y1="205.6" x2="251.83" y2="207.8" stroke="#5c5c5c" stroke-width="0.95"/>
<line x1="254.2" y1="371.3" x2="254.2" y2="366.8" stroke="#5c5c5c" stroke-width="0.95"/>
<line x1="254.2" y1="205.6" x2="254.2" y2="210.1" stroke="#5c5c5c" stroke-width="0.95"/>
<line x1="269.82" y1="371.3" x2="269.82" y2="369.1" stroke="#5c5c5c" stroke-width="0.95"/>
<line x1="269.82" y1="205.6" x2="269.82" y2="207.8" stroke="#5c5c5c" stroke-width="0.95"/>
<line x1="278.96" y1="371.3" x2="278.96" y2="369.1" stroke="#5c5c5c" stroke-width="0.95"/>
<line x1="278.96" y1="205.6" x2="278.96" y2="207.8" stroke="#5c5c5c" stroke-width="0.95"/>
<line x1="285.45" y1="371.3" x2="285.45" y2="369.1" stroke="#5c5c5c" stroke-width="0.95"/>
<line x1="285.45" y1="205.6" x2="285.45" y2="207.8" stroke="#5c5c5c" stroke-width="0.95"/>
<line x1="290.48" y1="371.3" x2="290.48" y2="369.1" stroke="#5c5c5c" stroke-width="0.95"/>
<line x1="290.48" y1="205.6" x2="290.48" y2="207.8" stroke="#5c5c5c" stroke-width="0.95"/>
<line x1="294.59" y1="371.3" x2="294.59" y2="369.1" stroke="#5c5c5c" stroke-width="0.95"/>
<line x1="294.59" y1="205.6" x2="294.59" y2="207.8" stroke="#5c5c5c" stroke-width="0.95"/>
<line x1="298.06" y1="371.3" x2="298.06" y2="369.1" stroke="#5c5c5c" stroke-width="0.95"/>
<line x1="298.06" y1="205.6" x2="298.06" y2="207.8" stroke="#5c5c5c" stroke-width="0.95"/>
<line x1="301.07" y1="371.3" x2="301.07" y2="369.1" stroke="#5c5c5c" stroke-width="0.95"/>
<line x1="301.07" y1="205.6" x2="301.07" y2="207.8" stroke="#5c5c5c" stroke-width="0.95"/>
<line x1="303.73" y1="371.3" x2="303.73" y2="369.1" stroke="#5c5c5c" stroke-width="0.95"/>
<line x1="303.73" y1="205.6" x2="303.73" y2="207.8" stroke="#5c5c5c" stroke-width="0.95"/>
<line x1="306.1" y1="371.3" x2="306.1" y2="366.8" stroke="#5c5c5c" stroke-width="0.95"/>
<line x1="306.1" y1="205.6" x2="306.1" y2="210.1" stroke="#5c5c5c" stroke-width="0.95"/>
<line x1="46.6" y1="362.09" x2="51.1" y2="362.09" stroke="#5c5c5c" stroke-width="0.95"/>
<line x1="306.1" y1="362.09" x2="301.6" y2="362.09" stroke="#5c5c5c" stroke-width="0.95"/>
<line x1="46.6" y1="325.27" x2="51.1" y2="325.27" stroke="#5c5c5c" stroke-width="0.95"/>
<line x1="306.1" y1="325.27" x2="301.6" y2="325.27" stroke="#5c5c5c" stroke-width="0.95"/>
<line x1="46.6" y1="288.45" x2="51.1" y2="288.45" stroke="#5c5c5c" stroke-width="0.95"/>
<line x1="306.1" y1="288.45" x2="301.6" y2="288.45" stroke="#5c5c5c" stroke-width="0.95"/>
<line x1="46.6" y1="251.63" x2="51.1" y2="251.63" stroke="#5c5c5c" stroke-width="0.95"/>
<line x1="306.1" y1="251.63" x2="301.6" y2="251.63" stroke="#5c5c5c" stroke-width="0.95"/>
<line x1="46.6" y1="214.81" x2="51.1" y2="214.81" stroke="#5c5c5c" stroke-width="0.95"/>
<line x1="306.1" y1="214.81" x2="301.6" y2="214.81" stroke="#5c5c5c" stroke-width="0.95"/>
<line x1="46.6" y1="369.46" x2="48.8" y2="369.46" stroke="#5c5c5c" stroke-width="0.95"/>
<line x1="306.1" y1="369.46" x2="303.9" y2="369.46" stroke="#5c5c5c" stroke-width="0.95"/>
<line x1="46.6" y1="365.78" x2="48.8" y2="365.78" stroke="#5c5c5c" stroke-width="0.95"/>
<line x1="306.1" y1="365.78" x2="303.9" y2="365.78" stroke="#5c5c5c" stroke-width="0.95"/>
<line x1="46.6" y1="358.41" x2="48.8" y2="358.41" stroke="#5c5c5c" stroke-width="0.95"/>
<line x1="306.1" y1="358.41" x2="303.9" y2="358.41" stroke="#5c5c5c" stroke-width="0.95"/>
<line x1="46.6" y1="354.73" x2="48.8" y2="354.73" stroke="#5c5c5c" stroke-width="0.95"/>
<line x1="306.1" y1="354.73" x2="303.9" y2="354.73" stroke="#5c5c5c" stroke-width="0.95"/>
<line x1="46.6" y1="351.05" x2="48.8" y2="351.05" stroke="#5c5c5c" stroke-width="0.95"/>
<line x1="306.1" y1="351.05" x2="303.9" y2="351.05" stroke="#5c5c5c" stroke-width="0.95"/>
<line x1="46.6" y1="347.37" x2="48.8" y2="347.37" stroke="#5c5c5c" stroke-width="0.95"/>
<line x1="306.1" y1="347.37" x2="303.9" y2="347.37" stroke="#5c5c5c" stroke-width="0.95"/>
<line x1="46.6" y1="343.68" x2="48.8" y2="343.68" stroke="#5c5c5c" stroke-width="0.95"/>
<line x1="306.1" y1="343.68" x2="303.9" y2="343.68" stroke="#5c5c5c" stroke-width="0.95"/>
<line x1="46.6" y1="340" x2="48.8" y2="340" stroke="#5c5c5c" stroke-width="0.95"/>
<line x1="306.1" y1="340" x2="303.9" y2="340" stroke="#5c5c5c" stroke-width="0.95"/>
<line x1="46.6" y1="336.32" x2="48.8" y2="336.32" stroke="#5c5c5c" stroke-width="0.95"/>
<line x1="306.1" y1="336.32" x2="303.9" y2="336.32" stroke="#5c5c5c" stroke-width="0.95"/>
<line x1="46.6" y1="332.64" x2="48.8" y2="332.64" stroke="#5c5c5c" stroke-width="0.95"/>
<line x1="306.1" y1="332.64" x2="303.9" y2="332.64" stroke="#5c5c5c" stroke-width="0.95"/>
<line x1="46.6" y1="328.95" x2="48.8" y2="328.95" stroke="#5c5c5c" stroke-width="0.95"/>
<line x1="306.1" y1="328.95" x2="303.9" y2="328.95" stroke="#5c5c5c" stroke-width="0.95"/>
<line x1="46.6" y1="321.59" x2="48.8" y2="321.59" stroke="#5c5c5c" stroke-width="0.95"/>
<line x1="306.1" y1="321.59" x2="303.9" y2="321.59" stroke="#5c5c5c" stroke-width="0.95"/>
<line x1="46.6" y1="317.91" x2="48.8" y2="317.91" stroke="#5c5c5c" stroke-width="0.95"/>
<line x1="306.1" y1="317.91" x2="303.9" y2="317.91" stroke="#5c5c5c" stroke-width="0.95"/>
<line x1="46.6" y1="314.23" x2="48.8" y2="314.23" stroke="#5c5c5c" stroke-width="0.95"/>
<line x1="306.1" y1="314.23" x2="303.9" y2="314.23" stroke="#5c5c5c" stroke-width="0.95"/>
<line x1="46.6" y1="310.54" x2="48.8" y2="310.54" stroke="#5c5c5c" stroke-width="0.95"/>
<line x1="306.1" y1="310.54" x2="303.9" y2="310.54" stroke="#5c5c5c" stroke-width="0.95"/>
<line x1="46.6" y1="306.86" x2="48.8" y2="306.86" stroke="#5c5c5c" stroke-width="0.95"/>
<line x1="306.1" y1="306.86" x2="303.9" y2="306.86" stroke="#5c5c5c" stroke-width="0.95"/>
<line x1="46.6" y1="303.18" x2="48.8" y2="303.18" stroke="#5c5c5c" stroke-width="0.95"/>
<line x1="306.1" y1="303.18" x2="303.9" y2="303.18" stroke="#5c5c5c" stroke-width="0.95"/>
<line x1="46.6" y1="299.5" x2="48.8" y2="299.5" stroke="#5c5c5c" stroke-width="0.95"/>
<line x1="306.1" y1="299.5" x2="303.9" y2="299.5" stroke="#5c5c5c" stroke-width="0.95"/>
<line x1="46.6" y1="295.81" x2="48.8" y2="295.81" stroke="#5c5c5c" stroke-width="0.95"/>
<line x1="306.1" y1="295.81" x2="303.9" y2="295.81" stroke="#5c5c5c" stroke-width="0.95"/>
<line x1="46.6" y1="292.13" x2="48.8" y2="292.13" stroke="#5c5c5c" stroke-width="0.95"/>
<line x1="306.1" y1="292.13" x2="303.9" y2="292.13" stroke="#5c5c5c" stroke-width="0.95"/>
<line x1="46.6" y1="284.77" x2="48.8" y2="284.77" stroke="#5c5c5c" stroke-width="0.95"/>
<line x1="306.1" y1="284.77" x2="303.9" y2="284.77" stroke="#5c5c5c" stroke-width="0.95"/>
<line x1="46.6" y1="281.09" x2="48.8" y2="281.09" stroke="#5c5c5c" stroke-width="0.95"/>
<line x1="306.1" y1="281.09" x2="303.9" y2="281.09" stroke="#5c5c5c" stroke-width="0.95"/>
<line x1="46.6" y1="277.4" x2="48.8" y2="277.4" stroke="#5c5c5c" stroke-width="0.95"/>
<line x1="306.1" y1="277.4" x2="303.9" y2="277.4" stroke="#5c5c5c" stroke-width="0.95"/>
<line x1="46.6" y1="273.72" x2="48.8" y2="273.72" stroke="#5c5c5c" stroke-width="0.95"/>
<line x1="306.1" y1="273.72" x2="303.9" y2="273.72" stroke="#5c5c5c" stroke-width="0.95"/>
<line x1="46.6" y1="270.04" x2="48.8" y2="270.04" stroke="#5c5c5c" stroke-width="0.95"/>
<line x1="306.1" y1="270.04" x2="303.9" y2="270.04" stroke="#5c5c5c" stroke-width="0.95"/>
<line x1="46.6" y1="266.36" x2="48.8" y2="266.36" stroke="#5c5c5c" stroke-width="0.95"/>
<line x1="306.1" y1="266.36" x2="303.9" y2="266.36" stroke="#5c5c5c" stroke-width="0.95"/>
<line x1="46.6" y1="262.67" x2="48.8" y2="262.67" stroke="#5c5c5c" stroke-width="0.95"/>
<line x1="306.1" y1="262.67" x2="303.9" y2="262.67" stroke="#5c5c5c" stroke-width="0.95"/>
<line x1="46.6" y1="258.99" x2="48.8" y2="258.99" stroke="#5c5c5c" stroke-width="0.95"/>
<line x1="306.1" y1="258.99" x2="303.9" y2="258.99" stroke="#5c5c5c" stroke-width="0.95"/>
<line x1="46.6" y1="255.31" x2="48.8" y2="255.31" stroke="#5c5c5c" stroke-width="0.95"/>
<line x1="306.1" y1="255.31" x2="303.9" y2="255.31" stroke="#5c5c5c" stroke-width="0.95"/>
<line x1="46.6" y1="247.95" x2="48.8" y2="247.95" stroke="#5c5c5c" stroke-width="0.95"/>
<line x1="306.1" y1="247.95" x2="303.9" y2="247.95" stroke="#5c5c5c" stroke-width="0.95"/>
<line x1="46.6" y1="244.26" x2="48.8" y2="244.26" stroke="#5c5c5c" stroke-width="0.95"/>
<line x1="306.1" y1="244.26" x2="303.9" y2="244.26" stroke="#5c5c5c" stroke-width="0.95"/>
<line x1="46.6" y1="240.58" x2="48.8" y2="240.58" stroke="#5c5c5c" stroke-width="0.95"/>
<line x1="306.1" y1="240.58" x2="303.9" y2="240.58" stroke="#5c5c5c" stroke-width="0.95"/>
<line x1="46.6" y1="236.9" x2="48.8" y2="236.9" stroke="#5c5c5c" stroke-width="0.95"/>
<line x1="306.1" y1="236.9" x2="303.9" y2="236.9" stroke="#5c5c5c" stroke-width="0.95"/>
<line x1="46.6" y1="233.22" x2="48.8" y2="233.22" stroke="#5c5c5c" stroke-width="0.95"/>
<line x1="306.1" y1="233.22" x2="303.9" y2="233.22" stroke="#5c5c5c" stroke-width="0.95"/>
<line x1="46.6" y1="229.53" x2="48.8" y2="229.53" stroke="#5c5c5c" stroke-width="0.95"/>
<line x1="306.1" y1="229.53" x2="303.9" y2="229.53" stroke="#5c5c5c" stroke-width="0.95"/>
<line x1="46.6" y1="225.85" x2="48.8" y2="225.85" stroke="#5c5c5c" stroke-width="0.95"/>
<line x1="306.1" y1="225.85" x2="303.9" y2="225.85" stroke="#5c5c5c" stroke-width="0.95"/>
<line x1="46.6" y1="222.17" x2="48.8" y2="222.17" stroke="#5c5c5c" stroke-width="0.95"/>
<line x1="306.1" y1="222.17" x2="303.9" y2="222.17" stroke="#5c5c5c" stroke-width="0.95"/>
<line x1="46.6" y1="218.49" x2="48.8" y2="218.49" stroke="#5c5c5c" stroke-width="0.95"/>
<line x1="306.1" y1="218.49" x2="303.9" y2="218.49" stroke="#5c5c5c" stroke-width="0.95"/>
<line x1="46.6" y1="211.12" x2="48.8" y2="211.12" stroke="#5c5c5c" stroke-width="0.95"/>
<line x1="306.1" y1="211.12" x2="303.9" y2="211.12" stroke="#5c5c5c" stroke-width="0.95"/>
<line x1="46.6" y1="207.44" x2="48.8" y2="207.44" stroke="#5c5c5c" stroke-width="0.95"/>
<line x1="306.1" y1="207.44" x2="303.9" y2="207.44" stroke="#5c5c5c" stroke-width="0.95"/>
<rect x="46.6" y="205.6" width="259.5" height="165.7" fill="none" stroke="#6e6e6e" stroke-width="1.1"/>
<text x="44.6" y="366.19" font-size="12" text-anchor="end">320</text>
<text x="44.6" y="329.37" font-size="12" text-anchor="end">340</text>
<text x="44.6" y="292.55" font-size="12" text-anchor="end">360</text>
<text x="44.6" y="255.73" font-size="12" text-anchor="end">380</text>
<text x="44.6" y="218.91" font-size="12" text-anchor="end">400</text>
<text x="46.8" y="384" font-size="12" text-anchor="middle">1</text>
<text x="98.5" y="384" font-size="12" text-anchor="middle">10</text>
<text x="142.2" y="384" font-size="12" textLength="16" lengthAdjust="spacingAndGlyphs">10<tspan font-size="8.4" dy="-4.5">2</tspan></text>
<text x="194.1" y="384" font-size="12" textLength="16" lengthAdjust="spacingAndGlyphs">10<tspan font-size="8.4" dy="-4.5">3</tspan></text>
<text x="246" y="384" font-size="12" textLength="16" lengthAdjust="spacingAndGlyphs">10<tspan font-size="8.4" dy="-4.5">4</tspan></text>
<text x="297.9" y="384" font-size="12" textLength="16" lengthAdjust="spacingAndGlyphs">10<tspan font-size="8.4" dy="-4.5">5</tspan></text>
<text x="268.6" y="235" font-size="16.5" textLength="18.2" lengthAdjust="spacingAndGlyphs">(b)</text>
<g transform="translate(13,313.6) rotate(-90)">
<text x="-0.6" y="0" font-size="16.5" font-style="italic" textLength="11.4" lengthAdjust="spacingAndGlyphs">T</text>
<text x="11.2" y="-5.6" font-size="12" textLength="7.6" lengthAdjust="spacingAndGlyphs">st</text>
<text x="9.6" y="1.4" font-size="11.5" textLength="5.6" lengthAdjust="spacingAndGlyphs">2</text>
<text x="28.4" y="0.3" font-size="18" textLength="21.2" lengthAdjust="spacingAndGlyphs">(K)</text>
</g>
<text x="153.5" y="400.6" font-size="15.5" textLength="45.3" lengthAdjust="spacingAndGlyphs"><tspan font-style="italic">d</tspan> (nm)</text>
<path d="M46.6,214.8L47.3,214.8L48.0,214.8L48.7,214.8L49.4,214.8L50.1,214.8L50.8,214.8L51.5,214.8L52.2,214.8L52.9,214.8L53.6,214.8L54.3,214.8L55.0,214.8L55.7,214.8L56.4,214.8L57.1,214.8L57.8,214.8L58.5,214.8L59.2,214.8L59.9,214.8L60.6,214.8L61.3,214.8L62.0,214.8L62.7,214.8L63.4,214.8L64.1,214.8L64.8,214.8L65.5,214.8L66.2,214.8L66.9,214.8L67.6,214.8L68.3,214.8L69.0,214.8L69.7,214.8L70.4,214.8L71.1,214.8L71.8,214.8L72.5,214.8L73.2,214.8L73.9,214.8L74.6,214.8L75.3,214.8L76.0,214.8L76.7,214.8L77.4,214.8L78.1,214.8L78.8,214.8L79.5,214.8L80.3,214.8L81.0,214.8L81.7,214.8L82.4,214.8L83.1,214.8L83.8,214.8L84.5,214.8L85.2,214.8L85.9,214.8L86.6,214.8L87.3,214.9L88.0,214.9L88.7,214.9L89.4,214.9L90.1,214.9L90.8,214.9L91.5,214.9L92.2,214.9L92.9,214.9L93.6,214.9L94.3,214.9L95.0,214.9L95.7,214.9L96.4,214.9L97.1,214.9L97.8,214.9L98.5,214.9L99.2,214.9L99.9,214.9L100.6,214.9L101.3,214.9L102.0,214.9L102.7,214.9L103.4,214.9L104.1,214.9L104.8,214.9L105.5,214.9L106.2,214.9L106.9,214.9L107.6,214.9L108.3,214.9L109.0,214.9L109.7,214.9L110.4,214.9L111.1,214.9L111.8,214.9L112.5,214.9L113.2,214.9L113.9,214.9L114.6,214.9L115.3,214.9L116.0,214.9L116.7,214.9L117.4,214.9L118.1,214.9L118.8,214.9L119.5,214.9L120.2,214.9L120.9,214.9L121.6,214.9L122.3,214.9L123.0,214.9L123.7,214.9L124.4,214.9L125.1,214.9L125.8,214.9L126.5,214.9L127.2,214.9L127.9,214.9L128.6,214.9L129.3,214.9L130.0,214.9L130.7,214.9L131.4,214.9L132.1,214.9L132.8,214.9L133.5,214.9L134.2,214.9L134.9,214.9L135.6,214.9L136.3,214.9L137.0,214.9L137.7,214.9L138.4,214.9L139.1,214.9L139.8,214.9L140.5,214.9L141.2,214.9L141.9,214.9L142.6,214.9L143.3,214.9L144.0,214.9L144.7,214.9L145.4,214.9L146.1,214.9L146.6,214.9L146.9,214.9L146.8,214.9L146.4,214.9L145.7,214.9L145.1,214.9L144.4,214.9L144.0,214.8L143.8,214.8L144.1,214.8L144.6,214.8L145.2,214.8L145.9,214.8L146.6,214.8L147.3,214.8L148.0,214.8L148.7,214.8L149.4,214.8L150.1,214.8L150.8,214.9L151.5,214.9L152.2,214.9L152.9,214.9L153.6,214.9L154.3,215.0L155.0,215.0L155.7,215.0L156.4,215.1L157.1,215.1L157.8,215.2L158.5,215.2L159.2,215.3L159.9,215.3L160.6,215.4L161.3,215.4L162.0,215.5L162.7,215.5L163.4,215.6L164.1,215.7L164.8,215.8L165.5,215.8L166.2,215.9L166.9,216.0L167.6,216.1L168.3,216.2L169.0,216.3L169.7,216.4L170.4,216.5L171.1,216.6L171.8,216.7L172.5,216.9L173.1,217.0L173.8,217.2L174.5,217.3L175.2,217.5L175.9,217.7L176.5,217.9L177.2,218.1L177.8,218.4L178.5,218.7L179.1,219.0L179.8,219.3L180.4,219.6L181.0,220.0L181.6,220.3L182.1,220.7L182.7,221.1L183.3,221.5L183.8,222.0L184.4,222.4L184.9,222.9L185.4,223.4L185.9,223.9L186.4,224.4L186.8,224.9L187.3,225.4L187.8,226.0L188.2,226.5L188.6,227.1L189.1,227.6L189.5,228.2L189.9,228.8L190.3,229.3L190.7,229.9L191.1,230.5L191.4,231.1L191.8,231.7L192.2,232.3L192.5,232.9L192.9,233.5L193.2,234.1L193.5,234.7L193.9,235.4L194.2,236.0L194.5,236.6L194.8,237.2L195.1,237.9L195.4,238.5L195.7,239.1L196.0,239.8L196.3,240.4L196.6,241.0L196.9,241.7L197.2,242.3L197.4,243.0L197.7,243.6L198.0,244.3L198.2,244.9L198.5,245.6L198.7,246.2L199.0,246.9L199.3,247.5L199.5,248.2L199.8,248.8L200.0,249.5L200.2,250.1L200.5,250.8L200.7,251.5L201.0,252.1L201.2,252.8L201.4,253.4L201.7,254.1L201.9,254.8L202.1,255.4L202.3,256.1L202.6,256.8L202.8,257.4L203.0,258.1L203.2,258.8L203.5,259.4L203.7,260.1L203.9,260.7L204.1,261.4L204.3,262.1L204.6,262.7L204.8,263.4L205.0,264.1L205.2,264.8L205.4,265.4L205.6,266.1L205.8,266.8L206.0,267.4L206.2,268.1L206.4,268.8L206.7,269.4L206.9,270.1L207.1,270.8L207.3,271.4L207.5,272.1L207.7,272.8L207.9,273.5L208.1,274.1L208.3,274.8L208.5,275.5L208.7,276.1L208.9,276.8L209.1,277.5L209.3,278.2L209.5,278.8L209.7,279.5L209.9,280.2L210.1,280.9L210.3,281.5L210.5,282.2L210.7,282.9L210.9,283.5L211.1,284.2L211.3,284.9L211.5,285.6L211.6,286.2L211.8,286.9L212.0,287.6L212.2,288.3L212.4,288.9L212.6,289.6L212.8,290.3L213.0,290.9L213.2,291.6L213.4,292.3L213.6,293.0L213.8,293.6L214.0,294.3L214.2,295.0L214.4,295.7L214.6,296.3L214.8,297.0L215.0,297.7L215.2,298.4L215.3,299.0L215.5,299.7L215.7,300.4L215.9,301.1L216.1,301.7L216.3,302.4L216.5,303.1L216.7,303.7L216.9,304.4L217.1,305.1L217.3,305.8L217.5,306.4L217.7,307.1L217.9,307.8L218.1,308.5L218.3,309.1L218.5,309.8L218.7,310.5L218.9,311.1L219.1,311.8L219.3,312.5L219.5,313.2L219.7,313.8L219.9,314.5L220.1,315.2L220.3,315.8L220.5,316.5L220.7,317.2L220.9,317.9L221.1,318.5L221.3,319.2L221.5,319.9L221.7,320.5L221.9,321.2L222.1,321.9L222.3,322.5L222.6,323.2L222.8,323.9L223.0,324.6L223.2,325.2L223.4,325.9L223.6,326.6L223.8,327.2L224.0,327.9L224.3,328.6L224.5,329.2L224.7,329.9L224.9,330.6L225.2,331.2L225.4,331.9L225.6,332.5L225.8,333.2L226.1,333.9L226.3,334.5L226.5,335.2L226.7,335.9L227.0,336.5L227.2,337.2L227.5,337.8L227.7,338.5L228.0,339.2L228.2,339.8L228.5,340.5L228.7,341.1L229.0,341.8L229.2,342.4L229.5,343.1L229.8,343.7L230.0,344.4L230.3,345.0L230.6,345.7L230.9,346.3L231.1,346.9L231.4,347.6L231.7,348.2L232.0,348.9L232.3,349.5L232.6,350.1L232.9,350.8L233.2,351.4L233.5,352.0L233.8,352.7L234.1,353.3L234.4,353.9L234.8,354.5L235.2,355.1L235.6,355.7L236.0,356.2L236.4,356.8L236.9,357.3L237.3,357.8L237.9,358.3L238.4,358.7L239.0,358.9L239.6,358.8L240.2,358.6L240.7,358.2L241.1,357.7L241.5,357.1L241.8,356.5L242.1,355.8L242.4,355.2L242.7,354.6L243.0,353.9L243.2,353.3L243.5,352.6L243.8,352.0L244.0,351.3L244.3,350.7L244.5,350.0L244.7,349.3L244.9,348.7L245.1,348.0L245.3,347.3L245.5,346.7L245.7,346.0L245.9,345.3L246.1,344.6L246.4,344.0L246.7,343.4L247.1,342.9L247.5,342.7L248.0,342.7L248.5,343.1L248.9,343.6L249.3,344.1L249.6,344.7L249.9,345.4L250.3,346.0L250.6,346.6L250.9,347.2L251.2,347.9L251.5,348.5L251.8,349.2L252.0,349.8L252.3,350.4L252.6,351.1L252.8,351.8L253.1,352.4L253.3,353.1L253.6,353.7L253.8,354.4L254.1,355.0L254.4,355.7L254.7,356.3L255.0,356.9L255.3,357.5L255.6,358.2L256.0,358.8L256.3,359.4L256.7,359.8L257.2,360.2L257.7,360.2L258.2,359.9L258.6,359.4L258.9,358.9L259.1,358.2L259.4,357.5L259.6,356.9L259.8,356.2L260.0,355.6L260.3,354.9L260.5,354.3L260.9,353.7L261.3,353.2L261.7,353.0L262.2,353.1L262.7,353.5L263.1,354.0L263.5,354.5L263.8,355.2L264.2,355.8L264.5,356.4L264.9,357.0L265.3,357.5L265.6,358.1L266.1,358.7L266.5,359.1L267.0,359.3L267.5,359.3L267.9,358.9L268.3,358.4L268.7,357.9L269.1,357.3L269.5,356.9L270.0,356.8L270.5,356.9L271.0,357.3L271.4,357.8L271.8,358.4L272.2,358.9L272.7,359.3L273.2,359.4L273.7,359.2L274.2,358.9L274.7,358.4L275.2,358.0L275.8,357.7L276.3,357.7L276.9,357.9L277.4,358.3L277.9,358.7L278.5,359.1L279.0,359.3L279.6,359.2L280.2,359.0L280.8,358.7L281.5,358.6L282.1,358.6L282.7,358.7L283.4,358.9L284.0,359.1L284.6,359.1L285.2,359.0L285.8,358.9L286.5,358.9L287.2,358.8L287.9,358.8L288.6,358.8L289.3,358.8L290.0,358.8L290.7,358.8L291.4,358.8L292.1,358.9L292.8,358.9L293.5,358.9L294.2,358.9L294.9,358.9L295.6,358.9L296.3,359.0L297.0,359.0L297.7,359.0L298.4,359.0L299.1,359.0L299.8,359.0L300.5,359.1L301.2,359.1L301.9,359.1L302.6,359.1L303.3,359.1L304.0,359.1L304.7,359.2L305.4,359.2L306.1,359.2" fill="none" stroke="#2f5fbd" stroke-width="1.45" stroke-linejoin="round" stroke-linecap="round" clip-path="url(#cb)"/>
<path d="M46.6,214.8L47.3,214.8L48.0,214.8L48.7,214.8L49.4,214.8L50.1,214.8L50.8,214.8L51.5,214.8L52.2,214.8L52.9,214.8L53.6,214.8L54.3,214.8L55.0,214.8L55.7,214.8L56.4,214.8L57.1,214.8L57.8,214.8L58.5,214.8L59.2,214.8L59.9,214.8L60.6,214.8L61.3,214.8L62.0,214.8L62.7,214.8L63.4,214.8L64.1,214.8L64.8,214.8L65.5,214.8L66.2,214.8L66.9,214.8L67.6,214.8L68.3,214.8L69.0,214.8L69.7,214.8L70.4,214.8L71.1,214.8L71.8,214.8L72.5,214.8L73.2,214.8L73.9,214.8L74.6,214.8L75.3,214.8L76.0,214.8L76.7,214.9L77.4,214.9L78.1,214.9L78.8,214.9L79.5,214.9L80.2,214.9L80.9,214.9L81.6,214.9L82.3,214.9L83.0,214.9L83.7,214.9L84.4,214.9L85.1,214.9L85.8,214.9L86.5,214.9L87.2,214.9L87.9,214.9L88.6,214.9L89.3,214.9L90.0,214.9L90.7,214.9L91.4,214.9L92.1,214.9L92.8,214.9L93.5,214.9L94.2,214.9L94.9,214.9L95.6,214.9L96.3,214.9L97.0,214.9L97.7,214.9L98.4,214.9L99.1,214.9L99.8,214.9L100.5,214.9L101.2,214.9L101.9,214.9L102.6,214.9L103.4,214.9L104.1,214.9L104.8,214.9L105.5,214.9L106.2,214.9L106.9,214.9L107.6,214.9L108.3,214.9L109.0,214.9L109.7,214.9L110.4,214.9L111.1,214.9L111.8,214.9L112.5,214.9L113.2,214.9L113.9,214.9L114.6,214.9L115.3,214.9L116.0,214.9L116.7,214.9L117.4,214.9L118.1,214.9L118.8,214.9L119.5,214.9L120.2,214.9L120.9,214.9L121.6,214.9L122.3,214.9L123.0,214.9L123.7,214.9L124.4,214.9L125.1,214.9L125.8,214.9L126.5,214.9L127.2,214.9L127.9,214.9L128.6,214.9L129.3,214.9L130.0,214.9L130.7,214.9L131.4,214.9L132.1,214.9L132.8,214.9L133.5,214.9L134.2,214.9L134.9,214.9L135.6,214.9L136.3,214.9L137.0,214.9L137.7,214.9L138.4,214.9L139.1,214.9L139.8,214.9L140.5,214.9L141.2,214.9L141.9,214.9L142.6,214.9L143.3,214.9L144.0,214.9L144.7,214.9L145.4,214.9L146.1,214.9L146.8,214.9L147.5,214.9L148.2,214.9L148.9,214.9L149.6,214.9L150.3,214.9L151.0,214.9L151.7,214.9L152.4,214.9L153.1,214.9L153.8,214.9L154.5,214.9L155.2,214.9L155.9,214.9L156.6,214.9L157.2,214.8L157.6,214.8L157.6,214.8L157.3,214.7L156.7,214.7L156.1,214.7L155.4,214.6L154.7,214.6L154.2,214.6L153.8,214.5L153.9,214.4L154.2,214.4L154.8,214.3L155.5,214.2L156.2,214.2L156.9,214.1L157.6,214.1L158.3,214.0L159.0,214.0L159.7,214.0L160.4,213.9L161.1,213.9L161.8,213.9L162.5,213.9L163.2,213.9L163.9,213.9L164.6,214.0L165.3,214.0L166.0,214.0L166.7,214.1L167.4,214.1L168.1,214.2L168.8,214.3L169.5,214.4L170.1,214.5L170.8,214.6L171.5,214.7L172.2,214.8L172.9,214.9L173.6,215.0L174.3,215.2L175.0,215.3L175.7,215.5L176.3,215.7L177.0,215.8L177.7,216.0L178.4,216.2L179.0,216.4L179.7,216.7L180.4,216.9L181.0,217.1L181.7,217.4L182.3,217.6L183.0,217.9L183.6,218.1L184.3,218.4L184.9,218.7L185.5,219.0L186.2,219.3L186.8,219.6L187.4,219.9L188.0,220.3L188.7,220.6L189.3,220.9L189.9,221.3L190.5,221.6L191.1,222.0L191.7,222.4L192.3,222.8L192.8,223.2L193.4,223.6L194.0,224.0L194.5,224.4L195.1,224.9L195.6,225.3L196.1,225.8L196.6,226.2L197.1,226.7L197.6,227.2L198.1,227.7L198.6,228.3L199.0,228.8L199.5,229.3L199.9,229.9L200.3,230.4L200.8,231.0L201.2,231.6L201.6,232.2L202.0,232.7L202.3,233.3L202.7,233.9L203.1,234.5L203.4,235.1L203.8,235.7L204.1,236.3L204.5,236.9L204.8,237.5L205.2,238.2L205.5,238.8L205.8,239.4L206.1,240.0L206.4,240.7L206.7,241.3L207.0,241.9L207.3,242.5L207.6,243.2L207.9,243.8L208.2,244.5L208.5,245.1L208.8,245.7L209.1,246.4L209.3,247.0L209.6,247.7L209.9,248.3L210.1,249.0L210.4,249.6L210.7,250.3L210.9,250.9L211.2,251.6L211.4,252.2L211.7,252.9L211.9,253.5L212.2,254.2L212.4,254.9L212.7,255.5L212.9,256.2L213.1,256.8L213.4,257.5L213.6,258.1L213.8,258.8L214.1,259.5L214.3,260.1L214.5,260.8L214.8,261.5L215.0,262.1L215.2,262.8L215.4,263.4L215.7,264.1L215.9,264.8L216.1,265.4L216.3,266.1L216.5,266.8L216.8,267.4L217.0,268.1L217.2,268.8L217.4,269.4L217.6,270.1L217.9,270.8L218.1,271.4L218.3,272.1L218.5,272.8L218.7,273.4L218.9,274.1L219.1,274.8L219.4,275.4L219.6,276.1L219.8,276.8L220.0,277.4L220.2,278.1L220.4,278.8L220.6,279.4L220.8,280.1L221.0,280.8L221.3,281.4L221.5,282.1L221.7,282.8L221.9,283.4L222.1,284.1L222.3,284.8L222.5,285.5L222.7,286.1L222.9,286.8L223.2,287.5L223.4,288.1L223.6,288.8L223.8,289.5L224.0,290.1L224.2,290.8L224.4,291.5L224.6,292.1L224.8,292.8L225.1,293.5L225.3,294.1L225.5,294.8L225.7,295.5L225.9,296.1L226.1,296.8L226.4,297.5L226.6,298.1L226.8,298.8L227.0,299.5L227.2,300.1L227.4,300.8L227.7,301.5L227.9,302.1L228.1,302.8L228.3,303.5L228.6,304.1L228.8,304.8L229.0,305.4L229.2,306.1L229.5,306.8L229.7,307.4L229.9,308.1L230.2,308.8L230.4,309.4L230.6,310.1L230.9,310.7L231.1,311.4L231.4,312.0L231.6,312.7L231.9,313.3L232.1,314.0L232.4,314.7L232.6,315.3L232.9,316.0L233.1,316.6L233.4,317.3L233.6,317.9L233.9,318.6L234.2,319.2L234.4,319.9L234.7,320.5L235.0,321.2L235.3,321.8L235.5,322.4L235.8,323.1L236.1,323.7L236.4,324.3L236.7,325.0L237.1,325.6L237.5,326.2L237.8,326.8L238.3,327.3L238.7,327.8L239.2,328.3L239.8,328.6L240.3,328.6L240.9,328.5L241.3,328.1L241.7,327.5L242.1,326.9L242.4,326.3L242.8,325.7L243.1,325.1L243.5,324.5L243.9,323.9L244.2,323.3L244.6,322.7L245.1,322.2L245.5,321.8L246.1,321.4L246.7,321.4L247.3,321.5L247.8,321.8L248.3,322.3L248.8,322.8L249.2,323.4L249.5,324.0L249.9,324.6L250.2,325.2L250.5,325.8L250.8,326.5L251.1,327.1L251.4,327.7L251.6,328.4L251.9,329.0L252.2,329.7L252.5,330.3L252.8,331.0L253.0,331.6L253.3,332.2L253.6,332.9L253.8,333.5L254.1,334.2L254.3,334.9L254.6,335.5L254.8,336.2L255.1,336.8L255.3,337.5L255.6,338.1L255.9,338.7L256.2,339.3L256.6,339.8L257.1,340.2L257.6,340.2L258.2,340.0L258.6,339.6L259.1,339.1L259.6,338.6L260.0,338.1L260.6,337.9L261.1,337.9L261.7,338.2L262.1,338.6L262.6,339.2L262.9,339.7L263.3,340.3L263.7,340.9L264.0,341.5L264.4,342.1L264.8,342.7L265.3,343.2L265.8,343.6L266.3,343.9L266.9,344.0L267.5,343.8L268.1,343.5L268.6,343.1L269.2,342.8L269.8,342.6L270.3,342.7L270.9,343.0L271.4,343.4L271.9,343.9L272.5,344.3L273.0,344.5L273.7,344.6L274.3,344.6L275.0,344.5L275.7,344.4L276.3,344.5L277.0,344.6L277.6,344.9L278.2,345.1L278.9,345.3L279.6,345.3L280.2,345.3L280.9,345.2L281.6,345.2L282.3,345.2L283.0,345.2L283.7,345.2L284.4,345.3L285.1,345.3L285.8,345.3L286.5,345.4L287.2,345.4L287.9,345.4L288.6,345.5L289.3,345.5L290.0,345.6L290.7,345.6L291.4,345.6L292.1,345.7L292.8,345.7L293.5,345.8L294.2,345.8L294.9,345.8L295.6,345.9L296.3,345.9L297.0,346.0L297.7,346.0L298.4,346.0L299.1,346.1L299.8,346.1L300.5,346.2L301.2,346.2L301.9,346.3L302.6,346.3L303.3,346.3L304.0,346.4L304.7,346.4L305.4,346.5L306.1,346.5" fill="none" stroke="#8a45b8" stroke-width="1.45" stroke-linejoin="round" stroke-linecap="round" clip-path="url(#cb)"/>
<path d="M46.6,214.8L47.3,214.8L48.0,214.8L48.7,214.8L49.4,214.8L50.1,214.8L50.8,214.8L51.5,214.8L52.2,214.8L52.9,214.8L53.6,214.8L54.3,214.8L55.0,214.8L55.7,214.8L56.4,214.8L57.1,214.8L57.8,214.8L58.5,214.8L59.2,214.8L59.9,214.8L60.6,214.8L61.3,214.8L62.0,214.8L62.7,214.8L63.4,214.8L64.1,214.8L64.8,214.8L65.5,214.8L66.2,214.8L66.9,214.8L67.6,214.9L68.3,214.9L69.0,214.9L69.7,214.9L70.4,214.9L71.2,214.9L71.9,214.9L72.6,214.9L73.3,214.9L74.0,214.9L74.7,214.9L75.4,214.9L76.1,214.9L76.8,214.9L77.5,214.9L78.2,214.9L78.9,214.9L79.6,214.9L80.3,214.9L81.0,214.9L81.7,214.9L82.4,214.9L83.1,214.9L83.8,214.9L84.5,214.9L85.2,214.9L85.9,214.9L86.6,214.9L87.3,214.9L88.0,214.9L88.7,214.9L89.4,214.9L90.1,214.9L90.8,214.9L91.5,214.9L92.2,214.9L92.9,214.9L93.6,214.9L94.3,214.9L95.0,214.9L95.7,214.9L96.4,214.9L97.1,214.9L97.8,214.9L98.5,214.9L99.2,214.9L99.9,214.9L100.6,214.9L101.3,214.9L102.0,214.9L102.7,214.9L103.4,214.9L104.1,214.9L104.8,214.9L105.5,214.9L106.2,214.9L106.9,214.9L107.6,214.9L108.3,214.9L109.0,215.0L109.7,215.0L110.4,215.0L111.1,215.0L111.8,215.0L112.5,215.0L113.2,215.0L113.9,215.0L114.6,215.0L115.3,215.0L116.0,215.0L116.7,215.0L117.4,215.0L118.1,215.0L118.8,215.0L119.6,215.0L120.3,215.0L121.0,215.0L121.7,215.0L122.4,215.0L123.1,215.0L123.8,215.0L124.5,215.0L125.2,215.0L125.9,215.0L126.6,215.0L127.3,215.0L128.0,215.0L128.7,215.0L129.4,215.0L130.1,215.0L130.8,215.0L131.5,215.0L132.2,215.0L132.9,215.0L133.6,215.0L134.3,215.0L135.0,215.0L135.6,215.0L136.0,215.0L136.2,215.0L135.9,215.0L135.4,215.0L134.8,215.0L134.2,215.0L133.9,215.0L133.9,215.0L134.3,215.0L134.8,215.0L135.5,215.1L136.2,215.1L136.9,215.1L137.6,215.1L138.3,215.1L139.0,215.1L139.7,215.2L140.4,215.2L141.1,215.2L141.8,215.2L142.5,215.2L143.2,215.3L143.9,215.3L144.6,215.3L145.3,215.4L146.0,215.4L146.7,215.4L147.4,215.5L148.1,215.5L148.8,215.5L149.5,215.6L150.2,215.6L150.9,215.7L151.6,215.7L152.3,215.8L153.0,215.8L153.7,215.9L154.4,215.9L155.1,216.0L155.8,216.0L156.5,216.1L157.2,216.2L157.9,216.2L158.6,216.3L159.3,216.3L160.0,216.4L160.7,216.5L161.4,216.6L162.1,216.6L162.8,216.7L163.5,216.8L164.2,216.9L164.9,217.0L165.6,217.1L166.3,217.1L167.0,217.2L167.7,217.3L168.4,217.4L169.1,217.5L169.8,217.6L170.5,217.7L171.1,217.8L171.8,217.9L172.5,218.1L173.2,218.2L173.9,218.3L174.6,218.4L175.3,218.5L176.0,218.7L176.7,218.8L177.4,218.9L178.1,219.0L178.7,219.2L179.4,219.3L180.1,219.4L180.8,219.6L181.5,219.7L182.2,219.9L182.9,220.0L183.5,220.2L184.2,220.4L184.9,220.6L185.6,220.7L186.3,220.9L186.9,221.1L187.6,221.3L188.3,221.6L188.9,221.8L189.6,222.0L190.2,222.3L190.9,222.6L191.5,222.9L192.2,223.1L192.8,223.4L193.4,223.8L194.0,224.1L194.6,224.4L195.3,224.8L195.9,225.2L196.4,225.5L197.0,225.9L197.6,226.3L198.2,226.7L198.7,227.2L199.3,227.6L199.8,228.0L200.4,228.5L200.9,229.0L201.4,229.4L201.9,229.9L202.4,230.4L202.9,230.9L203.4,231.4L203.9,231.9L204.3,232.4L204.8,233.0L205.3,233.5L205.7,234.0L206.1,234.6L206.6,235.1L207.0,235.7L207.4,236.3L207.8,236.8L208.2,237.4L208.6,238.0L209.0,238.5L209.4,239.1L209.8,239.7L210.2,240.3L210.6,240.9L210.9,241.5L211.3,242.1L211.7,242.7L212.0,243.3L212.4,243.9L212.7,244.5L213.1,245.1L213.4,245.7L213.7,246.4L214.1,247.0L214.4,247.6L214.7,248.2L215.1,248.8L215.4,249.5L215.7,250.1L216.0,250.7L216.4,251.3L216.7,251.9L217.0,252.6L217.3,253.2L217.6,253.8L217.9,254.5L218.2,255.1L218.5,255.7L218.8,256.3L219.2,257.0L219.5,257.6L219.8,258.2L220.1,258.9L220.4,259.5L220.7,260.1L221.0,260.8L221.3,261.4L221.6,262.0L221.9,262.7L222.2,263.3L222.5,263.9L222.8,264.6L223.1,265.2L223.4,265.8L223.7,266.5L224.0,267.1L224.3,267.7L224.6,268.4L224.9,269.0L225.2,269.6L225.5,270.3L225.8,270.9L226.1,271.5L226.4,272.2L226.7,272.8L227.0,273.4L227.3,274.1L227.6,274.7L227.9,275.3L228.2,276.0L228.5,276.6L228.9,277.2L229.2,277.8L229.5,278.5L229.8,279.1L230.1,279.7L230.4,280.4L230.8,281.0L231.1,281.6L231.4,282.2L231.7,282.8L232.1,283.5L232.4,284.1L232.7,284.7L233.1,285.3L233.4,285.9L233.7,286.5L234.1,287.1L234.4,287.8L234.8,288.3L235.2,288.9L235.6,289.5L236.0,290.1L236.5,290.6L236.9,291.2L237.4,291.7L237.8,292.2L238.3,292.7L238.8,293.2L239.3,293.8L239.8,294.3L240.3,294.7L240.8,295.2L241.3,295.7L241.8,296.1L242.4,296.5L243.0,296.7L243.7,296.8L244.3,296.7L245.0,296.4L245.6,296.1L246.2,295.8L246.8,295.6L247.5,295.4L248.2,295.4L248.9,295.4L249.6,295.6L250.2,295.8L250.9,296.0L251.5,296.3L252.0,296.7L252.6,297.2L253.1,297.7L253.5,298.2L253.9,298.8L254.4,299.3L254.8,299.9L255.2,300.5L255.6,301.0L256.1,301.6L256.5,302.1L257.0,302.6L257.5,303.0L258.1,303.3L258.7,303.4L259.4,303.3L260.1,303.1L260.7,302.9L261.4,302.7L262.0,302.6L262.7,302.5L263.4,302.7L264.0,302.9L264.6,303.3L265.2,303.7L265.7,304.1L266.3,304.5L266.9,304.9L267.5,305.2L268.1,305.3L268.8,305.4L269.5,305.3L270.1,305.1L270.8,304.9L271.5,304.8L272.1,304.8L272.8,304.9L273.5,305.1L274.1,305.3L274.8,305.6L275.4,305.7L276.1,305.8L276.7,305.7L277.4,305.7L278.1,305.6L278.8,305.5L279.5,305.5L280.2,305.5L280.9,305.5L281.6,305.5L282.3,305.5L283.0,305.6L283.7,305.6L284.4,305.6L285.1,305.6L285.8,305.6L286.5,305.7L287.2,305.7L287.9,305.7L288.6,305.7L289.3,305.7L290.0,305.8L290.7,305.8L291.4,305.8L292.1,305.8L292.8,305.9L293.5,305.9L294.2,305.9L294.9,305.9L295.6,305.9L296.3,306.0L297.0,306.0L297.7,306.0L298.4,306.0L299.1,306.1L299.8,306.1L300.5,306.1L301.2,306.1L301.9,306.2L302.6,306.2L303.3,306.2L304.0,306.2L304.7,306.3L305.4,306.3L306.1,306.3" fill="none" stroke="#f3a228" stroke-width="1.45" stroke-linejoin="round" stroke-linecap="round" clip-path="url(#cb)"/>
<path d="M46.6,214.8L47.3,214.8L48.0,214.8L48.7,214.8L49.4,214.8L50.1,214.8L50.8,214.8L51.5,214.8L52.2,214.8L52.9,214.8L53.6,214.8L54.3,214.8L55.0,214.8L55.7,214.8L56.4,214.8L57.1,214.8L57.8,214.8L58.5,214.8L59.2,214.8L59.9,214.8L60.6,214.8L61.3,214.8L62.0,214.8L62.7,214.8L63.4,214.8L64.1,214.8L64.8,214.8L65.5,214.8L66.2,214.8L66.9,214.8L67.6,214.8L68.3,214.8L69.0,214.8L69.7,214.8L70.4,214.8L71.1,214.8L71.8,214.8L72.5,214.8L73.2,214.8L73.9,214.8L74.6,214.8L75.3,214.8L76.0,214.8L76.7,214.8L77.4,214.8L78.1,214.8L78.8,214.8L79.5,214.8L80.2,214.8L80.9,214.8L81.6,214.8L82.3,214.8L83.0,214.8L83.7,214.8L84.4,214.8L85.1,214.8L85.8,214.8L86.5,214.8L87.2,214.8L87.9,214.8L88.6,214.8L89.3,214.8L90.0,214.8L90.7,214.8L91.4,214.8L92.1,214.8L92.8,214.9L93.5,214.9L94.2,214.9L94.9,214.9L95.6,214.9L96.3,214.9L97.0,214.9L97.7,214.9L98.4,214.9L99.1,214.9L99.8,214.9L100.5,214.9L101.2,214.9L101.9,214.9L102.6,214.9L103.3,214.9L104.0,214.9L104.7,214.9L105.4,214.9L106.1,214.9L106.8,214.9L107.5,214.9L108.2,214.9L108.9,214.9L109.6,214.9L110.3,214.9L111.0,214.9L111.7,214.9L112.4,214.9L113.1,214.9L113.8,214.9L114.5,214.9L115.2,214.9L115.9,214.9L116.6,214.9L117.3,214.9L118.0,214.9L118.7,214.9L119.4,214.9L120.1,214.9L120.8,214.9L121.5,214.9L122.2,214.9L122.9,214.9L123.6,214.9L124.3,214.9L125.0,214.9L125.7,214.9L126.4,214.9L127.1,214.9L127.8,214.9L128.5,214.9L129.2,214.9L129.9,214.9L130.6,214.9L131.3,214.9L132.0,214.9L132.7,214.9L133.4,214.9L134.1,214.9L134.8,214.9L135.5,214.9L136.2,214.9L136.9,214.9L137.6,214.9L138.3,214.9L139.0,214.9L139.7,214.9L140.4,214.9L141.1,214.9L141.8,214.9L142.5,214.9L143.2,214.9L143.9,214.9L144.6,214.9L145.3,214.9L146.0,214.9L146.7,214.9L147.4,214.9L148.1,214.9L148.8,214.9L149.5,214.9L150.2,214.9L150.9,214.9L151.6,214.9L152.3,214.9L153.0,214.9L153.7,214.9L154.4,214.9L155.1,214.9L155.8,214.9L156.5,214.9L157.1,214.9L157.5,214.9L157.6,214.9L157.3,214.9L156.8,214.9L156.1,214.9L155.4,214.8L154.8,214.8L154.2,214.8L153.8,214.8L153.8,214.8L154.2,214.8L154.7,214.8L155.4,214.8L156.1,214.8L156.8,214.8L157.5,214.8L158.2,214.8L158.9,214.8L159.6,214.8L160.3,214.8L161.0,214.8L161.7,214.9L162.4,214.9L163.1,214.9L163.8,215.0L164.5,215.0L165.2,215.0L165.9,215.1L166.6,215.1L167.3,215.2L168.0,215.3L168.7,215.3L169.4,215.4L170.1,215.5L170.8,215.5L171.5,215.6L172.2,215.7L172.9,215.8L173.6,215.9L174.2,216.0L174.9,216.1L175.6,216.2L176.3,216.3L177.0,216.4L177.7,216.5L178.4,216.6L179.1,216.8L179.8,216.9L180.5,217.0L181.1,217.2L181.8,217.3L182.5,217.5L183.2,217.6L183.9,217.8L184.6,218.0L185.2,218.1L185.9,218.3L186.6,218.5L187.3,218.7L187.9,218.9L188.6,219.1L189.3,219.3L189.9,219.5L190.6,219.7L191.3,219.9L191.9,220.1L192.6,220.4L193.3,220.6L193.9,220.9L194.5,221.2L195.2,221.4L195.8,221.7L196.5,222.0L197.1,222.3L197.7,222.7L198.3,223.0L198.9,223.4L199.5,223.8L200.1,224.1L200.6,224.6L201.2,225.0L201.8,225.4L202.3,225.8L202.8,226.3L203.4,226.8L203.9,227.2L204.4,227.7L204.9,228.2L205.3,228.7L205.8,229.3L206.3,229.8L206.7,230.3L207.2,230.9L207.6,231.4L208.0,232.0L208.4,232.5L208.9,233.1L209.3,233.7L209.6,234.2L210.0,234.8L210.4,235.4L210.8,236.0L211.1,236.6L211.5,237.2L211.9,237.8L212.2,238.4L212.5,239.0L212.9,239.7L213.2,240.3L213.5,240.9L213.8,241.5L214.1,242.1L214.5,242.8L214.8,243.4L215.1,244.0L215.3,244.7L215.6,245.3L215.9,246.0L216.2,246.6L216.5,247.2L216.7,247.9L217.0,248.5L217.3,249.2L217.5,249.8L217.8,250.5L218.1,251.1L218.3,251.8L218.6,252.4L218.8,253.1L219.1,253.8L219.3,254.4L219.5,255.1L219.8,255.7L220.0,256.4L220.2,257.0L220.5,257.7L220.7,258.4L220.9,259.0L221.2,259.7L221.4,260.3L221.6,261.0L221.8,261.7L222.1,262.3L222.3,263.0L222.5,263.7L222.7,264.3L223.0,265.0L223.2,265.7L223.4,266.3L223.6,267.0L223.8,267.7L224.1,268.3L224.3,269.0L224.5,269.6L224.7,270.3L224.9,271.0L225.2,271.6L225.4,272.3L225.6,273.0L225.8,273.6L226.0,274.3L226.3,275.0L226.5,275.6L226.7,276.3L226.9,277.0L227.1,277.6L227.4,278.3L227.6,278.9L227.8,279.6L228.0,280.3L228.3,280.9L228.5,281.6L228.7,282.3L229.0,282.9L229.2,283.6L229.4,284.2L229.7,284.9L229.9,285.6L230.1,286.2L230.4,286.9L230.6,287.5L230.9,288.2L231.1,288.8L231.4,289.5L231.6,290.2L231.9,290.8L232.1,291.5L232.4,292.1L232.6,292.8L232.9,293.4L233.2,294.0L233.5,294.7L233.7,295.3L234.0,296.0L234.3,296.6L234.6,297.2L234.9,297.9L235.2,298.5L235.6,299.1L235.9,299.7L236.3,300.3L236.7,300.9L237.1,301.4L237.5,302.0L238.0,302.5L238.5,303.0L239.0,303.5L239.5,304.0L240.1,304.4L240.7,304.7L241.3,304.9L241.9,304.9L242.5,304.7L243.1,304.4L243.6,303.9L244.0,303.4L244.5,302.8L245.0,302.4L245.5,302.0L246.1,301.9L246.7,302.0L247.3,302.2L247.9,302.6L248.4,303.1L248.9,303.6L249.3,304.1L249.7,304.7L250.1,305.2L250.5,305.8L250.8,306.4L251.2,307.1L251.5,307.7L251.8,308.3L252.1,308.9L252.4,309.6L252.7,310.2L253.0,310.9L253.3,311.5L253.6,312.1L253.9,312.7L254.2,313.4L254.5,314.0L254.8,314.6L255.1,315.3L255.4,315.9L255.7,316.5L256.0,317.2L256.3,317.8L256.7,318.4L257.0,319.0L257.5,319.5L258.0,319.8L258.5,319.9L259.0,319.7L259.5,319.4L260.0,318.9L260.5,318.6L261.1,318.4L261.7,318.4L262.2,318.6L262.8,319.1L263.2,319.5L263.7,320.1L264.1,320.6L264.6,321.2L265.0,321.7L265.5,322.2L266.0,322.7L266.5,323.2L267.1,323.6L267.7,323.8L268.3,323.9L268.9,323.8L269.5,323.5L270.0,323.3L270.6,323.1L271.2,323.2L271.8,323.4L272.3,323.8L272.9,324.3L273.4,324.7L273.9,325.2L274.5,325.5L275.1,325.7L275.6,325.6L276.2,325.4L276.8,325.1L277.4,324.9L278.0,324.9L278.6,325.2L279.2,325.5L279.8,325.8L280.4,326.1L281.1,326.2L281.7,326.2L282.4,326.1L283.1,326.0L283.8,325.9L284.5,325.9L285.2,326.0L285.8,326.1L286.5,326.2L287.2,326.3L287.9,326.4L288.6,326.5L289.3,326.5L290.0,326.6L290.7,326.6L291.4,326.7L292.1,326.7L292.8,326.7L293.5,326.8L294.2,326.8L294.9,326.8L295.6,326.9L296.3,326.9L297.0,326.9L297.7,326.9L298.4,326.9L299.1,327.0L299.8,327.0L300.5,327.0L301.2,327.0L301.9,327.1L302.6,327.1L303.3,327.1L304.0,327.1L304.7,327.2L305.4,327.2L306.1,327.2" fill="none" stroke="#e8323a" stroke-width="1.45" stroke-linejoin="round" stroke-linecap="round" clip-path="url(#cb)"/>
<path d="M46.6,214.8L47.3,214.8L48.0,214.8L48.7,214.8L49.4,214.8L50.1,214.8L50.8,214.8L51.5,214.8L52.2,214.8L52.9,214.8L53.6,214.8L54.3,214.8L55.0,214.8L55.7,214.8L56.4,214.8L57.1,214.8L57.8,214.8L58.5,214.8L59.2,214.8L59.9,214.8L60.6,214.8L61.3,214.8L62.0,214.8L62.7,214.8L63.4,214.9L64.1,214.9L64.8,214.9L65.5,214.9L66.2,214.9L66.9,214.9L67.6,214.9L68.3,214.9L69.0,214.9L69.7,214.9L70.4,214.9L71.1,214.9L71.8,214.9L72.5,214.9L73.2,214.9L73.9,214.9L74.6,214.9L75.3,214.9L76.0,214.9L76.7,214.9L77.4,214.9L78.1,214.9L78.8,214.9L79.5,214.9L80.2,214.9L81.0,214.9L81.7,214.9L82.4,214.9L83.1,214.9L83.8,214.9L84.5,214.9L85.2,214.9L85.9,214.9L86.6,214.9L87.3,214.9L88.0,214.9L88.7,214.9L89.4,214.9L90.1,214.9L90.8,214.9L91.5,214.9L92.2,214.9L92.9,214.9L93.6,214.9L94.3,214.9L95.0,214.9L95.7,214.9L96.4,214.9L97.1,215.0L97.8,215.0L98.5,215.0L99.2,215.0L99.9,215.0L100.6,215.0L101.3,215.0L102.0,215.0L102.7,215.0L103.4,215.0L104.1,215.0L104.8,215.0L105.5,215.0L106.2,215.0L106.9,215.0L107.6,215.0L108.3,215.0L109.0,215.0L109.7,215.0L110.4,215.0L111.1,215.0L111.8,215.0L112.5,215.0L113.2,215.0L113.9,215.0L114.6,215.0L115.3,215.0L116.0,215.0L116.7,215.0L117.4,215.0L118.1,215.0L118.8,215.0L119.5,215.0L120.2,215.0L120.9,215.0L121.6,215.0L122.3,215.0L123.0,215.0L123.7,215.0L124.4,215.0L125.0,215.0L125.4,215.1L125.4,215.1L125.1,215.1L124.6,215.1L124.1,215.1L123.8,215.1L123.9,215.1L124.3,215.1L124.9,215.1L125.6,215.2L126.3,215.2L127.0,215.2L127.7,215.2L128.4,215.3L129.1,215.3L129.8,215.3L130.5,215.3L131.2,215.4L131.9,215.4L132.6,215.5L133.3,215.5L134.0,215.5L134.7,215.6L135.4,215.6L136.1,215.7L136.8,215.7L137.5,215.8L138.2,215.8L138.9,215.9L139.6,215.9L140.3,216.0L141.0,216.1L141.7,216.1L142.4,216.2L143.1,216.2L143.8,216.3L144.5,216.4L145.2,216.5L145.9,216.5L146.6,216.6L147.3,216.7L148.0,216.8L148.7,216.9L149.4,217.0L150.1,217.0L150.8,217.1L151.5,217.2L152.2,217.3L152.8,217.4L153.5,217.5L154.2,217.6L154.9,217.8L155.6,217.9L156.3,218.0L157.0,218.1L157.7,218.2L158.4,218.3L159.1,218.5L159.8,218.6L160.5,218.7L161.1,218.9L161.8,219.0L162.5,219.1L163.2,219.3L163.9,219.4L164.6,219.6L165.3,219.7L165.9,219.9L166.6,220.0L167.3,220.2L168.0,220.3L168.7,220.5L169.4,220.7L170.0,220.9L170.7,221.0L171.4,221.2L172.1,221.4L172.7,221.6L173.4,221.8L174.1,222.0L174.8,222.2L175.4,222.4L176.1,222.6L176.8,222.8L177.4,223.0L178.1,223.3L178.7,223.5L179.4,223.8L180.1,224.0L180.7,224.3L181.3,224.5L182.0,224.8L182.6,225.1L183.3,225.4L183.9,225.7L184.5,226.0L185.2,226.3L185.8,226.7L186.4,227.0L187.0,227.4L187.6,227.7L188.2,228.1L188.8,228.4L189.4,228.8L190.0,229.2L190.5,229.6L191.1,230.0L191.7,230.4L192.2,230.8L192.8,231.3L193.3,231.7L193.9,232.2L194.4,232.6L195.0,233.1L195.5,233.5L196.0,234.0L196.5,234.5L197.0,234.9L197.5,235.4L198.0,235.9L198.5,236.4L199.0,236.9L199.5,237.4L200.0,238.0L200.4,238.5L200.9,239.0L201.3,239.5L201.8,240.1L202.3,240.6L202.7,241.2L203.1,241.7L203.6,242.3L204.0,242.8L204.4,243.4L204.8,243.9L205.3,244.5L205.7,245.1L206.1,245.6L206.5,246.2L206.9,246.8L207.3,247.3L207.7,247.9L208.1,248.5L208.5,249.1L208.9,249.6L209.3,250.2L209.7,250.8L210.1,251.4L210.4,252.0L210.8,252.6L211.2,253.2L211.6,253.8L212.0,254.3L212.3,254.9L212.7,255.5L213.1,256.1L213.5,256.7L213.8,257.3L214.2,257.9L214.6,258.5L214.9,259.1L215.3,259.7L215.7,260.3L216.1,260.9L216.4,261.5L216.8,262.1L217.2,262.7L217.5,263.3L217.9,263.9L218.3,264.5L218.6,265.1L219.0,265.7L219.4,266.3L219.7,266.9L220.1,267.5L220.5,268.0L220.8,268.6L221.2,269.2L221.6,269.8L221.9,270.4L222.3,271.0L222.7,271.6L223.0,272.2L223.4,272.8L223.8,273.4L224.2,274.0L224.5,274.6L224.9,275.2L225.3,275.8L225.7,276.4L226.0,277.0L226.4,277.5L226.8,278.1L227.2,278.7L227.6,279.3L228.0,279.9L228.4,280.5L228.8,281.0L229.2,281.6L229.6,282.2L230.0,282.8L230.4,283.3L230.8,283.9L231.2,284.5L231.6,285.0L232.0,285.6L232.4,286.2L232.8,286.7L233.3,287.3L233.7,287.8L234.1,288.4L234.6,288.9L235.0,289.5L235.5,290.0L236.0,290.5L236.5,291.0L236.9,291.5L237.4,292.0L237.9,292.5L238.4,293.0L238.9,293.5L239.4,294.0L240.0,294.4L240.5,294.9L241.1,295.3L241.7,295.6L242.3,295.9L242.9,296.2L243.6,296.4L244.3,296.4L245.0,296.5L245.7,296.4L246.4,296.3L247.1,296.2L247.8,296.1L248.5,296.0L249.2,295.9L249.9,295.9L250.6,295.9L251.2,295.9L251.9,296.0L252.6,296.2L253.3,296.4L253.9,296.6L254.6,296.8L255.3,297.1L255.9,297.3L256.6,297.5L257.3,297.8L257.9,298.0L258.6,298.3L259.2,298.5L259.9,298.7L260.6,298.8L261.3,298.9L261.9,299.0L262.6,299.0L263.3,299.1L264.0,299.1L264.7,299.1L265.4,299.2L266.1,299.2L266.9,299.2L267.6,299.2L268.3,299.2L269.0,299.3L269.7,299.3L270.4,299.3L271.1,299.3L271.8,299.3L272.5,299.3L273.2,299.4L273.9,299.4L274.6,299.4L275.3,299.4L276.0,299.4L276.7,299.4L277.4,299.4L278.1,299.5L278.8,299.5L279.5,299.5L280.2,299.5L280.9,299.5L281.6,299.5L282.3,299.5L283.0,299.6L283.7,299.6L284.4,299.6L285.1,299.6L285.8,299.6L286.5,299.6L287.2,299.6L287.9,299.7L288.6,299.7L289.3,299.7L290.0,299.7L290.7,299.7L291.4,299.7L292.1,299.7L292.8,299.8L293.5,299.8L294.2,299.8L294.9,299.8L295.6,299.8L296.3,299.8L297.0,299.8L297.7,299.8L298.4,299.9L299.1,299.9L299.8,299.9L300.5,299.9L301.2,299.9L301.9,299.9L302.6,299.9L303.3,299.9L304.0,300.0L304.7,300.0L305.4,300.0L306.1,300.0" fill="none" stroke="#b52a36" stroke-width="1.45" stroke-linejoin="round" stroke-linecap="round" clip-path="url(#cb)"/>
<path d="M46.6,214.8L47.3,214.8L48.0,214.8L48.7,214.8L49.4,214.8L50.1,214.8L50.8,214.8L51.5,214.8L52.2,214.8L52.9,214.8L53.6,214.8L54.3,214.8L55.0,214.8L55.7,214.8L56.4,214.8L57.1,214.8L57.8,214.8L58.5,214.8L59.2,214.8L59.9,214.8L60.6,214.8L61.3,214.8L62.0,214.8L62.7,214.8L63.4,214.8L64.1,214.8L64.8,214.8L65.5,214.8L66.2,214.9L66.9,214.9L67.6,214.9L68.3,214.9L69.0,214.9L69.7,214.9L70.4,214.9L71.1,214.9L71.8,214.9L72.5,214.9L73.2,214.9L73.9,214.9L74.6,214.9L75.3,214.9L76.0,214.9L76.7,214.9L77.4,214.9L78.1,214.9L78.8,214.9L79.5,214.9L80.2,214.9L80.9,214.9L81.6,214.9L82.3,214.9L83.0,214.9L83.8,214.9L84.5,214.9L85.2,214.9L85.9,214.9L86.6,214.9L87.3,214.9L88.0,214.9L88.7,214.9L89.4,214.9L90.1,214.9L90.8,214.9L91.5,214.9L92.2,214.9L92.9,214.9L93.6,214.9L94.3,214.9L95.0,214.9L95.7,214.9L96.4,214.9L97.1,214.9L97.8,214.9L98.5,214.9L99.2,214.9L99.9,214.9L100.6,214.9L101.3,214.9L102.0,214.9L102.7,215.0L103.4,215.0L104.1,215.0L104.8,215.0L105.5,215.0L106.2,215.0L106.9,215.0L107.6,215.0L108.3,215.0L109.0,215.0L109.7,215.0L110.4,215.0L111.1,215.0L111.8,215.0L112.5,215.0L113.2,215.0L113.8,215.0L114.4,215.0L114.7,215.0L114.6,215.1L114.3,215.1L113.9,215.1L113.7,215.1L113.9,215.2L114.4,215.2L115.0,215.3L115.7,215.3L116.4,215.4L117.1,215.4L117.8,215.5L118.5,215.5L119.2,215.6L119.9,215.6L120.6,215.7L121.3,215.7L122.0,215.8L122.7,215.8L123.4,215.9L124.1,216.0L124.8,216.0L125.5,216.1L126.2,216.2L126.9,216.2L127.6,216.3L128.3,216.4L129.0,216.4L129.7,216.5L130.3,216.6L131.0,216.7L131.7,216.7L132.4,216.8L133.1,216.9L133.8,217.0L134.5,217.1L135.2,217.1L135.9,217.2L136.6,217.3L137.3,217.4L138.0,217.5L138.7,217.6L139.4,217.7L140.1,217.8L140.8,217.9L141.5,218.0L142.2,218.1L142.9,218.2L143.6,218.3L144.2,218.4L144.9,218.5L145.6,218.6L146.3,218.8L147.0,218.9L147.7,219.0L148.4,219.1L149.1,219.2L149.8,219.4L150.5,219.5L151.2,219.6L151.8,219.7L152.5,219.9L153.2,220.0L153.9,220.1L154.6,220.3L155.3,220.4L156.0,220.6L156.6,220.7L157.3,220.9L158.0,221.0L158.7,221.2L159.4,221.4L160.1,221.5L160.7,221.7L161.4,221.9L162.1,222.1L162.8,222.2L163.4,222.4L164.1,222.6L164.8,222.8L165.5,223.0L166.1,223.3L166.8,223.5L167.5,223.7L168.1,223.9L168.8,224.2L169.4,224.4L170.1,224.6L170.8,224.9L171.4,225.1L172.1,225.4L172.7,225.7L173.3,226.0L174.0,226.2L174.6,226.5L175.3,226.8L175.9,227.1L176.5,227.4L177.2,227.7L177.8,228.0L178.4,228.4L179.0,228.7L179.6,229.0L180.2,229.4L180.9,229.7L181.5,230.1L182.1,230.4L182.7,230.8L183.3,231.2L183.8,231.6L184.4,231.9L185.0,232.3L185.6,232.7L186.2,233.1L186.7,233.5L187.3,233.9L187.9,234.3L188.4,234.8L189.0,235.2L189.5,235.6L190.1,236.1L190.6,236.5L191.2,236.9L191.7,237.4L192.3,237.9L192.8,238.3L193.3,238.8L193.8,239.2L194.3,239.7L194.9,240.2L195.4,240.7L195.9,241.2L196.4,241.6L196.9,242.1L197.4,242.6L197.9,243.1L198.4,243.6L198.9,244.1L199.3,244.6L199.8,245.1L200.3,245.7L200.8,246.2L201.2,246.7L201.7,247.2L202.2,247.7L202.6,248.3L203.1,248.8L203.6,249.3L204.0,249.9L204.5,250.4L204.9,250.9L205.4,251.5L205.8,252.0L206.2,252.6L206.7,253.1L207.1,253.7L207.5,254.2L208.0,254.8L208.4,255.3L208.8,255.9L209.3,256.4L209.7,257.0L210.1,257.5L210.6,258.1L211.0,258.6L211.4,259.2L211.8,259.8L212.3,260.3L212.7,260.9L213.1,261.4L213.5,262.0L214.0,262.5L214.4,263.1L214.8,263.7L215.2,264.2L215.7,264.8L216.1,265.3L216.5,265.9L216.9,266.4L217.4,267.0L217.8,267.6L218.2,268.1L218.7,268.7L219.1,269.2L219.5,269.8L220.0,270.3L220.4,270.8L220.9,271.4L221.3,271.9L221.8,272.5L222.2,273.0L222.7,273.5L223.1,274.1L223.6,274.6L224.0,275.1L224.5,275.6L225.0,276.2L225.4,276.7L225.9,277.2L226.4,277.7L226.9,278.2L227.4,278.7L227.8,279.2L228.3,279.7L228.8,280.2L229.3,280.7L229.8,281.2L230.4,281.7L230.9,282.1L231.4,282.6L231.9,283.1L232.4,283.6L233.0,284.0L233.5,284.5L234.1,284.9L234.6,285.3L235.2,285.7L235.8,286.1L236.4,286.4L237.0,286.8L237.6,287.2L238.2,287.5L238.8,287.9L239.4,288.3L240.0,288.6L240.6,288.9L241.3,289.2L241.9,289.5L242.5,289.8L243.2,290.0L243.9,290.2L244.6,290.3L245.3,290.4L246.0,290.4L246.7,290.4L247.4,290.4L248.1,290.4L248.8,290.4L249.5,290.5L250.1,290.5L250.8,290.6L251.5,290.7L252.2,290.9L252.9,291.0L253.6,291.1L254.3,291.3L255.0,291.4L255.7,291.5L256.4,291.6L257.1,291.7L257.8,291.8L258.5,291.8L259.2,291.9L259.8,292.0L260.5,292.0L261.2,292.1L261.9,292.1L262.6,292.2L263.3,292.2L264.0,292.3L264.7,292.3L265.4,292.3L266.1,292.3L266.8,292.3L267.5,292.4L268.2,292.4L268.9,292.4L269.7,292.4L270.4,292.4L271.1,292.4L271.8,292.4L272.5,292.4L273.2,292.4L273.9,292.4L274.6,292.4L275.3,292.4L276.0,292.5L276.7,292.5L277.4,292.5L278.1,292.5L278.8,292.5L279.5,292.5L280.2,292.5L280.9,292.5L281.6,292.5L282.3,292.5L283.0,292.5L283.7,292.5L284.4,292.5L285.1,292.5L285.8,292.5L286.5,292.5L287.2,292.5L287.9,292.5L288.6,292.5L289.3,292.5L290.0,292.5L290.7,292.5L291.4,292.5L292.1,292.5L292.8,292.5L293.5,292.5L294.2,292.5L294.9,292.5L295.6,292.5L296.3,292.5L297.0,292.5L297.7,292.5L298.4,292.5L299.1,292.5L299.8,292.5L300.5,292.5L301.2,292.5L301.9,292.5L302.6,292.5L303.3,292.5L304.0,292.5L304.7,292.5L305.4,292.5L306.1,292.5" fill="none" stroke="#151515" stroke-width="1.45" stroke-linejoin="round" stroke-linecap="round" clip-path="url(#cb)"/>
<rect x="92.4" y="245" width="100.8" height="94.5" fill="#fff"/>
<line x1="92.4" y1="339.5" x2="92.4" y2="336.3" stroke="#5c5c5c" stroke-width="0.95"/>
<line x1="92.4" y1="245" x2="92.4" y2="248.2" stroke="#5c5c5c" stroke-width="0.95"/>
<line x1="107.57" y1="339.5" x2="107.57" y2="337.7" stroke="#5c5c5c" stroke-width="0.95"/>
<line x1="107.57" y1="245" x2="107.57" y2="246.8" stroke="#5c5c5c" stroke-width="0.95"/>
<line x1="116.45" y1="339.5" x2="116.45" y2="337.7" stroke="#5c5c5c" stroke-width="0.95"/>
<line x1="116.45" y1="245" x2="116.45" y2="246.8" stroke="#5c5c5c" stroke-width="0.95"/>
<line x1="122.74" y1="339.5" x2="122.74" y2="337.7" stroke="#5c5c5c" stroke-width="0.95"/>
<line x1="122.74" y1="245" x2="122.74" y2="246.8" stroke="#5c5c5c" stroke-width="0.95"/>
<line x1="127.63" y1="339.5" x2="127.63" y2="337.7" stroke="#5c5c5c" stroke-width="0.95"/>
<line x1="127.63" y1="245" x2="127.63" y2="246.8" stroke="#5c5c5c" stroke-width="0.95"/>
<line x1="131.62" y1="339.5" x2="131.62" y2="337.7" stroke="#5c5c5c" stroke-width="0.95"/>
<line x1="131.62" y1="245" x2="131.62" y2="246.8" stroke="#5c5c5c" stroke-width="0.95"/>
<line x1="134.99" y1="339.5" x2="134.99" y2="337.7" stroke="#5c5c5c" stroke-width="0.95"/>
<line x1="134.99" y1="245" x2="134.99" y2="246.8" stroke="#5c5c5c" stroke-width="0.95"/>
<line x1="137.92" y1="339.5" x2="137.92" y2="337.7" stroke="#5c5c5c" stroke-width="0.95"/>
<line x1="137.92" y1="245" x2="137.92" y2="246.8" stroke="#5c5c5c" stroke-width="0.95"/>
<line x1="140.49" y1="339.5" x2="140.49" y2="337.7" stroke="#5c5c5c" stroke-width="0.95"/>
<line x1="140.49" y1="245" x2="140.49" y2="246.8" stroke="#5c5c5c" stroke-width="0.95"/>
<line x1="142.8" y1="339.5" x2="142.8" y2="336.3" stroke="#5c5c5c" stroke-width="0.95"/>
<line x1="142.8" y1="245" x2="142.8" y2="248.2" stroke="#5c5c5c" stroke-width="0.95"/>
<line x1="157.97" y1="339.5" x2="157.97" y2="337.7" stroke="#5c5c5c" stroke-width="0.95"/>
<line x1="157.97" y1="245" x2="157.97" y2="246.8" stroke="#5c5c5c" stroke-width="0.95"/>
<line x1="166.85" y1="339.5" x2="166.85" y2="337.7" stroke="#5c5c5c" stroke-width="0.95"/>
<line x1="166.85" y1="245" x2="166.85" y2="246.8" stroke="#5c5c5c" stroke-width="0.95"/>
<line x1="173.14" y1="339.5" x2="173.14" y2="337.7" stroke="#5c5c5c" stroke-width="0.95"/>
<line x1="173.14" y1="245" x2="173.14" y2="246.8" stroke="#5c5c5c" stroke-width="0.95"/>
<line x1="178.03" y1="339.5" x2="178.03" y2="337.7" stroke="#5c5c5c" stroke-width="0.95"/>
<line x1="178.03" y1="245" x2="178.03" y2="246.8" stroke="#5c5c5c" stroke-width="0.95"/>
<line x1="182.02" y1="339.5" x2="182.02" y2="337.7" stroke="#5c5c5c" stroke-width="0.95"/>
<line x1="182.02" y1="245" x2="182.02" y2="246.8" stroke="#5c5c5c" stroke-width="0.95"/>
<line x1="185.39" y1="339.5" x2="185.39" y2="337.7" stroke="#5c5c5c" stroke-width="0.95"/>
<line x1="185.39" y1="245" x2="185.39" y2="246.8" stroke="#5c5c5c" stroke-width="0.95"/>
<line x1="188.32" y1="339.5" x2="188.32" y2="337.7" stroke="#5c5c5c" stroke-width="0.95"/>
<line x1="188.32" y1="245" x2="188.32" y2="246.8" stroke="#5c5c5c" stroke-width="0.95"/>
<line x1="190.89" y1="339.5" x2="190.89" y2="337.7" stroke="#5c5c5c" stroke-width="0.95"/>
<line x1="190.89" y1="245" x2="190.89" y2="246.8" stroke="#5c5c5c" stroke-width="0.95"/>
<line x1="193.2" y1="339.5" x2="193.2" y2="336.3" stroke="#5c5c5c" stroke-width="0.95"/>
<line x1="193.2" y1="245" x2="193.2" y2="248.2" stroke="#5c5c5c" stroke-width="0.95"/>
<line x1="92.4" y1="339.5" x2="95.6" y2="339.5" stroke="#5c5c5c" stroke-width="0.95"/>
<line x1="193.2" y1="339.5" x2="190" y2="339.5" stroke="#5c5c5c" stroke-width="0.95"/>
<line x1="92.4" y1="315.88" x2="95.6" y2="315.88" stroke="#5c5c5c" stroke-width="0.95"/>
<line x1="193.2" y1="315.88" x2="190" y2="315.88" stroke="#5c5c5c" stroke-width="0.95"/>
<line x1="92.4" y1="292.25" x2="95.6" y2="292.25" stroke="#5c5c5c" stroke-width="0.95"/>
<line x1="193.2" y1="292.25" x2="190" y2="292.25" stroke="#5c5c5c" stroke-width="0.95"/>
<line x1="92.4" y1="268.62" x2="95.6" y2="268.62" stroke="#5c5c5c" stroke-width="0.95"/>
<line x1="193.2" y1="268.62" x2="190" y2="268.62" stroke="#5c5c5c" stroke-width="0.95"/>
<line x1="92.4" y1="245" x2="95.6" y2="245" stroke="#5c5c5c" stroke-width="0.95"/>
<line x1="193.2" y1="245" x2="190" y2="245" stroke="#5c5c5c" stroke-width="0.95"/>
<line x1="92.4" y1="332.39" x2="94.2" y2="332.39" stroke="#5c5c5c" stroke-width="0.95"/>
<line x1="193.2" y1="332.39" x2="191.4" y2="332.39" stroke="#5c5c5c" stroke-width="0.95"/>
<line x1="92.4" y1="328.23" x2="94.2" y2="328.23" stroke="#5c5c5c" stroke-width="0.95"/>
<line x1="193.2" y1="328.23" x2="191.4" y2="328.23" stroke="#5c5c5c" stroke-width="0.95"/>
<line x1="92.4" y1="325.28" x2="94.2" y2="325.28" stroke="#5c5c5c" stroke-width="0.95"/>
<line x1="193.2" y1="325.28" x2="191.4" y2="325.28" stroke="#5c5c5c" stroke-width="0.95"/>
<line x1="92.4" y1="322.99" x2="94.2" y2="322.99" stroke="#5c5c5c" stroke-width="0.95"/>
<line x1="193.2" y1="322.99" x2="191.4" y2="322.99" stroke="#5c5c5c" stroke-width="0.95"/>
<line x1="92.4" y1="321.12" x2="94.2" y2="321.12" stroke="#5c5c5c" stroke-width="0.95"/>
<line x1="193.2" y1="321.12" x2="191.4" y2="321.12" stroke="#5c5c5c" stroke-width="0.95"/>
<line x1="92.4" y1="319.53" x2="94.2" y2="319.53" stroke="#5c5c5c" stroke-width="0.95"/>
<line x1="193.2" y1="319.53" x2="191.4" y2="319.53" stroke="#5c5c5c" stroke-width="0.95"/>
<line x1="92.4" y1="318.16" x2="94.2" y2="318.16" stroke="#5c5c5c" stroke-width="0.95"/>
<line x1="193.2" y1="318.16" x2="191.4" y2="318.16" stroke="#5c5c5c" stroke-width="0.95"/>
<line x1="92.4" y1="316.96" x2="94.2" y2="316.96" stroke="#5c5c5c" stroke-width="0.95"/>
<line x1="193.2" y1="316.96" x2="191.4" y2="316.96" stroke="#5c5c5c" stroke-width="0.95"/>
<line x1="92.4" y1="308.76" x2="94.2" y2="308.76" stroke="#5c5c5c" stroke-width="0.95"/>
<line x1="193.2" y1="308.76" x2="191.4" y2="308.76" stroke="#5c5c5c" stroke-width="0.95"/>
<line x1="92.4" y1="304.6" x2="94.2" y2="304.6" stroke="#5c5c5c" stroke-width="0.95"/>
<line x1="193.2" y1="304.6" x2="191.4" y2="304.6" stroke="#5c5c5c" stroke-width="0.95"/>
<line x1="92.4" y1="301.65" x2="94.2" y2="301.65" stroke="#5c5c5c" stroke-width="0.95"/>
<line x1="193.2" y1="301.65" x2="191.4" y2="301.65" stroke="#5c5c5c" stroke-width="0.95"/>
<line x1="92.4" y1="299.36" x2="94.2" y2="299.36" stroke="#5c5c5c" stroke-width="0.95"/>
<line x1="193.2" y1="299.36" x2="191.4" y2="299.36" stroke="#5c5c5c" stroke-width="0.95"/>
<line x1="92.4" y1="297.49" x2="94.2" y2="297.49" stroke="#5c5c5c" stroke-width="0.95"/>
<line x1="193.2" y1="297.49" x2="191.4" y2="297.49" stroke="#5c5c5c" stroke-width="0.95"/>
<line x1="92.4" y1="295.91" x2="94.2" y2="295.91" stroke="#5c5c5c" stroke-width="0.95"/>
<line x1="193.2" y1="295.91" x2="191.4" y2="295.91" stroke="#5c5c5c" stroke-width="0.95"/>
<line x1="92.4" y1="294.54" x2="94.2" y2="294.54" stroke="#5c5c5c" stroke-width="0.95"/>
<line x1="193.2" y1="294.54" x2="191.4" y2="294.54" stroke="#5c5c5c" stroke-width="0.95"/>
<line x1="92.4" y1="293.33" x2="94.2" y2="293.33" stroke="#5c5c5c" stroke-width="0.95"/>
<line x1="193.2" y1="293.33" x2="191.4" y2="293.33" stroke="#5c5c5c" stroke-width="0.95"/>
<line x1="92.4" y1="285.14" x2="94.2" y2="285.14" stroke="#5c5c5c" stroke-width="0.95"/>
<line x1="193.2" y1="285.14" x2="191.4" y2="285.14" stroke="#5c5c5c" stroke-width="0.95"/>
<line x1="92.4" y1="280.98" x2="94.2" y2="280.98" stroke="#5c5c5c" stroke-width="0.95"/>
<line x1="193.2" y1="280.98" x2="191.4" y2="280.98" stroke="#5c5c5c" stroke-width="0.95"/>
<line x1="92.4" y1="278.03" x2="94.2" y2="278.03" stroke="#5c5c5c" stroke-width="0.95"/>
<line x1="193.2" y1="278.03" x2="191.4" y2="278.03" stroke="#5c5c5c" stroke-width="0.95"/>
<line x1="92.4" y1="275.74" x2="94.2" y2="275.74" stroke="#5c5c5c" stroke-width="0.95"/>
<line x1="193.2" y1="275.74" x2="191.4" y2="275.74" stroke="#5c5c5c" stroke-width="0.95"/>
<line x1="92.4" y1="273.87" x2="94.2" y2="273.87" stroke="#5c5c5c" stroke-width="0.95"/>
<line x1="193.2" y1="273.87" x2="191.4" y2="273.87" stroke="#5c5c5c" stroke-width="0.95"/>
<line x1="92.4" y1="272.28" x2="94.2" y2="272.28" stroke="#5c5c5c" stroke-width="0.95"/>
<line x1="193.2" y1="272.28" x2="191.4" y2="272.28" stroke="#5c5c5c" stroke-width="0.95"/>
<line x1="92.4" y1="270.91" x2="94.2" y2="270.91" stroke="#5c5c5c" stroke-width="0.95"/>
<line x1="193.2" y1="270.91" x2="191.4" y2="270.91" stroke="#5c5c5c" stroke-width="0.95"/>
<line x1="92.4" y1="269.71" x2="94.2" y2="269.71" stroke="#5c5c5c" stroke-width="0.95"/>
<line x1="193.2" y1="269.71" x2="191.4" y2="269.71" stroke="#5c5c5c" stroke-width="0.95"/>
<line x1="92.4" y1="261.51" x2="94.2" y2="261.51" stroke="#5c5c5c" stroke-width="0.95"/>
<line x1="193.2" y1="261.51" x2="191.4" y2="261.51" stroke="#5c5c5c" stroke-width="0.95"/>
<line x1="92.4" y1="257.35" x2="94.2" y2="257.35" stroke="#5c5c5c" stroke-width="0.95"/>
<line x1="193.2" y1="257.35" x2="191.4" y2="257.35" stroke="#5c5c5c" stroke-width="0.95"/>
<line x1="92.4" y1="254.4" x2="94.2" y2="254.4" stroke="#5c5c5c" stroke-width="0.95"/>
<line x1="193.2" y1="254.4" x2="191.4" y2="254.4" stroke="#5c5c5c" stroke-width="0.95"/>
<line x1="92.4" y1="252.11" x2="94.2" y2="252.11" stroke="#5c5c5c" stroke-width="0.95"/>
<line x1="193.2" y1="252.11" x2="191.4" y2="252.11" stroke="#5c5c5c" stroke-width="0.95"/>
<line x1="92.4" y1="250.24" x2="94.2" y2="250.24" stroke="#5c5c5c" stroke-width="0.95"/>
<line x1="193.2" y1="250.24" x2="191.4" y2="250.24" stroke="#5c5c5c" stroke-width="0.95"/>
<line x1="92.4" y1="248.66" x2="94.2" y2="248.66" stroke="#5c5c5c" stroke-width="0.95"/>
<line x1="193.2" y1="248.66" x2="191.4" y2="248.66" stroke="#5c5c5c" stroke-width="0.95"/>
<line x1="92.4" y1="247.29" x2="94.2" y2="247.29" stroke="#5c5c5c" stroke-width="0.95"/>
<line x1="193.2" y1="247.29" x2="191.4" y2="247.29" stroke="#5c5c5c" stroke-width="0.95"/>
<line x1="92.4" y1="246.08" x2="94.2" y2="246.08" stroke="#5c5c5c" stroke-width="0.95"/>
<line x1="193.2" y1="246.08" x2="191.4" y2="246.08" stroke="#5c5c5c" stroke-width="0.95"/>
<rect x="92.4" y="245" width="100.8" height="94.5" fill="none" stroke="#6e6e6e" stroke-width="1.1"/>
<text x="72.6" y="343.9" font-size="10" textLength="18.4" lengthAdjust="spacingAndGlyphs">10<tspan font-size="8.5" dy="-4">-5</tspan></text>
<text x="72.6" y="320.27" font-size="10" textLength="18.4" lengthAdjust="spacingAndGlyphs">10<tspan font-size="8.5" dy="-4">-4</tspan></text>
<text x="72.6" y="296.65" font-size="10" textLength="18.4" lengthAdjust="spacingAndGlyphs">10<tspan font-size="8.5" dy="-4">-3</tspan></text>
<text x="72.6" y="273.02" font-size="10" textLength="18.4" lengthAdjust="spacingAndGlyphs">10<tspan font-size="8.5" dy="-4">-2</tspan></text>
<text x="72.6" y="249.4" font-size="10" textLength="18.4" lengthAdjust="spacingAndGlyphs">10<tspan font-size="8.5" dy="-4">-1</tspan></text>
<text x="92.6" y="349.8" font-size="10" text-anchor="middle">1</text>
<text x="143" y="349.8" font-size="10" text-anchor="middle">10</text>
<text x="186.0" y="349.8" font-size="10" textLength="14.6" lengthAdjust="spacingAndGlyphs">10<tspan font-size="8.5" dy="-4">2</tspan></text>
<text x="124.2" y="360" font-size="11.5" textLength="36.2" lengthAdjust="spacingAndGlyphs"><tspan font-style="italic">d</tspan> (nm)</text>
<text transform="translate(70.6,311.4) rotate(-90)" x="0" y="0" font-size="13.2" textLength="46.8" lengthAdjust="spacingAndGlyphs">&#916;<tspan font-style="italic">T</tspan> (K)</text>
<line x1="92.4" y1="302.1" x2="212.4" y2="189.3" stroke="#151515" stroke-width="1.6" clip-path="url(#ib)"/>
<line x1="92.4" y1="310.8" x2="212.4" y2="198" stroke="#b52a36" stroke-width="1.6" clip-path="url(#ib)"/>
<line x1="92.4" y1="323.8" x2="212.4" y2="211" stroke="#f3a228" stroke-width="1.6" clip-path="url(#ib)"/>
<line x1="92.4" y1="338.3" x2="212.4" y2="225.5" stroke="#e8323a" stroke-width="1.6" clip-path="url(#ib)"/>
<line x1="92.4" y1="349.2" x2="212.4" y2="236.4" stroke="#8a45b8" stroke-width="1.6" clip-path="url(#ib)"/>
<path d="M92.4,361.0L92.9,360.5L93.4,360.0L93.9,359.6L94.5,359.1L95.0,358.6L95.5,358.1L96.0,357.7L96.5,357.2L97.0,356.7L97.5,356.2L98.0,355.7L98.6,355.3L99.1,354.8L99.6,354.3L100.1,353.8L100.6,353.4L101.1,352.9L101.6,352.4L102.1,351.9L102.7,351.4L103.2,351.0L103.7,350.5L104.2,350.0L104.7,349.5L105.2,349.1L105.7,348.6L106.2,348.1L106.8,347.6L107.3,347.1L107.8,346.7L108.3,346.2L108.8,345.7L109.3,345.2L109.8,344.8L110.3,344.3L110.9,343.8L111.4,343.3L111.9,342.8L112.4,342.4L112.9,341.9L113.4,341.4L113.9,340.9L114.4,340.4L115.0,340.0L115.5,339.5L116.0,339.0L116.5,338.5L117.0,338.1L117.5,337.6L118.0,337.1L118.5,336.6L119.1,336.1L119.6,335.7L120.1,335.2L120.6,334.7L121.1,334.2L121.6,333.7L122.1,333.3L122.6,332.8L123.1,332.3L123.7,331.8L124.2,331.4L124.7,330.9L125.2,330.4L125.7,329.9L126.2,329.4L126.7,329.0L127.2,328.5L127.8,328.0L128.3,327.5L128.8,327.0L129.3,326.6L129.8,326.1L130.3,325.6L130.8,325.1L131.3,324.6L131.8,324.2L132.4,323.7L132.9,323.2L133.4,322.7L133.9,322.2L134.4,321.8L134.9,321.3L135.4,320.8L135.9,320.3L136.4,319.8L137.0,319.4L137.5,318.9L138.0,318.4L138.5,317.9L139.0,317.5L139.5,317.0L140.0,316.5L140.5,316.0L141.1,315.5L141.6,315.1L142.1,314.6L142.6,314.1L143.1,313.6L143.6,313.1L144.1,312.7L144.6,312.2L145.2,311.7L145.7,311.2L146.2,310.8L146.7,310.3L147.2,309.8L147.7,309.3L148.2,308.9L148.8,308.4L149.3,307.9L149.8,307.4L150.3,307.0L150.8,306.5L151.3,306.0L151.8,305.5L152.4,305.1L152.9,304.6L153.4,304.1L153.9,303.6L154.4,303.2L155.0,302.7L155.5,302.2L156.0,301.7L156.5,301.3L157.0,300.8L157.5,300.3L158.1,299.9L158.6,299.4L159.1,298.9L159.6,298.4L160.1,298.0L160.7,297.5L161.2,297.0L161.7,296.6L162.2,296.1L162.7,295.6L163.2,295.1L163.8,294.7L164.3,294.2L164.8,293.7L165.3,293.2L165.8,292.7L166.3,292.3L166.8,291.8L167.3,291.3L167.9,290.8L168.4,290.4L168.9,289.9L169.4,289.4L169.9,288.9L170.4,288.4L170.9,288.0L171.4,287.5L171.9,287.0L172.5,286.5L173.0,286.0L173.5,285.5L174.0,285.1L174.5,284.6L175.0,284.1L175.5,283.6L176.0,283.1L176.4,282.6L176.9,282.1L177.4,281.6L177.9,281.0L178.3,280.5L178.8,280.0L179.2,279.4L179.7,278.9L180.1,278.4L180.6,277.8L181.0,277.2L181.4,276.7L181.8,276.1L182.2,275.6L182.6,275.0L183.1,274.4L183.5,273.9L183.9,273.3L184.3,272.7L184.6,272.1L185.0,271.5L185.4,270.9L185.8,270.3L186.2,269.8L186.6,269.2L186.9,268.6L187.3,268.0L187.7,267.4L188.1,266.8L188.5,266.3L188.9,265.7L189.3,265.1L189.7,264.5L190.0,263.9L190.4,263.3L190.8,262.7L191.2,262.2L191.6,261.6L191.9,261.0L192.3,260.4L192.7,259.8L193.1,259.2L193.4,258.6L193.8,258.0" fill="none" stroke="#2f5fbd" stroke-width="1.45" stroke-linejoin="round" stroke-linecap="round" clip-path="url(#ib)"/>
<line x1="392.4" y1="181.4" x2="392.4" y2="176.9" stroke="#5c5c5c" stroke-width="0.95"/>
<line x1="392.4" y1="15.8" x2="392.4" y2="20.3" stroke="#5c5c5c" stroke-width="0.95"/>
<line x1="411.94" y1="181.4" x2="411.94" y2="179.2" stroke="#5c5c5c" stroke-width="0.95"/>
<line x1="411.94" y1="15.8" x2="411.94" y2="18" stroke="#5c5c5c" stroke-width="0.95"/>
<line x1="423.37" y1="181.4" x2="423.37" y2="179.2" stroke="#5c5c5c" stroke-width="0.95"/>
<line x1="423.37" y1="15.8" x2="423.37" y2="18" stroke="#5c5c5c" stroke-width="0.95"/>
<line x1="431.47" y1="181.4" x2="431.47" y2="179.2" stroke="#5c5c5c" stroke-width="0.95"/>
<line x1="431.47" y1="15.8" x2="431.47" y2="18" stroke="#5c5c5c" stroke-width="0.95"/>
<line x1="437.76" y1="181.4" x2="437.76" y2="179.2" stroke="#5c5c5c" stroke-width="0.95"/>
<line x1="437.76" y1="15.8" x2="437.76" y2="18" stroke="#5c5c5c" stroke-width="0.95"/>
<line x1="442.9" y1="181.4" x2="442.9" y2="179.2" stroke="#5c5c5c" stroke-width="0.95"/>
<line x1="442.9" y1="15.8" x2="442.9" y2="18" stroke="#5c5c5c" stroke-width="0.95"/>
<line x1="447.25" y1="181.4" x2="447.25" y2="179.2" stroke="#5c5c5c" stroke-width="0.95"/>
<line x1="447.25" y1="15.8" x2="447.25" y2="18" stroke="#5c5c5c" stroke-width="0.95"/>
<line x1="451.01" y1="181.4" x2="451.01" y2="179.2" stroke="#5c5c5c" stroke-width="0.95"/>
<line x1="451.01" y1="15.8" x2="451.01" y2="18" stroke="#5c5c5c" stroke-width="0.95"/>
<line x1="454.33" y1="181.4" x2="454.33" y2="179.2" stroke="#5c5c5c" stroke-width="0.95"/>
<line x1="454.33" y1="15.8" x2="454.33" y2="18" stroke="#5c5c5c" stroke-width="0.95"/>
<line x1="457.3" y1="181.4" x2="457.3" y2="176.9" stroke="#5c5c5c" stroke-width="0.95"/>
<line x1="457.3" y1="15.8" x2="457.3" y2="20.3" stroke="#5c5c5c" stroke-width="0.95"/>
<line x1="476.84" y1="181.4" x2="476.84" y2="179.2" stroke="#5c5c5c" stroke-width="0.95"/>
<line x1="476.84" y1="15.8" x2="476.84" y2="18" stroke="#5c5c5c" stroke-width="0.95"/>
<line x1="488.27" y1="181.4" x2="488.27" y2="179.2" stroke="#5c5c5c" stroke-width="0.95"/>
<line x1="488.27" y1="15.8" x2="488.27" y2="18" stroke="#5c5c5c" stroke-width="0.95"/>
<line x1="496.37" y1="181.4" x2="496.37" y2="179.2" stroke="#5c5c5c" stroke-width="0.95"/>
<line x1="496.37" y1="15.8" x2="496.37" y2="18" stroke="#5c5c5c" stroke-width="0.95"/>
<line x1="502.66" y1="181.4" x2="502.66" y2="179.2" stroke="#5c5c5c" stroke-width="0.95"/>
<line x1="502.66" y1="15.8" x2="502.66" y2="18" stroke="#5c5c5c" stroke-width="0.95"/>
<line x1="507.8" y1="181.4" x2="507.8" y2="179.2" stroke="#5c5c5c" stroke-width="0.95"/>
<line x1="507.8" y1="15.8" x2="507.8" y2="18" stroke="#5c5c5c" stroke-width="0.95"/>
<line x1="512.15" y1="181.4" x2="512.15" y2="179.2" stroke="#5c5c5c" stroke-width="0.95"/>
<line x1="512.15" y1="15.8" x2="512.15" y2="18" stroke="#5c5c5c" stroke-width="0.95"/>
<line x1="515.91" y1="181.4" x2="515.91" y2="179.2" stroke="#5c5c5c" stroke-width="0.95"/>
<line x1="515.91" y1="15.8" x2="515.91" y2="18" stroke="#5c5c5c" stroke-width="0.95"/>
<line x1="519.23" y1="181.4" x2="519.23" y2="179.2" stroke="#5c5c5c" stroke-width="0.95"/>
<line x1="519.23" y1="15.8" x2="519.23" y2="18" stroke="#5c5c5c" stroke-width="0.95"/>
<line x1="522.2" y1="181.4" x2="522.2" y2="176.9" stroke="#5c5c5c" stroke-width="0.95"/>
<line x1="522.2" y1="15.8" x2="522.2" y2="20.3" stroke="#5c5c5c" stroke-width="0.95"/>
<line x1="541.74" y1="181.4" x2="541.74" y2="179.2" stroke="#5c5c5c" stroke-width="0.95"/>
<line x1="541.74" y1="15.8" x2="541.74" y2="18" stroke="#5c5c5c" stroke-width="0.95"/>
<line x1="553.17" y1="181.4" x2="553.17" y2="179.2" stroke="#5c5c5c" stroke-width="0.95"/>
<line x1="553.17" y1="15.8" x2="553.17" y2="18" stroke="#5c5c5c" stroke-width="0.95"/>
<line x1="561.27" y1="181.4" x2="561.27" y2="179.2" stroke="#5c5c5c" stroke-width="0.95"/>
<line x1="561.27" y1="15.8" x2="561.27" y2="18" stroke="#5c5c5c" stroke-width="0.95"/>
<line x1="567.56" y1="181.4" x2="567.56" y2="179.2" stroke="#5c5c5c" stroke-width="0.95"/>
<line x1="567.56" y1="15.8" x2="567.56" y2="18" stroke="#5c5c5c" stroke-width="0.95"/>
<line x1="572.7" y1="181.4" x2="572.7" y2="179.2" stroke="#5c5c5c" stroke-width="0.95"/>
<line x1="572.7" y1="15.8" x2="572.7" y2="18" stroke="#5c5c5c" stroke-width="0.95"/>
<line x1="577.05" y1="181.4" x2="577.05" y2="179.2" stroke="#5c5c5c" stroke-width="0.95"/>
<line x1="577.05" y1="15.8" x2="577.05" y2="18" stroke="#5c5c5c" stroke-width="0.95"/>
<line x1="580.81" y1="181.4" x2="580.81" y2="179.2" stroke="#5c5c5c" stroke-width="0.95"/>
<line x1="580.81" y1="15.8" x2="580.81" y2="18" stroke="#5c5c5c" stroke-width="0.95"/>
<line x1="584.13" y1="181.4" x2="584.13" y2="179.2" stroke="#5c5c5c" stroke-width="0.95"/>
<line x1="584.13" y1="15.8" x2="584.13" y2="18" stroke="#5c5c5c" stroke-width="0.95"/>
<line x1="587.1" y1="181.4" x2="587.1" y2="176.9" stroke="#5c5c5c" stroke-width="0.95"/>
<line x1="587.1" y1="15.8" x2="587.1" y2="20.3" stroke="#5c5c5c" stroke-width="0.95"/>
<line x1="606.64" y1="181.4" x2="606.64" y2="179.2" stroke="#5c5c5c" stroke-width="0.95"/>
<line x1="606.64" y1="15.8" x2="606.64" y2="18" stroke="#5c5c5c" stroke-width="0.95"/>
<line x1="618.07" y1="181.4" x2="618.07" y2="179.2" stroke="#5c5c5c" stroke-width="0.95"/>
<line x1="618.07" y1="15.8" x2="618.07" y2="18" stroke="#5c5c5c" stroke-width="0.95"/>
<line x1="626.17" y1="181.4" x2="626.17" y2="179.2" stroke="#5c5c5c" stroke-width="0.95"/>
<line x1="626.17" y1="15.8" x2="626.17" y2="18" stroke="#5c5c5c" stroke-width="0.95"/>
<line x1="632.46" y1="181.4" x2="632.46" y2="179.2" stroke="#5c5c5c" stroke-width="0.95"/>
<line x1="632.46" y1="15.8" x2="632.46" y2="18" stroke="#5c5c5c" stroke-width="0.95"/>
<line x1="637.6" y1="181.4" x2="637.6" y2="179.2" stroke="#5c5c5c" stroke-width="0.95"/>
<line x1="637.6" y1="15.8" x2="637.6" y2="18" stroke="#5c5c5c" stroke-width="0.95"/>
<line x1="641.95" y1="181.4" x2="641.95" y2="179.2" stroke="#5c5c5c" stroke-width="0.95"/>
<line x1="641.95" y1="15.8" x2="641.95" y2="18" stroke="#5c5c5c" stroke-width="0.95"/>
<line x1="645.71" y1="181.4" x2="645.71" y2="179.2" stroke="#5c5c5c" stroke-width="0.95"/>
<line x1="645.71" y1="15.8" x2="645.71" y2="18" stroke="#5c5c5c" stroke-width="0.95"/>
<line x1="649.03" y1="181.4" x2="649.03" y2="179.2" stroke="#5c5c5c" stroke-width="0.95"/>
<line x1="649.03" y1="15.8" x2="649.03" y2="18" stroke="#5c5c5c" stroke-width="0.95"/>
<line x1="652" y1="181.4" x2="652" y2="176.9" stroke="#5c5c5c" stroke-width="0.95"/>
<line x1="652" y1="15.8" x2="652" y2="20.3" stroke="#5c5c5c" stroke-width="0.95"/>
<line x1="392.4" y1="181.4" x2="396.9" y2="181.4" stroke="#5c5c5c" stroke-width="0.95"/>
<line x1="652" y1="181.4" x2="647.5" y2="181.4" stroke="#5c5c5c" stroke-width="0.95"/>
<line x1="392.4" y1="148.28" x2="396.9" y2="148.28" stroke="#5c5c5c" stroke-width="0.95"/>
<line x1="652" y1="148.28" x2="647.5" y2="148.28" stroke="#5c5c5c" stroke-width="0.95"/>
<line x1="392.4" y1="115.16" x2="396.9" y2="115.16" stroke="#5c5c5c" stroke-width="0.95"/>
<line x1="652" y1="115.16" x2="647.5" y2="115.16" stroke="#5c5c5c" stroke-width="0.95"/>
<line x1="392.4" y1="82.04" x2="396.9" y2="82.04" stroke="#5c5c5c" stroke-width="0.95"/>
<line x1="652" y1="82.04" x2="647.5" y2="82.04" stroke="#5c5c5c" stroke-width="0.95"/>
<line x1="392.4" y1="48.92" x2="396.9" y2="48.92" stroke="#5c5c5c" stroke-width="0.95"/>
<line x1="652" y1="48.92" x2="647.5" y2="48.92" stroke="#5c5c5c" stroke-width="0.95"/>
<line x1="392.4" y1="15.8" x2="396.9" y2="15.8" stroke="#5c5c5c" stroke-width="0.95"/>
<line x1="652" y1="15.8" x2="647.5" y2="15.8" stroke="#5c5c5c" stroke-width="0.95"/>
<line x1="392.4" y1="178.09" x2="394.6" y2="178.09" stroke="#5c5c5c" stroke-width="0.95"/>
<line x1="652" y1="178.09" x2="649.8" y2="178.09" stroke="#5c5c5c" stroke-width="0.95"/>
<line x1="392.4" y1="174.78" x2="394.6" y2="174.78" stroke="#5c5c5c" stroke-width="0.95"/>
<line x1="652" y1="174.78" x2="649.8" y2="174.78" stroke="#5c5c5c" stroke-width="0.95"/>
<line x1="392.4" y1="171.46" x2="394.6" y2="171.46" stroke="#5c5c5c" stroke-width="0.95"/>
<line x1="652" y1="171.46" x2="649.8" y2="171.46" stroke="#5c5c5c" stroke-width="0.95"/>
<line x1="392.4" y1="168.15" x2="394.6" y2="168.15" stroke="#5c5c5c" stroke-width="0.95"/>
<line x1="652" y1="168.15" x2="649.8" y2="168.15" stroke="#5c5c5c" stroke-width="0.95"/>
<line x1="392.4" y1="164.84" x2="394.6" y2="164.84" stroke="#5c5c5c" stroke-width="0.95"/>
<line x1="652" y1="164.84" x2="649.8" y2="164.84" stroke="#5c5c5c" stroke-width="0.95"/>
<line x1="392.4" y1="161.53" x2="394.6" y2="161.53" stroke="#5c5c5c" stroke-width="0.95"/>
<line x1="652" y1="161.53" x2="649.8" y2="161.53" stroke="#5c5c5c" stroke-width="0.95"/>
<line x1="392.4" y1="158.22" x2="394.6" y2="158.22" stroke="#5c5c5c" stroke-width="0.95"/>
<line x1="652" y1="158.22" x2="649.8" y2="158.22" stroke="#5c5c5c" stroke-width="0.95"/>
<line x1="392.4" y1="154.9" x2="394.6" y2="154.9" stroke="#5c5c5c" stroke-width="0.95"/>
<line x1="652" y1="154.9" x2="649.8" y2="154.9" stroke="#5c5c5c" stroke-width="0.95"/>
<line x1="392.4" y1="151.59" x2="394.6" y2="151.59" stroke="#5c5c5c" stroke-width="0.95"/>
<line x1="652" y1="151.59" x2="649.8" y2="151.59" stroke="#5c5c5c" stroke-width="0.95"/>
<line x1="392.4" y1="144.97" x2="394.6" y2="144.97" stroke="#5c5c5c" stroke-width="0.95"/>
<line x1="652" y1="144.97" x2="649.8" y2="144.97" stroke="#5c5c5c" stroke-width="0.95"/>
<line x1="392.4" y1="141.66" x2="394.6" y2="141.66" stroke="#5c5c5c" stroke-width="0.95"/>
<line x1="652" y1="141.66" x2="649.8" y2="141.66" stroke="#5c5c5c" stroke-width="0.95"/>
<line x1="392.4" y1="138.34" x2="394.6" y2="138.34" stroke="#5c5c5c" stroke-width="0.95"/>
<line x1="652" y1="138.34" x2="649.8" y2="138.34" stroke="#5c5c5c" stroke-width="0.95"/>
<line x1="392.4" y1="135.03" x2="394.6" y2="135.03" stroke="#5c5c5c" stroke-width="0.95"/>
<line x1="652" y1="135.03" x2="649.8" y2="135.03" stroke="#5c5c5c" stroke-width="0.95"/>
<line x1="392.4" y1="131.72" x2="394.6" y2="131.72" stroke="#5c5c5c" stroke-width="0.95"/>
<line x1="652" y1="131.72" x2="649.8" y2="131.72" stroke="#5c5c5c" stroke-width="0.95"/>
<line x1="392.4" y1="128.41" x2="394.6" y2="128.41" stroke="#5c5c5c" stroke-width="0.95"/>
<line x1="652" y1="128.41" x2="649.8" y2="128.41" stroke="#5c5c5c" stroke-width="0.95"/>
<line x1="392.4" y1="125.1" x2="394.6" y2="125.1" stroke="#5c5c5c" stroke-width="0.95"/>
<line x1="652" y1="125.1" x2="649.8" y2="125.1" stroke="#5c5c5c" stroke-width="0.95"/>
<line x1="392.4" y1="121.78" x2="394.6" y2="121.78" stroke="#5c5c5c" stroke-width="0.95"/>
<line x1="652" y1="121.78" x2="649.8" y2="121.78" stroke="#5c5c5c" stroke-width="0.95"/>
<line x1="392.4" y1="118.47" x2="394.6" y2="118.47" stroke="#5c5c5c" stroke-width="0.95"/>
<line x1="652" y1="118.47" x2="649.8" y2="118.47" stroke="#5c5c5c" stroke-width="0.95"/>
<line x1="392.4" y1="111.85" x2="394.6" y2="111.85" stroke="#5c5c5c" stroke-width="0.95"/>
<line x1="652" y1="111.85" x2="649.8" y2="111.85" stroke="#5c5c5c" stroke-width="0.95"/>
<line x1="392.4" y1="108.54" x2="394.6" y2="108.54" stroke="#5c5c5c" stroke-width="0.95"/>
<line x1="652" y1="108.54" x2="649.8" y2="108.54" stroke="#5c5c5c" stroke-width="0.95"/>
<line x1="392.4" y1="105.22" x2="394.6" y2="105.22" stroke="#5c5c5c" stroke-width="0.95"/>
<line x1="652" y1="105.22" x2="649.8" y2="105.22" stroke="#5c5c5c" stroke-width="0.95"/>
<line x1="392.4" y1="101.91" x2="394.6" y2="101.91" stroke="#5c5c5c" stroke-width="0.95"/>
<line x1="652" y1="101.91" x2="649.8" y2="101.91" stroke="#5c5c5c" stroke-width="0.95"/>
<line x1="392.4" y1="98.6" x2="394.6" y2="98.6" stroke="#5c5c5c" stroke-width="0.95"/>
<line x1="652" y1="98.6" x2="649.8" y2="98.6" stroke="#5c5c5c" stroke-width="0.95"/>
<line x1="392.4" y1="95.29" x2="394.6" y2="95.29" stroke="#5c5c5c" stroke-width="0.95"/>
<line x1="652" y1="95.29" x2="649.8" y2="95.29" stroke="#5c5c5c" stroke-width="0.95"/>
<line x1="392.4" y1="91.98" x2="394.6" y2="91.98" stroke="#5c5c5c" stroke-width="0.95"/>
<line x1="652" y1="91.98" x2="649.8" y2="91.98" stroke="#5c5c5c" stroke-width="0.95"/>
<line x1="392.4" y1="88.66" x2="394.6" y2="88.66" stroke="#5c5c5c" stroke-width="0.95"/>
<line x1="652" y1="88.66" x2="649.8" y2="88.66" stroke="#5c5c5c" stroke-width="0.95"/>
<line x1="392.4" y1="85.35" x2="394.6" y2="85.35" stroke="#5c5c5c" stroke-width="0.95"/>
<line x1="652" y1="85.35" x2="649.8" y2="85.35" stroke="#5c5c5c" stroke-width="0.95"/>
<line x1="392.4" y1="78.73" x2="394.6" y2="78.73" stroke="#5c5c5c" stroke-width="0.95"/>
<line x1="652" y1="78.73" x2="649.8" y2="78.73" stroke="#5c5c5c" stroke-width="0.95"/>
<line x1="392.4" y1="75.42" x2="394.6" y2="75.42" stroke="#5c5c5c" stroke-width="0.95"/>
<line x1="652" y1="75.42" x2="649.8" y2="75.42" stroke="#5c5c5c" stroke-width="0.95"/>
<line x1="392.4" y1="72.1" x2="394.6" y2="72.1" stroke="#5c5c5c" stroke-width="0.95"/>
<line x1="652" y1="72.1" x2="649.8" y2="72.1" stroke="#5c5c5c" stroke-width="0.95"/>
<line x1="392.4" y1="68.79" x2="394.6" y2="68.79" stroke="#5c5c5c" stroke-width="0.95"/>
<line x1="652" y1="68.79" x2="649.8" y2="68.79" stroke="#5c5c5c" stroke-width="0.95"/>
<line x1="392.4" y1="65.48" x2="394.6" y2="65.48" stroke="#5c5c5c" stroke-width="0.95"/>
<line x1="652" y1="65.48" x2="649.8" y2="65.48" stroke="#5c5c5c" stroke-width="0.95"/>
<line x1="392.4" y1="62.17" x2="394.6" y2="62.17" stroke="#5c5c5c" stroke-width="0.95"/>
<line x1="652" y1="62.17" x2="649.8" y2="62.17" stroke="#5c5c5c" stroke-width="0.95"/>
<line x1="392.4" y1="58.86" x2="394.6" y2="58.86" stroke="#5c5c5c" stroke-width="0.95"/>
<line x1="652" y1="58.86" x2="649.8" y2="58.86" stroke="#5c5c5c" stroke-width="0.95"/>
<line x1="392.4" y1="55.54" x2="394.6" y2="55.54" stroke="#5c5c5c" stroke-width="0.95"/>
<line x1="652" y1="55.54" x2="649.8" y2="55.54" stroke="#5c5c5c" stroke-width="0.95"/>
<line x1="392.4" y1="52.23" x2="394.6" y2="52.23" stroke="#5c5c5c" stroke-width="0.95"/>
<line x1="652" y1="52.23" x2="649.8" y2="52.23" stroke="#5c5c5c" stroke-width="0.95"/>
<line x1="392.4" y1="45.61" x2="394.6" y2="45.61" stroke="#5c5c5c" stroke-width="0.95"/>
<line x1="652" y1="45.61" x2="649.8" y2="45.61" stroke="#5c5c5c" stroke-width="0.95"/>
<line x1="392.4" y1="42.3" x2="394.6" y2="42.3" stroke="#5c5c5c" stroke-width="0.95"/>
<line x1="652" y1="42.3" x2="649.8" y2="42.3" stroke="#5c5c5c" stroke-width="0.95"/>
<line x1="392.4" y1="38.98" x2="394.6" y2="38.98" stroke="#5c5c5c" stroke-width="0.95"/>
<line x1="652" y1="38.98" x2="649.8" y2="38.98" stroke="#5c5c5c" stroke-width="0.95"/>
<line x1="392.4" y1="35.67" x2="394.6" y2="35.67" stroke="#5c5c5c" stroke-width="0.95"/>
<line x1="652" y1="35.67" x2="649.8" y2="35.67" stroke="#5c5c5c" stroke-width="0.95"/>
<line x1="392.4" y1="32.36" x2="394.6" y2="32.36" stroke="#5c5c5c" stroke-width="0.95"/>
<line x1="652" y1="32.36" x2="649.8" y2="32.36" stroke="#5c5c5c" stroke-width="0.95"/>
<line x1="392.4" y1="29.05" x2="394.6" y2="29.05" stroke="#5c5c5c" stroke-width="0.95"/>
<line x1="652" y1="29.05" x2="649.8" y2="29.05" stroke="#5c5c5c" stroke-width="0.95"/>
<line x1="392.4" y1="25.74" x2="394.6" y2="25.74" stroke="#5c5c5c" stroke-width="0.95"/>
<line x1="652" y1="25.74" x2="649.8" y2="25.74" stroke="#5c5c5c" stroke-width="0.95"/>
<line x1="392.4" y1="22.42" x2="394.6" y2="22.42" stroke="#5c5c5c" stroke-width="0.95"/>
<line x1="652" y1="22.42" x2="649.8" y2="22.42" stroke="#5c5c5c" stroke-width="0.95"/>
<line x1="392.4" y1="19.11" x2="394.6" y2="19.11" stroke="#5c5c5c" stroke-width="0.95"/>
<line x1="652" y1="19.11" x2="649.8" y2="19.11" stroke="#5c5c5c" stroke-width="0.95"/>
<rect x="392.4" y="15.8" width="259.6" height="165.6" fill="none" stroke="#6e6e6e" stroke-width="1.1"/>
<text x="390" y="185.5" font-size="12" text-anchor="end">2</text>
<text x="390" y="152.38" font-size="12" text-anchor="end">4</text>
<text x="390" y="119.26" font-size="12" text-anchor="end">6</text>
<text x="390" y="86.14" font-size="12" text-anchor="end">8</text>
<text x="390" y="53.02" font-size="12" text-anchor="end">10</text>
<text x="390" y="19.9" font-size="12" text-anchor="end">12</text>
<text x="392.6" y="193.9" font-size="12" text-anchor="middle">1</text>
<text x="457.3" y="193.9" font-size="12" text-anchor="middle">10</text>
<text x="514" y="193.9" font-size="12" textLength="16" lengthAdjust="spacingAndGlyphs">10<tspan font-size="8.4" dy="-4.5">2</tspan></text>
<text x="578.9" y="193.9" font-size="12" textLength="16" lengthAdjust="spacingAndGlyphs">10<tspan font-size="8.4" dy="-4.5">3</tspan></text>
<text x="643.8" y="193.9" font-size="12" textLength="16" lengthAdjust="spacingAndGlyphs">10<tspan font-size="8.4" dy="-4.5">4</tspan></text>
<text x="512.6" y="11.5" font-size="16.5" textLength="19.2" lengthAdjust="spacingAndGlyphs">Au</text>
<text x="614" y="44.8" font-size="16.5" textLength="17.2" lengthAdjust="spacingAndGlyphs">(c)</text>
<text transform="translate(358.8,134.8) rotate(-90)" x="0" y="0" font-size="15.5" textLength="70.8" lengthAdjust="spacingAndGlyphs">&#934; (W/m<tspan font-size="11" dy="-6.5">2</tspan><tspan dy="6.5">)</tspan></text>
<path d="M392.4,51.6L393.1,51.6L393.8,51.6L394.5,51.6L395.2,51.6L395.9,51.6L396.6,51.6L397.3,51.6L398.0,51.6L398.7,51.6L399.4,51.6L400.1,51.6L400.8,51.6L401.5,51.6L402.2,51.6L402.9,51.6L403.6,51.6L404.3,51.6L405.0,51.6L405.7,51.6L406.4,51.6L407.1,51.6L407.8,51.6L408.5,51.6L409.2,51.6L409.9,51.6L410.6,51.6L411.3,51.6L412.0,51.6L412.7,51.6L413.4,51.6L414.1,51.6L414.8,51.6L415.5,51.6L416.2,51.6L416.9,51.6L417.6,51.6L418.3,51.6L419.0,51.6L419.7,51.6L420.4,51.6L421.1,51.5L421.7,51.5L422.3,51.5L422.9,51.5L423.5,51.5L424.2,51.5L424.8,51.5L425.5,51.4L426.2,51.4L426.9,51.4L427.6,51.4L428.3,51.3L429.0,51.3L429.7,51.3L430.4,51.3L431.1,51.2L431.8,51.2L432.5,51.2L433.2,51.2L433.9,51.1L434.6,51.1L435.3,51.1L436.0,51.0L436.7,51.0L437.4,51.0L438.1,50.9L438.8,50.9L439.5,50.9L440.2,50.8L440.9,50.8L441.6,50.7L442.3,50.7L443.0,50.7L443.7,50.6L444.4,50.6L445.1,50.5L445.8,50.5L446.5,50.4L447.2,50.4L447.9,50.4L448.6,50.3L449.3,50.3L450.0,50.2L450.7,50.2L451.4,50.1L452.1,50.1L452.8,50.0L453.5,50.0L454.2,49.9L454.9,49.9L455.6,49.8L456.3,49.8L457.0,49.7L457.7,49.7L458.4,49.6L459.1,49.6L459.8,49.5L460.5,49.4L461.2,49.4L461.9,49.3L462.6,49.3L463.3,49.2L463.9,49.2L464.6,49.1L465.3,49.0L466.0,49.0L466.7,48.9L467.4,48.9L468.1,48.8L468.8,48.7L469.5,48.7L470.2,48.6L470.9,48.6L471.6,48.5L472.3,48.4L473.0,48.4L473.7,48.3L474.4,48.3L475.1,48.2L475.8,48.1L476.5,48.1L477.2,48.0L477.9,48.0L478.6,47.9L479.3,47.8L480.0,47.8L480.7,47.7L481.4,47.6L482.1,47.6L482.8,47.5L483.5,47.4L484.2,47.4L484.9,47.3L485.6,47.3L486.3,47.2L487.0,47.1L487.7,47.1L488.4,47.0L489.1,46.9L489.8,46.9L490.5,46.8L491.2,46.8L491.9,46.7L492.6,46.6L493.3,46.6L493.9,46.5L494.6,46.4L495.3,46.4L496.0,46.3L496.7,46.3L497.4,46.2L498.1,46.1L498.8,46.1L499.5,46.0L500.2,45.9L500.9,45.9L501.6,45.8L502.3,45.8L503.0,45.7L503.7,45.6L504.4,45.6L505.1,45.5L505.8,45.5L506.5,45.4L507.2,45.4L507.9,45.3L508.6,45.2L509.3,45.2L510.0,45.1L510.7,45.1L511.4,45.0L512.1,45.0L512.8,44.9L513.5,44.8L514.2,44.8L514.9,44.7L515.6,44.7L516.3,44.6L517.0,44.6L517.7,44.5L518.4,44.5L519.1,44.4L519.8,44.4L520.5,44.3L521.2,44.3L521.9,44.2L522.6,44.2L523.3,44.1L524.0,44.1L524.7,44.0L525.4,44.0L526.1,44.0L526.8,43.9L527.5,43.9L528.2,43.8L528.9,43.8L529.6,43.7L530.3,43.7L531.0,43.7L531.7,43.6L532.4,43.6L533.1,43.5L533.8,43.5L534.5,43.5L535.2,43.4L535.9,43.4L536.6,43.4L537.3,43.3L538.0,43.3L538.7,43.3L539.4,43.3L540.1,43.2L540.8,43.2L541.5,43.2L542.2,43.2L542.9,43.1L543.6,43.1L544.3,43.1L545.0,43.1L545.7,43.1L546.4,43.2L547.1,43.2L547.7,43.2L548.4,43.3L549.1,43.4L549.8,43.5L550.5,43.6L551.2,43.7L551.9,43.8L552.6,44.0L553.3,44.2L553.9,44.4L554.6,44.6L555.3,44.8L555.9,45.1L556.5,45.4L557.2,45.7L557.8,46.0L558.4,46.3L559.0,46.6L559.6,47.0L560.2,47.4L560.8,47.8L561.3,48.2L561.9,48.6L562.4,49.1L563.0,49.5L563.5,50.0L564.0,50.5L564.5,51.0L565.0,51.5L565.5,52.0L565.9,52.5L566.4,53.0L566.9,53.5L567.3,54.1L567.7,54.6L568.2,55.2L568.6,55.8L569.0,56.3L569.4,56.9L569.8,57.5L570.2,58.0L570.6,58.6L571.0,59.2L571.4,59.8L571.7,60.4L572.1,61.0L572.5,61.6L572.8,62.2L573.2,62.8L573.5,63.4L573.9,64.0L574.2,64.6L574.5,65.2L574.9,65.9L575.2,66.5L575.5,67.1L575.8,67.7L576.1,68.3L576.5,69.0L576.8,69.6L577.1,70.2L577.4,70.9L577.7,71.5L577.9,72.1L578.2,72.8L578.5,73.4L578.8,74.1L579.1,74.7L579.4,75.3L579.6,76.0L579.9,76.6L580.2,77.3L580.4,77.9L580.7,78.6L581.0,79.2L581.2,79.9L581.5,80.5L581.7,81.2L582.0,81.8L582.2,82.5L582.5,83.1L582.8,83.8L583.0,84.4L583.2,85.1L583.5,85.8L583.7,86.4L584.0,87.1L584.2,87.7L584.5,88.4L584.7,89.0L585.0,89.7L585.2,90.4L585.4,91.0L585.7,91.7L585.9,92.3L586.2,93.0L586.4,93.6L586.6,94.3L586.9,95.0L587.1,95.6L587.3,96.3L587.6,96.9L587.8,97.6L588.0,98.3L588.3,98.9L588.5,99.6L588.7,100.2L589.0,100.9L589.2,101.6L589.4,102.2L589.7,102.9L589.9,103.5L590.1,104.2L590.4,104.9L590.6,105.5L590.8,106.2L591.1,106.9L591.3,107.5L591.5,108.2L591.8,108.8L592.0,109.5L592.2,110.2L592.5,110.8L592.7,111.5L592.9,112.1L593.2,112.8L593.4,113.5L593.6,114.1L593.9,114.8L594.1,115.4L594.4,116.1L594.6,116.7L594.8,117.4L595.1,118.1L595.3,118.7L595.6,119.4L595.8,120.0L596.0,120.7L596.3,121.4L596.5,122.0L596.8,122.7L597.0,123.3L597.3,124.0L597.5,124.6L597.8,125.3L598.0,125.9L598.3,126.6L598.5,127.2L598.8,127.9L599.0,128.5L599.3,129.2L599.6,129.8L599.8,130.5L600.1,131.1L600.4,131.8L600.6,132.4L600.9,133.1L601.2,133.7L601.4,134.4L601.7,135.0L602.0,135.7L602.3,136.3L602.6,136.9L602.9,137.6L603.2,138.2L603.5,138.8L603.8,139.5L604.1,140.1L604.4,140.7L604.7,141.4L605.0,142.0L605.3,142.6L605.7,143.2L606.0,143.8L606.4,144.4L606.7,145.0L607.1,145.6L607.4,146.2L607.8,146.8L608.2,147.4L608.6,148.0L609.0,148.6L609.4,149.1L609.9,149.7L610.3,150.2L610.8,150.7L611.3,151.2L611.8,151.7L612.3,152.2L612.8,152.6L613.4,153.0L614.0,153.4L614.6,153.7L615.2,154.1L615.8,154.4L616.5,154.6L617.1,154.8L617.8,155.0L618.5,155.2L619.2,155.3L619.9,155.4L620.6,155.4L621.3,155.5L622.0,155.5L622.7,155.5L623.4,155.5L624.1,155.4L624.8,155.4L625.5,155.4L626.2,155.3L626.9,155.3L627.5,155.2L628.2,155.2L628.9,155.1L629.6,155.0L630.3,155.0L631.0,154.9L631.7,154.9L632.4,154.8L633.1,154.8L633.8,154.7L634.5,154.6L635.2,154.6L635.9,154.5L636.6,154.5L637.3,154.4L638.0,154.3L638.7,154.3L639.4,154.2L640.1,154.2L640.8,154.1L641.5,154.1L642.2,154.0L642.9,154.0L643.6,154.0L644.3,153.9L645.0,153.9L645.7,153.8L646.4,153.8L647.1,153.8L647.8,153.7L648.5,153.7L649.2,153.6L649.9,153.6L650.6,153.6L651.3,153.5L652.0,153.5" fill="none" stroke="#2f5fc4" stroke-width="1.45" stroke-linejoin="round" stroke-linecap="round" clip-path="url(#cc)"/>
<path d="M392.4,51.6L393.1,51.6L393.8,51.6L394.5,51.6L395.2,51.6L395.9,51.6L396.6,51.6L397.3,51.6L398.0,51.6L398.7,51.6L399.4,51.6L400.1,51.6L400.8,51.6L401.5,51.6L402.2,51.6L402.9,51.6L403.6,51.6L404.3,51.6L405.0,51.6L405.7,51.5L406.4,51.5L407.1,51.5L407.8,51.5L408.5,51.5L409.2,51.5L409.9,51.5L410.6,51.5L411.3,51.5L412.0,51.5L412.7,51.5L413.4,51.5L414.1,51.5L414.8,51.5L415.5,51.5L416.2,51.5L416.9,51.5L417.6,51.5L418.3,51.5L419.0,51.5L419.7,51.5L420.4,51.5L421.1,51.5L421.9,51.5L422.6,51.5L423.3,51.5L424.0,51.5L424.7,51.5L425.4,51.5L426.1,51.5L426.8,51.5L427.5,51.5L428.2,51.5L428.9,51.5L429.6,51.5L430.3,51.5L431.0,51.4L431.7,51.4L432.4,51.4L433.1,51.4L433.8,51.4L434.5,51.4L435.2,51.4L435.9,51.4L436.6,51.4L437.3,51.4L438.0,51.4L438.7,51.4L439.4,51.4L440.1,51.4L440.8,51.4L441.5,51.4L442.1,51.4L442.7,51.4L443.1,51.4L443.4,51.4L443.6,51.3L443.8,51.3L444.0,51.3L444.4,51.3L444.9,51.3L445.5,51.2L446.2,51.2L446.9,51.2L447.6,51.2L448.3,51.1L449.0,51.1L449.7,51.1L450.4,51.1L451.1,51.0L451.8,51.0L452.5,51.0L453.2,51.0L453.9,50.9L454.6,50.9L455.3,50.9L456.0,50.9L456.7,50.8L457.4,50.8L458.1,50.8L458.8,50.8L459.5,50.7L460.2,50.7L460.9,50.7L461.6,50.6L462.3,50.6L463.0,50.6L463.7,50.6L464.4,50.5L465.1,50.5L465.8,50.5L466.5,50.4L467.2,50.4L467.9,50.4L468.6,50.3L469.3,50.3L470.0,50.3L470.7,50.3L471.4,50.2L472.1,50.2L472.8,50.2L473.5,50.1L474.2,50.1L474.9,50.1L475.6,50.0L476.3,50.0L477.0,50.0L477.7,49.9L478.4,49.9L479.1,49.9L479.8,49.9L480.5,49.8L481.2,49.8L481.9,49.8L482.6,49.7L483.3,49.7L484.0,49.7L484.7,49.6L485.4,49.6L486.1,49.6L486.8,49.5L487.5,49.5L488.2,49.5L488.9,49.5L489.6,49.4L490.3,49.4L491.0,49.4L491.7,49.3L492.4,49.3L493.1,49.3L493.8,49.2L494.5,49.2L495.2,49.2L495.9,49.2L496.6,49.1L497.3,49.1L498.0,49.1L498.7,49.0L499.4,49.0L500.1,49.0L500.8,48.9L501.5,48.9L502.2,48.9L502.9,48.9L503.6,48.8L504.3,48.8L505.0,48.8L505.7,48.8L506.4,48.7L507.1,48.7L507.8,48.7L508.5,48.7L509.2,48.6L509.9,48.6L510.6,48.6L511.3,48.6L512.0,48.5L512.7,48.5L513.4,48.5L514.1,48.5L514.8,48.4L515.5,48.4L516.2,48.4L516.9,48.4L517.6,48.3L518.3,48.3L519.0,48.3L519.7,48.3L520.4,48.3L521.1,48.2L521.8,48.2L522.5,48.2L523.2,48.2L523.9,48.2L524.6,48.2L525.3,48.2L526.0,48.1L526.7,48.1L527.4,48.1L528.1,48.1L528.8,48.1L529.5,48.1L530.2,48.1L530.9,48.1L531.6,48.1L532.3,48.1L533.0,48.2L533.7,48.2L534.4,48.2L535.1,48.2L535.8,48.2L536.5,48.2L537.2,48.3L537.9,48.3L538.7,48.3L539.4,48.4L540.1,48.4L540.8,48.4L541.5,48.5L542.1,48.5L542.8,48.6L543.5,48.6L544.2,48.7L544.9,48.8L545.6,48.8L546.3,48.9L547.0,49.0L547.7,49.0L548.4,49.1L549.1,49.2L549.8,49.3L550.5,49.4L551.2,49.5L551.9,49.7L552.6,49.8L553.3,50.0L553.9,50.1L554.6,50.3L555.3,50.5L556.0,50.7L556.6,50.9L557.3,51.2L557.9,51.4L558.6,51.7L559.2,52.0L559.8,52.3L560.5,52.6L561.1,53.0L561.7,53.3L562.3,53.7L562.9,54.1L563.4,54.5L564.0,54.9L564.6,55.3L565.1,55.8L565.6,56.2L566.2,56.7L566.7,57.2L567.2,57.6L567.7,58.1L568.1,58.7L568.6,59.2L569.1,59.7L569.5,60.2L570.0,60.8L570.4,61.3L570.8,61.9L571.2,62.5L571.6,63.0L572.0,63.6L572.4,64.2L572.8,64.8L573.2,65.4L573.5,66.0L573.9,66.6L574.2,67.2L574.6,67.8L574.9,68.4L575.2,69.0L575.5,69.7L575.9,70.3L576.2,70.9L576.5,71.6L576.8,72.2L577.1,72.8L577.4,73.5L577.7,74.1L577.9,74.7L578.2,75.4L578.5,76.0L578.8,76.7L579.0,77.3L579.3,78.0L579.6,78.6L579.8,79.3L580.1,79.9L580.3,80.6L580.6,81.2L580.8,81.9L581.1,82.5L581.3,83.2L581.6,83.9L581.8,84.5L582.1,85.2L582.3,85.8L582.6,86.5L582.8,87.1L583.0,87.8L583.3,88.5L583.5,89.1L583.7,89.8L584.0,90.4L584.2,91.1L584.4,91.8L584.7,92.4L584.9,93.1L585.1,93.8L585.4,94.4L585.6,95.1L585.8,95.8L586.0,96.4L586.3,97.1L586.5,97.7L586.7,98.4L586.9,99.1L587.2,99.7L587.4,100.4L587.6,101.1L587.8,101.7L588.1,102.4L588.3,103.1L588.5,103.7L588.7,104.4L588.9,105.1L589.2,105.7L589.4,106.4L589.6,107.0L589.8,107.7L590.1,108.4L590.3,109.0L590.5,109.7L590.7,110.4L591.0,111.0L591.2,111.7L591.4,112.4L591.6,113.0L591.9,113.7L592.1,114.3L592.3,115.0L592.6,115.7L592.8,116.3L593.0,117.0L593.3,117.7L593.5,118.3L593.7,119.0L594.0,119.6L594.2,120.3L594.4,121.0L594.7,121.6L594.9,122.3L595.1,122.9L595.4,123.6L595.6,124.3L595.9,124.9L596.1,125.6L596.4,126.2L596.6,126.9L596.9,127.5L597.1,128.2L597.4,128.8L597.6,129.5L597.9,130.1L598.1,130.8L598.4,131.5L598.7,132.1L598.9,132.7L599.2,133.4L599.5,134.0L599.8,134.7L600.0,135.3L600.3,136.0L600.6,136.6L600.9,137.2L601.2,137.9L601.5,138.5L601.8,139.2L602.1,139.8L602.4,140.4L602.7,141.1L603.0,141.7L603.3,142.3L603.7,142.9L604.0,143.5L604.3,144.2L604.7,144.8L605.0,145.4L605.4,146.0L605.7,146.6L606.1,147.2L606.5,147.8L606.8,148.4L607.2,149.0L607.6,149.5L608.0,150.1L608.4,150.7L608.9,151.2L609.3,151.8L609.8,152.3L610.3,152.8L610.7,153.3L611.2,153.8L611.8,154.3L612.3,154.7L612.8,155.1L613.4,155.6L614.0,155.9L614.6,156.3L615.2,156.6L615.8,156.9L616.5,157.2L617.1,157.4L617.8,157.6L618.5,157.8L619.2,158.0L619.8,158.1L620.5,158.2L621.2,158.3L621.9,158.3L622.6,158.4L623.3,158.4L624.0,158.4L624.7,158.4L625.4,158.4L626.1,158.4L626.8,158.3L627.5,158.3L628.2,158.3L628.9,158.2L629.6,158.2L630.3,158.2L631.0,158.1L631.7,158.0L632.4,158.0L633.1,157.9L633.8,157.9L634.5,157.8L635.2,157.7L635.9,157.7L636.6,157.6L637.3,157.5L638.0,157.5L638.7,157.4L639.4,157.3L640.1,157.3L640.8,157.2L641.5,157.1L642.2,157.1L642.9,157.0L643.6,157.0L644.3,156.9L645.0,156.9L645.7,156.8L646.4,156.8L647.1,156.7L647.8,156.7L648.5,156.6L649.2,156.6L649.9,156.5L650.6,156.5L651.3,156.4L652.0,156.4" fill="none" stroke="#7a35b5" stroke-width="1.45" stroke-linejoin="round" stroke-linecap="round" clip-path="url(#cc)"/>
<path d="M392.4,51.6L393.1,51.6L393.8,51.6L394.5,51.6L395.2,51.6L395.9,51.6L396.6,51.6L397.3,51.6L398.0,51.6L398.7,51.6L399.4,51.6L400.1,51.6L400.8,51.6L401.5,51.6L402.2,51.6L402.9,51.6L403.6,51.6L404.3,51.6L405.0,51.6L405.7,51.6L406.4,51.6L407.1,51.6L407.8,51.6L408.5,51.6L409.2,51.6L409.9,51.6L410.6,51.6L411.3,51.6L412.0,51.6L412.7,51.6L413.4,51.6L414.1,51.6L414.8,51.6L415.5,51.6L416.2,51.6L416.9,51.6L417.6,51.6L418.3,51.6L419.0,51.6L419.7,51.6L420.4,51.6L421.1,51.6L421.8,51.6L422.5,51.6L423.3,51.6L424.0,51.6L424.7,51.6L425.4,51.6L426.1,51.6L426.8,51.6L427.5,51.6L428.2,51.6L428.9,51.5L429.6,51.5L430.3,51.5L431.0,51.5L431.7,51.5L432.4,51.5L433.1,51.5L433.8,51.5L434.5,51.5L435.2,51.5L435.9,51.5L436.6,51.5L437.3,51.5L438.0,51.5L438.7,51.5L439.4,51.5L440.1,51.5L440.8,51.5L441.5,51.5L442.2,51.5L442.9,51.5L443.6,51.5L444.3,51.5L445.0,51.5L445.7,51.5L446.4,51.5L447.1,51.5L447.8,51.5L448.5,51.5L449.2,51.5L449.9,51.5L450.6,51.5L451.3,51.5L452.0,51.5L452.7,51.5L453.4,51.5L454.1,51.5L454.8,51.5L455.5,51.5L456.2,51.5L456.9,51.5L457.6,51.5L458.3,51.5L459.0,51.5L459.7,51.5L460.4,51.5L461.1,51.5L461.8,51.5L462.5,51.5L463.2,51.5L463.9,51.5L464.6,51.5L465.3,51.5L466.0,51.5L466.7,51.5L467.4,51.5L468.1,51.5L468.8,51.5L469.5,51.5L470.2,51.5L470.9,51.5L471.6,51.5L472.3,51.5L473.0,51.5L473.7,51.5L474.3,51.5L474.9,51.5L475.2,51.5L475.4,51.5L475.3,51.5L475.0,51.5L474.6,51.5L474.3,51.5L474.2,51.5L474.3,51.5L474.6,51.5L475.2,51.5L475.8,51.5L476.5,51.5L477.1,51.5L477.8,51.6L478.5,51.6L479.3,51.6L480.0,51.6L480.7,51.6L481.4,51.6L482.1,51.6L482.8,51.6L483.5,51.6L484.2,51.6L484.9,51.6L485.6,51.6L486.3,51.6L487.0,51.6L487.7,51.6L488.4,51.6L489.1,51.7L489.8,51.7L490.5,51.7L491.2,51.7L491.9,51.7L492.6,51.7L493.3,51.7L494.0,51.7L494.7,51.7L495.4,51.7L496.1,51.7L496.8,51.7L497.5,51.7L498.2,51.8L498.9,51.8L499.6,51.8L500.3,51.8L501.0,51.8L501.7,51.8L502.4,51.8L503.1,51.8L503.8,51.8L504.5,51.8L505.2,51.8L505.9,51.9L506.6,51.9L507.3,51.9L508.0,51.9L508.7,51.9L509.4,51.9L510.1,51.9L510.8,51.9L511.5,51.9L512.2,51.9L512.9,52.0L513.6,52.0L514.3,52.0L515.0,52.0L515.7,52.0L516.4,52.0L517.1,52.0L517.8,52.0L518.5,52.0L519.2,52.1L519.9,52.1L520.6,52.1L521.3,52.1L522.0,52.1L522.7,52.1L523.4,52.1L524.1,52.1L524.8,52.2L525.5,52.2L526.2,52.2L526.9,52.2L527.6,52.2L528.3,52.2L529.0,52.2L529.7,52.2L530.4,52.3L531.1,52.3L531.8,52.3L532.5,52.3L533.2,52.3L533.9,52.3L534.6,52.4L535.3,52.4L536.0,52.4L536.7,52.5L537.4,52.5L538.1,52.5L538.8,52.6L539.5,52.6L540.2,52.7L540.9,52.8L541.6,52.8L542.3,52.9L543.0,53.0L543.7,53.1L544.4,53.2L545.1,53.3L545.8,53.5L546.5,53.6L547.2,53.7L547.8,53.9L548.5,54.1L549.2,54.2L549.9,54.4L550.5,54.6L551.2,54.8L551.9,55.1L552.5,55.3L553.2,55.5L553.9,55.8L554.5,56.1L555.1,56.3L555.8,56.6L556.4,56.9L557.0,57.3L557.7,57.6L558.3,57.9L558.9,58.3L559.4,58.7L560.0,59.1L560.6,59.5L561.2,59.9L561.7,60.3L562.2,60.8L562.8,61.2L563.3,61.7L563.8,62.2L564.3,62.7L564.8,63.2L565.2,63.7L565.7,64.2L566.2,64.8L566.6,65.3L567.0,65.9L567.4,66.4L567.8,67.0L568.3,67.6L568.6,68.2L569.0,68.7L569.4,69.3L569.8,69.9L570.1,70.5L570.5,71.1L570.9,71.7L571.2,72.3L571.5,73.0L571.9,73.6L572.2,74.2L572.5,74.8L572.9,75.4L573.2,76.1L573.5,76.7L573.8,77.3L574.1,77.9L574.4,78.6L574.7,79.2L575.0,79.8L575.3,80.5L575.6,81.1L575.9,81.7L576.2,82.4L576.5,83.0L576.8,83.6L577.1,84.3L577.4,84.9L577.7,85.6L577.9,86.2L578.2,86.9L578.5,87.5L578.8,88.1L579.1,88.8L579.3,89.4L579.6,90.1L579.9,90.7L580.1,91.4L580.4,92.0L580.7,92.7L580.9,93.3L581.2,94.0L581.5,94.6L581.7,95.3L582.0,95.9L582.3,96.6L582.5,97.2L582.8,97.9L583.0,98.5L583.3,99.2L583.6,99.8L583.8,100.5L584.1,101.1L584.3,101.8L584.6,102.4L584.9,103.1L585.1,103.7L585.4,104.4L585.6,105.0L585.9,105.7L586.1,106.3L586.4,107.0L586.7,107.6L586.9,108.3L587.2,108.9L587.4,109.6L587.7,110.3L587.9,110.9L588.2,111.6L588.4,112.2L588.7,112.9L589.0,113.5L589.2,114.2L589.5,114.8L589.7,115.5L590.0,116.1L590.2,116.8L590.5,117.4L590.8,118.1L591.0,118.7L591.3,119.4L591.5,120.0L591.8,120.7L592.1,121.3L592.3,122.0L592.6,122.6L592.9,123.3L593.1,123.9L593.4,124.6L593.7,125.2L593.9,125.9L594.2,126.5L594.5,127.2L594.7,127.8L595.0,128.5L595.3,129.1L595.6,129.8L595.8,130.4L596.1,131.0L596.4,131.7L596.7,132.3L597.0,133.0L597.2,133.6L597.5,134.3L597.8,134.9L598.1,135.5L598.4,136.2L598.7,136.8L599.0,137.4L599.3,138.1L599.6,138.7L599.9,139.3L600.2,140.0L600.5,140.6L600.8,141.2L601.1,141.9L601.4,142.5L601.8,143.1L602.1,143.7L602.4,144.3L602.8,145.0L603.1,145.6L603.4,146.2L603.8,146.8L604.1,147.4L604.5,148.0L604.9,148.6L605.2,149.2L605.6,149.8L606.0,150.4L606.4,150.9L606.8,151.5L607.2,152.1L607.6,152.6L608.1,153.2L608.5,153.7L609.0,154.3L609.5,154.8L609.9,155.3L610.4,155.8L611.0,156.2L611.5,156.7L612.1,157.1L612.6,157.5L613.2,157.9L613.8,158.2L614.4,158.5L615.1,158.8L615.7,159.1L616.4,159.3L617.1,159.5L617.7,159.7L618.4,159.8L619.1,159.9L619.8,160.0L620.5,160.1L621.2,160.1L621.9,160.1L622.6,160.1L623.3,160.1L624.0,160.1L624.7,160.1L625.4,160.1L626.1,160.0L626.8,160.0L627.5,160.0L628.2,159.9L628.9,159.9L629.6,159.8L630.3,159.8L631.0,159.8L631.7,159.7L632.4,159.7L633.1,159.6L633.8,159.6L634.5,159.5L635.2,159.5L635.9,159.5L636.6,159.4L637.3,159.4L638.0,159.3L638.7,159.3L639.4,159.3L640.1,159.2L640.8,159.2L641.5,159.1L642.2,159.1L642.9,159.1L643.6,159.0L644.3,159.0L645.0,159.0L645.7,158.9L646.4,158.9L647.1,158.9L647.8,158.8L648.5,158.8L649.2,158.7L649.9,158.7L650.6,158.7L651.3,158.6L652.0,158.6" fill="none" stroke="#e81e28" stroke-width="1.5" stroke-linejoin="round" stroke-linecap="round" clip-path="url(#cc)"/>
<path d="M392.4,51.7L393.1,51.7L393.8,51.7L394.5,51.7L395.2,51.7L395.9,51.7L396.6,51.7L397.3,51.7L398.0,51.7L398.7,51.7L399.4,51.7L400.1,51.7L400.8,51.7L401.5,51.7L402.2,51.7L402.9,51.7L403.6,51.7L404.3,51.7L405.0,51.7L405.7,51.7L406.4,51.7L407.1,51.7L407.8,51.7L408.5,51.7L409.2,51.7L409.9,51.7L410.6,51.7L411.3,51.7L412.0,51.7L412.7,51.7L413.4,51.7L414.1,51.7L414.8,51.7L415.5,51.7L416.2,51.7L416.9,51.7L417.6,51.7L418.3,51.7L419.0,51.7L419.7,51.7L420.4,51.7L421.1,51.7L421.8,51.7L422.5,51.7L423.2,51.7L423.9,51.7L424.6,51.7L425.3,51.7L426.0,51.7L426.7,51.7L427.4,51.7L428.1,51.7L428.8,51.7L429.5,51.7L430.2,51.7L430.9,51.7L431.6,51.7L432.3,51.7L433.0,51.7L433.7,51.7L434.4,51.7L435.1,51.7L435.8,51.7L436.5,51.6L437.2,51.6L437.9,51.6L438.6,51.6L439.3,51.6L440.0,51.6L440.7,51.6L441.4,51.6L442.1,51.6L442.8,51.6L443.5,51.6L444.2,51.6L444.9,51.6L445.6,51.6L446.4,51.6L447.1,51.6L447.8,51.6L448.5,51.6L449.2,51.6L449.9,51.6L450.6,51.6L451.3,51.6L452.0,51.6L452.7,51.6L453.4,51.6L454.1,51.6L454.8,51.6L455.5,51.6L456.2,51.6L456.9,51.6L457.6,51.6L458.3,51.6L459.0,51.6L459.7,51.6L460.4,51.6L461.1,51.6L461.8,51.6L462.5,51.6L463.2,51.6L463.9,51.6L464.6,51.6L465.3,51.6L466.0,51.6L466.7,51.6L467.4,51.6L468.1,51.6L468.8,51.6L469.5,51.6L470.2,51.6L470.9,51.6L471.6,51.6L472.3,51.6L473.0,51.6L473.6,51.6L474.3,51.6L474.8,51.6L475.2,51.6L475.4,51.6L475.3,51.6L475.0,51.6L474.6,51.6L474.3,51.6L474.2,51.5L474.3,51.5L474.6,51.5L475.1,51.5L475.7,51.5L476.4,51.5L477.1,51.5L477.8,51.5L478.5,51.5L479.2,51.5L479.9,51.4L480.6,51.4L481.3,51.4L482.0,51.4L482.7,51.4L483.4,51.4L484.1,51.4L484.8,51.4L485.5,51.4L486.2,51.4L486.9,51.4L487.6,51.4L488.3,51.4L489.0,51.4L489.7,51.4L490.4,51.4L491.1,51.4L491.8,51.3L492.5,51.3L493.2,51.3L493.9,51.3L494.6,51.3L495.3,51.3L496.0,51.3L496.7,51.4L497.4,51.4L498.1,51.4L498.8,51.4L499.5,51.4L500.2,51.4L500.9,51.4L501.6,51.4L502.3,51.4L503.0,51.4L503.7,51.4L504.4,51.4L505.1,51.4L505.8,51.4L506.5,51.5L507.2,51.5L507.9,51.5L508.6,51.5L509.3,51.5L510.0,51.5L510.7,51.5L511.4,51.6L512.1,51.6L512.8,51.6L513.5,51.6L514.2,51.6L514.9,51.7L515.6,51.7L516.3,51.7L517.0,51.7L517.7,51.8L518.4,51.8L519.1,51.8L519.8,51.8L520.5,51.9L521.2,51.9L521.9,51.9L522.6,52.0L523.3,52.0L524.0,52.0L524.7,52.1L525.4,52.1L526.1,52.1L526.8,52.2L527.5,52.2L528.2,52.3L528.9,52.3L529.6,52.3L530.3,52.4L531.0,52.4L531.7,52.5L532.4,52.5L533.1,52.6L533.8,52.6L534.5,52.7L535.2,52.8L535.9,52.8L536.6,52.9L537.3,53.0L538.0,53.0L538.7,53.1L539.4,53.2L540.1,53.3L540.8,53.4L541.5,53.5L542.2,53.6L542.8,53.7L543.5,53.8L544.2,53.9L544.9,54.0L545.6,54.2L546.3,54.3L547.0,54.4L547.7,54.6L548.3,54.8L549.0,54.9L549.7,55.1L550.4,55.3L551.1,55.5L551.7,55.7L552.4,55.9L553.1,56.1L553.7,56.3L554.4,56.5L555.1,56.8L555.7,57.0L556.4,57.3L557.0,57.6L557.6,57.9L558.3,58.2L558.9,58.5L559.5,58.8L560.1,59.2L560.6,59.6L561.2,60.0L561.8,60.5L562.3,60.9L562.8,61.4L563.3,61.9L563.8,62.4L564.2,62.9L564.7,63.4L565.1,64.0L565.6,64.5L566.0,65.1L566.4,65.7L566.8,66.3L567.1,66.9L567.5,67.5L567.8,68.1L568.2,68.7L568.5,69.3L568.9,69.9L569.2,70.5L569.5,71.1L569.8,71.8L570.2,72.4L570.5,73.0L570.8,73.6L571.1,74.3L571.4,74.9L571.7,75.5L572.0,76.2L572.3,76.8L572.6,77.4L572.9,78.1L573.1,78.7L573.4,79.4L573.7,80.0L574.0,80.6L574.3,81.3L574.6,81.9L574.9,82.6L575.2,83.2L575.4,83.8L575.7,84.5L576.0,85.1L576.3,85.8L576.6,86.4L576.9,87.0L577.1,87.7L577.4,88.3L577.7,89.0L578.0,89.6L578.2,90.3L578.5,90.9L578.8,91.6L579.0,92.2L579.3,92.9L579.6,93.5L579.8,94.2L580.1,94.8L580.4,95.5L580.6,96.1L580.9,96.8L581.1,97.4L581.4,98.1L581.6,98.7L581.9,99.4L582.1,100.0L582.4,100.7L582.7,101.3L582.9,102.0L583.2,102.6L583.4,103.3L583.7,103.9L583.9,104.6L584.2,105.2L584.4,105.9L584.7,106.6L584.9,107.2L585.1,107.9L585.4,108.5L585.6,109.2L585.9,109.8L586.1,110.5L586.4,111.1L586.6,111.8L586.9,112.5L587.1,113.1L587.4,113.8L587.6,114.4L587.9,115.1L588.1,115.7L588.4,116.4L588.6,117.0L588.9,117.7L589.1,118.3L589.4,119.0L589.6,119.7L589.9,120.3L590.1,121.0L590.4,121.6L590.7,122.3L590.9,122.9L591.2,123.6L591.4,124.2L591.7,124.9L591.9,125.5L592.2,126.2L592.5,126.8L592.7,127.5L593.0,128.1L593.3,128.8L593.5,129.4L593.8,130.1L594.1,130.7L594.4,131.4L594.6,132.0L594.9,132.6L595.2,133.3L595.5,133.9L595.8,134.6L596.0,135.2L596.3,135.8L596.6,136.5L596.9,137.1L597.2,137.7L597.5,138.4L597.8,139.0L598.1,139.6L598.5,140.3L598.8,140.9L599.1,141.5L599.4,142.1L599.7,142.7L600.1,143.4L600.4,144.0L600.8,144.6L601.1,145.2L601.5,145.8L601.8,146.4L602.2,147.0L602.6,147.6L602.9,148.2L603.3,148.8L603.7,149.4L604.1,149.9L604.5,150.5L604.9,151.1L605.3,151.6L605.8,152.2L606.2,152.7L606.7,153.3L607.1,153.8L607.6,154.3L608.1,154.8L608.6,155.3L609.1,155.8L609.6,156.2L610.2,156.6L610.7,157.1L611.3,157.5L611.9,157.8L612.5,158.2L613.1,158.5L613.8,158.8L614.4,159.1L615.0,159.3L615.7,159.6L616.4,159.8L617.1,159.9L617.7,160.1L618.4,160.2L619.1,160.3L619.8,160.4L620.5,160.4L621.2,160.5L621.9,160.5L622.6,160.5L623.3,160.5L624.0,160.5L624.7,160.5L625.4,160.5L626.1,160.5L626.8,160.5L627.5,160.5L628.2,160.5L628.9,160.4L629.6,160.4L630.3,160.4L631.0,160.4L631.7,160.3L632.4,160.3L633.1,160.3L633.8,160.3L634.5,160.2L635.2,160.2L635.9,160.2L636.6,160.1L637.3,160.1L638.0,160.1L638.7,160.0L639.4,160.0L640.1,160.0L640.8,159.9L641.5,159.9L642.2,159.8L642.9,159.8L643.6,159.7L644.3,159.7L645.0,159.6L645.7,159.6L646.4,159.6L647.1,159.5L647.8,159.5L648.5,159.4L649.2,159.4L649.9,159.3L650.6,159.3L651.3,159.2L652.0,159.2" fill="none" stroke="#151515" stroke-width="1.5" stroke-linejoin="round" stroke-linecap="round" clip-path="url(#cc)"/>
<text x="431" y="109.4" font-size="13" textLength="53" lengthAdjust="spacingAndGlyphs"><tspan font-style="italic">&#948;</tspan> = 50 nm</text>
<line x1="494.4" y1="105.6" x2="511.8" y2="105.6" stroke="#2f5fc4" stroke-width="1.7"/>
<text x="431" y="123.2" font-size="13" textLength="53" lengthAdjust="spacingAndGlyphs"><tspan font-style="italic">&#948;</tspan> = 60 nm</text>
<line x1="494.4" y1="119.4" x2="511.8" y2="119.4" stroke="#7a35b5" stroke-width="1.7"/>
<text x="424.2" y="137" font-size="13" textLength="59.8" lengthAdjust="spacingAndGlyphs"><tspan font-style="italic">&#948;</tspan> = 100 nm</text>
<line x1="494.4" y1="133.2" x2="511.8" y2="133.2" stroke="#e81e28" stroke-width="1.7"/>
<text x="444" y="150.8" font-size="13" textLength="40" lengthAdjust="spacingAndGlyphs">opaque</text>
<line x1="494.4" y1="147" x2="511.8" y2="147" stroke="#151515" stroke-width="1.7"/>
<line x1="392.4" y1="371.3" x2="392.4" y2="366.8" stroke="#5c5c5c" stroke-width="0.95"/>
<line x1="392.4" y1="205.5" x2="392.4" y2="210" stroke="#5c5c5c" stroke-width="0.95"/>
<line x1="411.94" y1="371.3" x2="411.94" y2="369.1" stroke="#5c5c5c" stroke-width="0.95"/>
<line x1="411.94" y1="205.5" x2="411.94" y2="207.7" stroke="#5c5c5c" stroke-width="0.95"/>
<line x1="423.37" y1="371.3" x2="423.37" y2="369.1" stroke="#5c5c5c" stroke-width="0.95"/>
<line x1="423.37" y1="205.5" x2="423.37" y2="207.7" stroke="#5c5c5c" stroke-width="0.95"/>
<line x1="431.47" y1="371.3" x2="431.47" y2="369.1" stroke="#5c5c5c" stroke-width="0.95"/>
<line x1="431.47" y1="205.5" x2="431.47" y2="207.7" stroke="#5c5c5c" stroke-width="0.95"/>
<line x1="437.76" y1="371.3" x2="437.76" y2="369.1" stroke="#5c5c5c" stroke-width="0.95"/>
<line x1="437.76" y1="205.5" x2="437.76" y2="207.7" stroke="#5c5c5c" stroke-width="0.95"/>
<line x1="442.9" y1="371.3" x2="442.9" y2="369.1" stroke="#5c5c5c" stroke-width="0.95"/>
<line x1="442.9" y1="205.5" x2="442.9" y2="207.7" stroke="#5c5c5c" stroke-width="0.95"/>
<line x1="447.25" y1="371.3" x2="447.25" y2="369.1" stroke="#5c5c5c" stroke-width="0.95"/>
<line x1="447.25" y1="205.5" x2="447.25" y2="207.7" stroke="#5c5c5c" stroke-width="0.95"/>
<line x1="451.01" y1="371.3" x2="451.01" y2="369.1" stroke="#5c5c5c" stroke-width="0.95"/>
<line x1="451.01" y1="205.5" x2="451.01" y2="207.7" stroke="#5c5c5c" stroke-width="0.95"/>
<line x1="454.33" y1="371.3" x2="454.33" y2="369.1" stroke="#5c5c5c" stroke-width="0.95"/>
<line x1="454.33" y1="205.5" x2="454.33" y2="207.7" stroke="#5c5c5c" stroke-width="0.95"/>
<line x1="457.3" y1="371.3" x2="457.3" y2="366.8" stroke="#5c5c5c" stroke-width="0.95"/>
<line x1="457.3" y1="205.5" x2="457.3" y2="210" stroke="#5c5c5c" stroke-width="0.95"/>
<line x1="476.84" y1="371.3" x2="476.84" y2="369.1" stroke="#5c5c5c" stroke-width="0.95"/>
<line x1="476.84" y1="205.5" x2="476.84" y2="207.7" stroke="#5c5c5c" stroke-width="0.95"/>
<line x1="488.27" y1="371.3" x2="488.27" y2="369.1" stroke="#5c5c5c" stroke-width="0.95"/>
<line x1="488.27" y1="205.5" x2="488.27" y2="207.7" stroke="#5c5c5c" stroke-width="0.95"/>
<line x1="496.37" y1="371.3" x2="496.37" y2="369.1" stroke="#5c5c5c" stroke-width="0.95"/>
<line x1="496.37" y1="205.5" x2="496.37" y2="207.7" stroke="#5c5c5c" stroke-width="0.95"/>
<line x1="502.66" y1="371.3" x2="502.66" y2="369.1" stroke="#5c5c5c" stroke-width="0.95"/>
<line x1="502.66" y1="205.5" x2="502.66" y2="207.7" stroke="#5c5c5c" stroke-width="0.95"/>
<line x1="507.8" y1="371.3" x2="507.8" y2="369.1" stroke="#5c5c5c" stroke-width="0.95"/>
<line x1="507.8" y1="205.5" x2="507.8" y2="207.7" stroke="#5c5c5c" stroke-width="0.95"/>
<line x1="512.15" y1="371.3" x2="512.15" y2="369.1" stroke="#5c5c5c" stroke-width="0.95"/>
<line x1="512.15" y1="205.5" x2="512.15" y2="207.7" stroke="#5c5c5c" stroke-width="0.95"/>
<line x1="515.91" y1="371.3" x2="515.91" y2="369.1" stroke="#5c5c5c" stroke-width="0.95"/>
<line x1="515.91" y1="205.5" x2="515.91" y2="207.7" stroke="#5c5c5c" stroke-width="0.95"/>
<line x1="519.23" y1="371.3" x2="519.23" y2="369.1" stroke="#5c5c5c" stroke-width="0.95"/>
<line x1="519.23" y1="205.5" x2="519.23" y2="207.7" stroke="#5c5c5c" stroke-width="0.95"/>
<line x1="522.2" y1="371.3" x2="522.2" y2="366.8" stroke="#5c5c5c" stroke-width="0.95"/>
<line x1="522.2" y1="205.5" x2="522.2" y2="210" stroke="#5c5c5c" stroke-width="0.95"/>
<line x1="541.74" y1="371.3" x2="541.74" y2="369.1" stroke="#5c5c5c" stroke-width="0.95"/>
<line x1="541.74" y1="205.5" x2="541.74" y2="207.7" stroke="#5c5c5c" stroke-width="0.95"/>
<line x1="553.17" y1="371.3" x2="553.17" y2="369.1" stroke="#5c5c5c" stroke-width="0.95"/>
<line x1="553.17" y1="205.5" x2="553.17" y2="207.7" stroke="#5c5c5c" stroke-width="0.95"/>
<line x1="561.27" y1="371.3" x2="561.27" y2="369.1" stroke="#5c5c5c" stroke-width="0.95"/>
<line x1="561.27" y1="205.5" x2="561.27" y2="207.7" stroke="#5c5c5c" stroke-width="0.95"/>
<line x1="567.56" y1="371.3" x2="567.56" y2="369.1" stroke="#5c5c5c" stroke-width="0.95"/>
<line x1="567.56" y1="205.5" x2="567.56" y2="207.7" stroke="#5c5c5c" stroke-width="0.95"/>
<line x1="572.7" y1="371.3" x2="572.7" y2="369.1" stroke="#5c5c5c" stroke-width="0.95"/>
<line x1="572.7" y1="205.5" x2="572.7" y2="207.7" stroke="#5c5c5c" stroke-width="0.95"/>
<line x1="577.05" y1="371.3" x2="577.05" y2="369.1" stroke="#5c5c5c" stroke-width="0.95"/>
<line x1="577.05" y1="205.5" x2="577.05" y2="207.7" stroke="#5c5c5c" stroke-width="0.95"/>
<line x1="580.81" y1="371.3" x2="580.81" y2="369.1" stroke="#5c5c5c" stroke-width="0.95"/>
<line x1="580.81" y1="205.5" x2="580.81" y2="207.7" stroke="#5c5c5c" stroke-width="0.95"/>
<line x1="584.13" y1="371.3" x2="584.13" y2="369.1" stroke="#5c5c5c" stroke-width="0.95"/>
<line x1="584.13" y1="205.5" x2="584.13" y2="207.7" stroke="#5c5c5c" stroke-width="0.95"/>
<line x1="587.1" y1="371.3" x2="587.1" y2="366.8" stroke="#5c5c5c" stroke-width="0.95"/>
<line x1="587.1" y1="205.5" x2="587.1" y2="210" stroke="#5c5c5c" stroke-width="0.95"/>
<line x1="606.64" y1="371.3" x2="606.64" y2="369.1" stroke="#5c5c5c" stroke-width="0.95"/>
<line x1="606.64" y1="205.5" x2="606.64" y2="207.7" stroke="#5c5c5c" stroke-width="0.95"/>
<line x1="618.07" y1="371.3" x2="618.07" y2="369.1" stroke="#5c5c5c" stroke-width="0.95"/>
<line x1="618.07" y1="205.5" x2="618.07" y2="207.7" stroke="#5c5c5c" stroke-width="0.95"/>
<line x1="626.17" y1="371.3" x2="626.17" y2="369.1" stroke="#5c5c5c" stroke-width="0.95"/>
<line x1="626.17" y1="205.5" x2="626.17" y2="207.7" stroke="#5c5c5c" stroke-width="0.95"/>
<line x1="632.46" y1="371.3" x2="632.46" y2="369.1" stroke="#5c5c5c" stroke-width="0.95"/>
<line x1="632.46" y1="205.5" x2="632.46" y2="207.7" stroke="#5c5c5c" stroke-width="0.95"/>
<line x1="637.6" y1="371.3" x2="637.6" y2="369.1" stroke="#5c5c5c" stroke-width="0.95"/>
<line x1="637.6" y1="205.5" x2="637.6" y2="207.7" stroke="#5c5c5c" stroke-width="0.95"/>
<line x1="641.95" y1="371.3" x2="641.95" y2="369.1" stroke="#5c5c5c" stroke-width="0.95"/>
<line x1="641.95" y1="205.5" x2="641.95" y2="207.7" stroke="#5c5c5c" stroke-width="0.95"/>
<line x1="645.71" y1="371.3" x2="645.71" y2="369.1" stroke="#5c5c5c" stroke-width="0.95"/>
<line x1="645.71" y1="205.5" x2="645.71" y2="207.7" stroke="#5c5c5c" stroke-width="0.95"/>
<line x1="649.03" y1="371.3" x2="649.03" y2="369.1" stroke="#5c5c5c" stroke-width="0.95"/>
<line x1="649.03" y1="205.5" x2="649.03" y2="207.7" stroke="#5c5c5c" stroke-width="0.95"/>
<line x1="652" y1="371.3" x2="652" y2="366.8" stroke="#5c5c5c" stroke-width="0.95"/>
<line x1="652" y1="205.5" x2="652" y2="210" stroke="#5c5c5c" stroke-width="0.95"/>
<line x1="392.4" y1="359.46" x2="396.9" y2="359.46" stroke="#5c5c5c" stroke-width="0.95"/>
<line x1="652" y1="359.46" x2="647.5" y2="359.46" stroke="#5c5c5c" stroke-width="0.95"/>
<line x1="392.4" y1="312.09" x2="396.9" y2="312.09" stroke="#5c5c5c" stroke-width="0.95"/>
<line x1="652" y1="312.09" x2="647.5" y2="312.09" stroke="#5c5c5c" stroke-width="0.95"/>
<line x1="392.4" y1="264.71" x2="396.9" y2="264.71" stroke="#5c5c5c" stroke-width="0.95"/>
<line x1="652" y1="264.71" x2="647.5" y2="264.71" stroke="#5c5c5c" stroke-width="0.95"/>
<line x1="392.4" y1="217.34" x2="396.9" y2="217.34" stroke="#5c5c5c" stroke-width="0.95"/>
<line x1="652" y1="217.34" x2="647.5" y2="217.34" stroke="#5c5c5c" stroke-width="0.95"/>
<line x1="392.4" y1="368.93" x2="394.6" y2="368.93" stroke="#5c5c5c" stroke-width="0.95"/>
<line x1="652" y1="368.93" x2="649.8" y2="368.93" stroke="#5c5c5c" stroke-width="0.95"/>
<line x1="392.4" y1="364.19" x2="394.6" y2="364.19" stroke="#5c5c5c" stroke-width="0.95"/>
<line x1="652" y1="364.19" x2="649.8" y2="364.19" stroke="#5c5c5c" stroke-width="0.95"/>
<line x1="392.4" y1="354.72" x2="394.6" y2="354.72" stroke="#5c5c5c" stroke-width="0.95"/>
<line x1="652" y1="354.72" x2="649.8" y2="354.72" stroke="#5c5c5c" stroke-width="0.95"/>
<line x1="392.4" y1="349.98" x2="394.6" y2="349.98" stroke="#5c5c5c" stroke-width="0.95"/>
<line x1="652" y1="349.98" x2="649.8" y2="349.98" stroke="#5c5c5c" stroke-width="0.95"/>
<line x1="392.4" y1="345.25" x2="394.6" y2="345.25" stroke="#5c5c5c" stroke-width="0.95"/>
<line x1="652" y1="345.25" x2="649.8" y2="345.25" stroke="#5c5c5c" stroke-width="0.95"/>
<line x1="392.4" y1="340.51" x2="394.6" y2="340.51" stroke="#5c5c5c" stroke-width="0.95"/>
<line x1="652" y1="340.51" x2="649.8" y2="340.51" stroke="#5c5c5c" stroke-width="0.95"/>
<line x1="392.4" y1="335.77" x2="394.6" y2="335.77" stroke="#5c5c5c" stroke-width="0.95"/>
<line x1="652" y1="335.77" x2="649.8" y2="335.77" stroke="#5c5c5c" stroke-width="0.95"/>
<line x1="392.4" y1="331.03" x2="394.6" y2="331.03" stroke="#5c5c5c" stroke-width="0.95"/>
<line x1="652" y1="331.03" x2="649.8" y2="331.03" stroke="#5c5c5c" stroke-width="0.95"/>
<line x1="392.4" y1="326.3" x2="394.6" y2="326.3" stroke="#5c5c5c" stroke-width="0.95"/>
<line x1="652" y1="326.3" x2="649.8" y2="326.3" stroke="#5c5c5c" stroke-width="0.95"/>
<line x1="392.4" y1="321.56" x2="394.6" y2="321.56" stroke="#5c5c5c" stroke-width="0.95"/>
<line x1="652" y1="321.56" x2="649.8" y2="321.56" stroke="#5c5c5c" stroke-width="0.95"/>
<line x1="392.4" y1="316.82" x2="394.6" y2="316.82" stroke="#5c5c5c" stroke-width="0.95"/>
<line x1="652" y1="316.82" x2="649.8" y2="316.82" stroke="#5c5c5c" stroke-width="0.95"/>
<line x1="392.4" y1="307.35" x2="394.6" y2="307.35" stroke="#5c5c5c" stroke-width="0.95"/>
<line x1="652" y1="307.35" x2="649.8" y2="307.35" stroke="#5c5c5c" stroke-width="0.95"/>
<line x1="392.4" y1="302.61" x2="394.6" y2="302.61" stroke="#5c5c5c" stroke-width="0.95"/>
<line x1="652" y1="302.61" x2="649.8" y2="302.61" stroke="#5c5c5c" stroke-width="0.95"/>
<line x1="392.4" y1="297.87" x2="394.6" y2="297.87" stroke="#5c5c5c" stroke-width="0.95"/>
<line x1="652" y1="297.87" x2="649.8" y2="297.87" stroke="#5c5c5c" stroke-width="0.95"/>
<line x1="392.4" y1="293.14" x2="394.6" y2="293.14" stroke="#5c5c5c" stroke-width="0.95"/>
<line x1="652" y1="293.14" x2="649.8" y2="293.14" stroke="#5c5c5c" stroke-width="0.95"/>
<line x1="392.4" y1="288.4" x2="394.6" y2="288.4" stroke="#5c5c5c" stroke-width="0.95"/>
<line x1="652" y1="288.4" x2="649.8" y2="288.4" stroke="#5c5c5c" stroke-width="0.95"/>
<line x1="392.4" y1="283.66" x2="394.6" y2="283.66" stroke="#5c5c5c" stroke-width="0.95"/>
<line x1="652" y1="283.66" x2="649.8" y2="283.66" stroke="#5c5c5c" stroke-width="0.95"/>
<line x1="392.4" y1="278.93" x2="394.6" y2="278.93" stroke="#5c5c5c" stroke-width="0.95"/>
<line x1="652" y1="278.93" x2="649.8" y2="278.93" stroke="#5c5c5c" stroke-width="0.95"/>
<line x1="392.4" y1="274.19" x2="394.6" y2="274.19" stroke="#5c5c5c" stroke-width="0.95"/>
<line x1="652" y1="274.19" x2="649.8" y2="274.19" stroke="#5c5c5c" stroke-width="0.95"/>
<line x1="392.4" y1="269.45" x2="394.6" y2="269.45" stroke="#5c5c5c" stroke-width="0.95"/>
<line x1="652" y1="269.45" x2="649.8" y2="269.45" stroke="#5c5c5c" stroke-width="0.95"/>
<line x1="392.4" y1="259.98" x2="394.6" y2="259.98" stroke="#5c5c5c" stroke-width="0.95"/>
<line x1="652" y1="259.98" x2="649.8" y2="259.98" stroke="#5c5c5c" stroke-width="0.95"/>
<line x1="392.4" y1="255.24" x2="394.6" y2="255.24" stroke="#5c5c5c" stroke-width="0.95"/>
<line x1="652" y1="255.24" x2="649.8" y2="255.24" stroke="#5c5c5c" stroke-width="0.95"/>
<line x1="392.4" y1="250.5" x2="394.6" y2="250.5" stroke="#5c5c5c" stroke-width="0.95"/>
<line x1="652" y1="250.5" x2="649.8" y2="250.5" stroke="#5c5c5c" stroke-width="0.95"/>
<line x1="392.4" y1="245.77" x2="394.6" y2="245.77" stroke="#5c5c5c" stroke-width="0.95"/>
<line x1="652" y1="245.77" x2="649.8" y2="245.77" stroke="#5c5c5c" stroke-width="0.95"/>
<line x1="392.4" y1="241.03" x2="394.6" y2="241.03" stroke="#5c5c5c" stroke-width="0.95"/>
<line x1="652" y1="241.03" x2="649.8" y2="241.03" stroke="#5c5c5c" stroke-width="0.95"/>
<line x1="392.4" y1="236.29" x2="394.6" y2="236.29" stroke="#5c5c5c" stroke-width="0.95"/>
<line x1="652" y1="236.29" x2="649.8" y2="236.29" stroke="#5c5c5c" stroke-width="0.95"/>
<line x1="392.4" y1="231.55" x2="394.6" y2="231.55" stroke="#5c5c5c" stroke-width="0.95"/>
<line x1="652" y1="231.55" x2="649.8" y2="231.55" stroke="#5c5c5c" stroke-width="0.95"/>
<line x1="392.4" y1="226.82" x2="394.6" y2="226.82" stroke="#5c5c5c" stroke-width="0.95"/>
<line x1="652" y1="226.82" x2="649.8" y2="226.82" stroke="#5c5c5c" stroke-width="0.95"/>
<line x1="392.4" y1="222.08" x2="394.6" y2="222.08" stroke="#5c5c5c" stroke-width="0.95"/>
<line x1="652" y1="222.08" x2="649.8" y2="222.08" stroke="#5c5c5c" stroke-width="0.95"/>
<line x1="392.4" y1="212.61" x2="394.6" y2="212.61" stroke="#5c5c5c" stroke-width="0.95"/>
<line x1="652" y1="212.61" x2="649.8" y2="212.61" stroke="#5c5c5c" stroke-width="0.95"/>
<line x1="392.4" y1="207.87" x2="394.6" y2="207.87" stroke="#5c5c5c" stroke-width="0.95"/>
<line x1="652" y1="207.87" x2="649.8" y2="207.87" stroke="#5c5c5c" stroke-width="0.95"/>
<rect x="392.4" y="205.5" width="259.6" height="165.8" fill="none" stroke="#6e6e6e" stroke-width="1.1"/>
<text x="390" y="363.56" font-size="12" text-anchor="end">340</text>
<text x="390" y="316.19" font-size="12" text-anchor="end">360</text>
<text x="390" y="268.81" font-size="12" text-anchor="end">380</text>
<text x="390" y="221.44" font-size="12" text-anchor="end">400</text>
<text x="392.6" y="384" font-size="12" text-anchor="middle">1</text>
<text x="457.3" y="384" font-size="12" text-anchor="middle">10</text>
<text x="514" y="384" font-size="12" textLength="16" lengthAdjust="spacingAndGlyphs">10<tspan font-size="8.4" dy="-4.5">2</tspan></text>
<text x="578.9" y="384" font-size="12" textLength="16" lengthAdjust="spacingAndGlyphs">10<tspan font-size="8.4" dy="-4.5">3</tspan></text>
<text x="643.8" y="384" font-size="12" textLength="16" lengthAdjust="spacingAndGlyphs">10<tspan font-size="8.4" dy="-4.5">4</tspan></text>
<text x="614" y="235" font-size="16.5" textLength="18.4" lengthAdjust="spacingAndGlyphs">(d)</text>
<g transform="translate(359.2,313.6) rotate(-90)">
<text x="-0.6" y="0" font-size="16.5" font-style="italic" textLength="11.4" lengthAdjust="spacingAndGlyphs">T</text>
<text x="11.2" y="-5.6" font-size="12" textLength="7.6" lengthAdjust="spacingAndGlyphs">st</text>
<text x="9.6" y="1.4" font-size="11.5" textLength="5.6" lengthAdjust="spacingAndGlyphs">2</text>
<text x="28.4" y="0.3" font-size="18" textLength="21.2" lengthAdjust="spacingAndGlyphs">(K)</text>
</g>
<text x="499" y="400.6" font-size="15.5" textLength="44.8" lengthAdjust="spacingAndGlyphs"><tspan font-style="italic">d</tspan> (nm)</text>
<path d="M393.4,217.3L394.1,217.3L394.8,217.3L395.5,217.3L396.2,217.3L396.9,217.3L397.6,217.3L398.3,217.3L399.0,217.3L399.7,217.3L400.4,217.3L401.1,217.3L401.8,217.3L402.5,217.3L403.2,217.3L403.9,217.3L404.6,217.3L405.3,217.3L406.0,217.3L406.7,217.3L407.4,217.3L408.1,217.3L408.8,217.3L409.5,217.3L410.2,217.3L410.9,217.3L411.6,217.3L412.3,217.3L413.0,217.3L413.7,217.3L414.4,217.3L415.1,217.3L415.8,217.3L416.5,217.3L417.2,217.3L417.9,217.3L418.6,217.3L419.3,217.3L420.0,217.3L420.7,217.3L421.4,217.3L422.1,217.3L422.8,217.3L423.5,217.3L424.2,217.3L424.9,217.3L425.6,217.3L426.3,217.3L427.0,217.3L427.7,217.3L428.4,217.3L429.1,217.3L429.8,217.3L430.5,217.3L431.2,217.3L431.9,217.3L432.6,217.3L433.3,217.3L434.0,217.3L434.7,217.3L435.4,217.3L436.1,217.3L436.8,217.3L437.5,217.3L438.2,217.3L438.9,217.3L439.6,217.3L440.3,217.3L441.0,217.3L441.7,217.3L442.4,217.3L443.1,217.3L443.8,217.3L444.5,217.3L445.2,217.3L445.9,217.3L446.6,217.3L447.3,217.3L448.0,217.3L448.7,217.3L449.4,217.3L450.1,217.3L450.8,217.3L451.5,217.3L452.2,217.3L452.9,217.3L453.6,217.3L454.3,217.3L455.0,217.3L455.7,217.3L456.4,217.3L457.1,217.3L457.8,217.3L458.5,217.3L459.2,217.3L459.9,217.3L460.6,217.3L461.3,217.3L462.0,217.3L462.7,217.3L463.4,217.3L464.1,217.3L464.8,217.3L465.5,217.3L466.2,217.3L466.9,217.3L467.6,217.3L468.3,217.3L469.0,217.3L469.7,217.3L470.4,217.3L471.1,217.3L471.8,217.3L472.5,217.3L473.2,217.3L473.9,217.3L474.6,217.3L475.3,217.3L476.0,217.3L476.7,217.3L477.4,217.3L478.1,217.3L478.8,217.3L479.5,217.3L480.2,217.3L480.9,217.3L481.6,217.3L482.3,217.3L483.0,217.3L483.7,217.3L484.4,217.3L485.1,217.3L485.8,217.3L486.5,217.3L487.2,217.3L487.9,217.3L488.6,217.3L489.3,217.3L490.0,217.3L490.7,217.3L491.4,217.3L492.1,217.3L492.8,217.3L493.5,217.3L494.2,217.3L494.9,217.4L495.6,217.4L496.3,217.4L497.0,217.4L497.7,217.4L498.4,217.4L499.1,217.4L499.8,217.4L500.5,217.4L501.2,217.4L501.9,217.4L502.6,217.4L503.3,217.4L504.0,217.4L504.7,217.4L505.4,217.4L506.1,217.4L506.8,217.4L507.5,217.4L508.2,217.4L508.9,217.4L509.6,217.4L510.3,217.4L511.0,217.5L511.7,217.5L512.4,217.5L513.1,217.5L513.8,217.5L514.5,217.5L515.2,217.5L515.9,217.5L516.6,217.5L517.3,217.5L518.0,217.5L518.7,217.6L519.4,217.6L520.1,217.6L520.8,217.6L521.5,217.6L522.2,217.6L522.9,217.6L523.6,217.7L524.3,217.7L525.0,217.7L525.7,217.7L526.4,217.7L527.1,217.8L527.8,217.8L528.5,217.8L529.2,217.9L529.9,217.9L530.6,217.9L531.3,218.0L532.0,218.0L532.7,218.0L533.4,218.1L534.1,218.1L534.8,218.2L535.5,218.2L536.2,218.3L536.9,218.3L537.6,218.4L538.3,218.4L539.0,218.5L539.7,218.6L540.4,218.6L541.1,218.7L541.8,218.8L542.5,218.9L543.2,219.0L543.9,219.1L544.5,219.2L545.2,219.3L545.9,219.4L546.6,219.5L547.3,219.7L548.0,219.8L548.7,220.0L549.4,220.1L550.0,220.3L550.7,220.4L551.4,220.6L552.1,220.8L552.8,220.9L553.4,221.1L554.1,221.3L554.8,221.6L555.4,221.8L556.1,222.1L556.7,222.3L557.4,222.6L558.0,222.9L558.6,223.2L559.2,223.5L559.8,223.9L560.5,224.2L561.0,224.6L561.6,225.0L562.2,225.4L562.8,225.8L563.3,226.2L563.9,226.6L564.4,227.1L564.9,227.6L565.4,228.1L565.9,228.6L566.3,229.1L566.8,229.6L567.2,230.2L567.6,230.7L568.0,231.3L568.4,231.9L568.8,232.5L569.1,233.1L569.5,233.7L569.8,234.3L570.1,235.0L570.4,235.6L570.7,236.2L571.0,236.9L571.2,237.5L571.5,238.2L571.8,238.8L572.1,239.4L572.3,240.1L572.6,240.7L572.9,241.4L573.1,242.0L573.4,242.7L573.7,243.3L574.0,244.0L574.2,244.6L574.5,245.3L574.8,245.9L575.1,246.5L575.4,247.2L575.7,247.8L575.9,248.4L576.2,249.1L576.5,249.7L576.8,250.4L577.1,251.0L577.4,251.6L577.7,252.3L578.0,252.9L578.2,253.6L578.5,254.2L578.8,254.8L579.1,255.4L579.5,256.1L579.8,256.7L580.1,257.3L580.4,258.0L580.6,258.6L580.9,259.2L581.2,259.9L581.4,260.6L581.6,261.2L581.9,261.9L582.1,262.5L582.3,263.2L582.5,263.9L582.7,264.5L583.0,265.2L583.2,265.9L583.4,266.5L583.6,267.2L583.8,267.9L584.0,268.5L584.2,269.2L584.4,269.9L584.7,270.5L584.9,271.2L585.1,271.9L585.3,272.5L585.5,273.2L585.7,273.9L585.9,274.6L586.1,275.2L586.3,275.9L586.5,276.6L586.8,277.2L587.0,277.9L587.2,278.6L587.4,279.2L587.6,279.9L587.8,280.6L588.0,281.2L588.3,281.9L588.5,282.6L588.7,283.2L588.9,283.9L589.1,284.5L589.4,285.2L589.6,285.9L589.8,286.5L590.0,287.2L590.2,287.9L590.4,288.5L590.7,289.2L590.9,289.9L591.1,290.5L591.3,291.2L591.5,291.9L591.8,292.5L592.0,293.2L592.2,293.9L592.4,294.5L592.6,295.2L592.8,295.9L593.0,296.5L593.3,297.2L593.5,297.9L593.7,298.5L593.9,299.2L594.1,299.9L594.3,300.5L594.5,301.2L594.7,301.9L594.9,302.5L595.1,303.2L595.3,303.9L595.5,304.5L595.7,305.2L595.9,305.9L596.1,306.6L596.3,307.2L596.5,307.9L596.7,308.6L596.9,309.2L597.1,309.9L597.3,310.6L597.5,311.3L597.7,311.9L597.9,312.6L598.1,313.3L598.3,313.9L598.5,314.6L598.7,315.3L598.9,316.0L599.1,316.6L599.3,317.3L599.5,318.0L599.7,318.6L599.9,319.3L600.1,320.0L600.4,320.6L600.6,321.3L600.8,322.0L601.0,322.6L601.2,323.3L601.5,324.0L601.7,324.6L602.0,325.3L602.3,325.9L602.5,326.5L602.8,327.2L603.1,327.8L603.4,328.5L603.6,329.1L603.9,329.8L604.2,330.4L604.5,331.1L604.7,331.7L605.0,332.3L605.3,333.0L605.6,333.6L605.9,334.3L606.1,334.9L606.4,335.6L606.7,336.2L607.0,336.8L607.2,337.5L607.5,338.1L607.8,338.8L608.0,339.4L608.3,340.1L608.6,340.7L608.9,341.4L609.1,342.0L609.4,342.6L609.7,343.3L610.0,343.9L610.3,344.5L610.7,345.1L611.0,345.7L611.4,346.3L611.8,346.9L612.2,347.4L612.7,348.0L613.1,348.5L613.6,349.0L614.1,349.6L614.5,350.1L615.0,350.6L615.5,351.0L616.1,351.5L616.6,351.9L617.1,352.4L617.7,352.8L618.3,353.2L618.9,353.5L619.5,353.9L620.1,354.1L620.8,354.3L621.5,354.4L622.1,354.5L622.8,354.5L623.5,354.5L624.2,354.5L624.9,354.5L625.6,354.4L626.3,354.3L627.0,354.2L627.7,354.1L628.4,354.0L629.1,353.9L629.8,353.8L630.5,353.7L631.1,353.5L631.8,353.4L632.5,353.2L633.2,353.1L633.9,353.0L634.6,352.8L635.3,352.7L636.0,352.6L636.6,352.4L637.3,352.3L638.0,352.2L638.7,352.1L639.4,352.1L640.1,352.0L640.8,352.0L641.5,351.9L642.2,351.9L642.9,351.8L643.6,351.8L644.3,351.8L645.0,351.8L645.7,351.7L646.4,351.7L647.1,351.7L647.8,351.7L648.5,351.6L649.2,351.6L649.9,351.6L650.6,351.6L651.3,351.5L652.0,351.5" fill="none" stroke="#2f5fc4" stroke-width="1.6" stroke-linejoin="round" stroke-linecap="round" clip-path="url(#cd)"/>
<path d="M393.0,217.3L393.7,217.3L394.4,217.3L395.1,217.3L395.8,217.3L396.5,217.3L397.2,217.3L397.9,217.3L398.6,217.3L399.3,217.3L400.0,217.3L400.7,217.3L401.4,217.3L402.1,217.3L402.8,217.3L403.5,217.3L404.2,217.3L404.9,217.3L405.6,217.3L406.3,217.3L407.0,217.3L407.7,217.3L408.4,217.3L409.1,217.3L409.8,217.3L410.5,217.3L411.2,217.3L411.9,217.3L412.6,217.3L413.3,217.3L414.0,217.3L414.7,217.3L415.4,217.3L416.1,217.3L416.8,217.3L417.5,217.3L418.2,217.3L418.9,217.3L419.6,217.3L420.3,217.3L421.0,217.3L421.8,217.3L422.5,217.3L423.2,217.3L423.9,217.3L424.6,217.3L425.3,217.3L426.0,217.3L426.7,217.3L427.4,217.3L428.1,217.3L428.8,217.3L429.5,217.3L430.2,217.3L430.9,217.3L431.6,217.3L432.3,217.3L433.0,217.3L433.7,217.3L434.4,217.3L435.1,217.3L435.8,217.3L436.5,217.3L437.2,217.3L437.9,217.3L438.6,217.3L439.3,217.3L440.0,217.3L440.7,217.3L441.4,217.3L442.1,217.3L442.8,217.3L443.5,217.3L444.2,217.3L444.9,217.3L445.6,217.3L446.3,217.3L447.0,217.3L447.7,217.3L448.4,217.3L449.1,217.3L449.8,217.3L450.5,217.3L451.2,217.3L451.9,217.3L452.6,217.3L453.3,217.3L454.0,217.3L454.7,217.3L455.4,217.3L456.1,217.3L456.8,217.3L457.5,217.3L458.2,217.3L458.9,217.3L459.6,217.3L460.3,217.3L461.0,217.3L461.7,217.3L462.4,217.3L463.1,217.3L463.8,217.3L464.5,217.3L465.2,217.3L465.9,217.3L466.6,217.3L467.3,217.3L468.0,217.3L468.7,217.3L469.4,217.3L470.1,217.3L470.8,217.3L471.5,217.3L472.2,217.3L472.9,217.3L473.6,217.3L474.3,217.3L475.0,217.3L475.7,217.3L476.4,217.3L477.1,217.3L477.8,217.3L478.6,217.3L479.3,217.3L480.0,217.3L480.7,217.3L481.4,217.3L482.1,217.3L482.8,217.3L483.5,217.3L484.2,217.3L484.9,217.3L485.6,217.3L486.3,217.3L487.0,217.3L487.7,217.3L488.4,217.3L489.1,217.3L489.8,217.3L490.5,217.3L491.2,217.3L491.9,217.3L492.6,217.3L493.3,217.3L494.0,217.4L494.7,217.4L495.4,217.4L496.1,217.4L496.8,217.4L497.5,217.4L498.2,217.4L498.9,217.4L499.6,217.4L500.3,217.4L501.0,217.4L501.7,217.4L502.4,217.4L503.1,217.4L503.8,217.4L504.5,217.4L505.2,217.4L505.9,217.4L506.6,217.4L507.3,217.4L508.0,217.4L508.7,217.4L509.4,217.4L510.1,217.4L510.8,217.5L511.5,217.5L512.2,217.5L512.9,217.5L513.6,217.5L514.3,217.5L515.0,217.5L515.7,217.5L516.4,217.5L517.1,217.5L517.8,217.5L518.5,217.6L519.2,217.6L519.9,217.6L520.6,217.6L521.3,217.6L522.0,217.6L522.7,217.7L523.4,217.7L524.1,217.7L524.8,217.7L525.5,217.7L526.2,217.8L526.9,217.8L527.6,217.8L528.3,217.8L529.0,217.9L529.7,217.9L530.4,217.9L531.1,218.0L531.8,218.0L532.5,218.0L533.2,218.1L533.9,218.1L534.6,218.2L535.3,218.2L536.0,218.3L536.7,218.3L537.4,218.4L538.1,218.5L538.8,218.5L539.5,218.6L540.2,218.7L540.9,218.7L541.6,218.8L542.3,218.9L543.0,219.0L543.7,219.1L544.4,219.2L545.1,219.3L545.8,219.4L546.5,219.6L547.2,219.7L547.8,219.9L548.5,220.0L549.2,220.2L549.9,220.3L550.6,220.5L551.3,220.7L551.9,220.8L552.6,221.0L553.3,221.2L553.9,221.4L554.6,221.7L555.3,221.9L555.9,222.2L556.6,222.4L557.2,222.7L557.8,223.0L558.5,223.3L559.1,223.7L559.7,224.0L560.3,224.4L560.9,224.7L561.5,225.1L562.0,225.5L562.6,225.9L563.2,226.4L563.7,226.8L564.2,227.3L564.7,227.8L565.2,228.3L565.7,228.8L566.1,229.3L566.6,229.9L567.0,230.4L567.4,231.0L567.8,231.6L568.2,232.1L568.5,232.7L568.9,233.4L569.2,234.0L569.5,234.6L569.8,235.2L570.1,235.9L570.4,236.5L570.7,237.2L571.0,237.8L571.2,238.4L571.5,239.1L571.8,239.7L572.1,240.4L572.3,241.0L572.6,241.7L572.9,242.3L573.1,243.0L573.4,243.6L573.7,244.3L574.0,244.9L574.2,245.5L574.5,246.2L574.8,246.8L575.1,247.5L575.4,248.1L575.7,248.7L576.0,249.4L576.3,250.0L576.5,250.7L576.8,251.3L577.1,251.9L577.4,252.6L577.7,253.2L578.0,253.9L578.3,254.5L578.6,255.1L578.9,255.8L579.2,256.4L579.5,257.0L579.8,257.6L580.1,258.3L580.4,258.9L580.6,259.6L580.9,260.2L581.1,260.9L581.4,261.6L581.6,262.2L581.8,262.9L582.0,263.5L582.2,264.2L582.5,264.9L582.7,265.5L582.9,266.2L583.1,266.9L583.3,267.6L583.5,268.2L583.7,268.9L583.9,269.6L584.2,270.2L584.4,270.9L584.6,271.6L584.8,272.2L585.0,272.9L585.2,273.6L585.4,274.2L585.6,274.9L585.8,275.6L586.1,276.2L586.3,276.9L586.5,277.6L586.7,278.3L586.9,278.9L587.1,279.6L587.3,280.3L587.5,280.9L587.8,281.6L588.0,282.3L588.2,282.9L588.4,283.6L588.6,284.3L588.9,284.9L589.1,285.6L589.3,286.3L589.5,286.9L589.7,287.6L590.0,288.3L590.2,288.9L590.4,289.6L590.6,290.2L590.8,290.9L591.0,291.6L591.3,292.2L591.5,292.9L591.7,293.6L591.9,294.2L592.1,294.9L592.3,295.6L592.6,296.3L592.8,296.9L593.0,297.6L593.2,298.3L593.4,298.9L593.6,299.6L593.8,300.3L594.0,300.9L594.2,301.6L594.4,302.3L594.7,302.9L594.9,303.6L595.1,304.3L595.3,305.0L595.5,305.6L595.7,306.3L595.9,307.0L596.1,307.6L596.3,308.3L596.5,309.0L596.7,309.7L596.9,310.3L597.1,311.0L597.3,311.7L597.5,312.4L597.7,313.0L597.9,313.7L598.1,314.4L598.3,315.0L598.5,315.7L598.7,316.4L598.9,317.1L599.1,317.7L599.3,318.4L599.5,319.1L599.7,319.7L599.9,320.4L600.1,321.1L600.3,321.7L600.5,322.4L600.8,323.1L601.0,323.7L601.3,324.4L601.5,325.0L601.8,325.7L602.0,326.3L602.3,327.0L602.6,327.6L602.9,328.3L603.1,328.9L603.4,329.6L603.7,330.2L604.0,330.9L604.2,331.5L604.5,332.1L604.8,332.8L605.1,333.4L605.4,334.1L605.6,334.7L605.9,335.3L606.2,336.0L606.5,336.6L606.8,337.3L607.1,337.9L607.3,338.6L607.6,339.2L607.9,339.8L608.2,340.5L608.5,341.1L608.8,341.7L609.1,342.4L609.4,343.0L609.7,343.6L610.1,344.2L610.4,344.8L610.8,345.4L611.3,346.0L611.7,346.5L612.2,347.0L612.6,347.5L613.1,348.0L613.6,348.5L614.1,349.0L614.7,349.5L615.2,349.9L615.8,350.3L616.3,350.7L616.9,351.1L617.5,351.5L618.1,351.8L618.8,352.1L619.4,352.4L620.0,352.6L620.7,352.8L621.4,352.9L622.1,353.0L622.8,353.0L623.5,353.0L624.2,353.0L624.9,353.0L625.6,352.9L626.3,352.8L627.0,352.8L627.7,352.7L628.4,352.5L629.0,352.4L629.7,352.3L630.4,352.2L631.1,352.0L631.8,351.9L632.5,351.8L633.2,351.6L633.9,351.5L634.5,351.3L635.2,351.2L635.9,351.1L636.6,351.0L637.3,350.8L638.0,350.7L638.7,350.7L639.4,350.6L640.1,350.5L640.8,350.5L641.5,350.4L642.2,350.4L642.9,350.3L643.6,350.3L644.3,350.3L645.0,350.3L645.7,350.2L646.4,350.2L647.1,350.2L647.8,350.2L648.5,350.1L649.2,350.1L649.9,350.1L650.6,350.1L651.3,350.0L652.0,350.0" fill="none" stroke="#7a35b5" stroke-width="1.6" stroke-linejoin="round" stroke-linecap="round" clip-path="url(#cd)"/>
<path d="M392.6,217.3L393.3,217.3L394.0,217.3L394.7,217.3L395.4,217.3L396.1,217.3L396.8,217.3L397.5,217.3L398.2,217.3L398.9,217.3L399.6,217.3L400.3,217.3L401.0,217.3L401.7,217.3L402.4,217.3L403.1,217.3L403.8,217.3L404.5,217.3L405.2,217.3L405.9,217.3L406.6,217.3L407.3,217.3L408.0,217.3L408.7,217.3L409.4,217.3L410.1,217.3L410.8,217.3L411.5,217.3L412.2,217.3L412.9,217.3L413.6,217.3L414.3,217.3L415.0,217.3L415.7,217.3L416.4,217.3L417.1,217.3L417.8,217.3L418.5,217.3L419.2,217.3L419.9,217.3L420.6,217.3L421.3,217.3L422.0,217.3L422.7,217.3L423.4,217.3L424.1,217.3L424.8,217.3L425.5,217.3L426.2,217.3L426.9,217.3L427.6,217.3L428.3,217.3L429.0,217.3L429.7,217.3L430.4,217.3L431.2,217.3L431.9,217.3L432.6,217.3L433.3,217.3L434.0,217.3L434.7,217.3L435.4,217.3L436.1,217.3L436.8,217.3L437.5,217.3L438.2,217.3L438.9,217.3L439.6,217.3L440.3,217.3L441.0,217.3L441.7,217.3L442.4,217.3L443.1,217.3L443.8,217.3L444.5,217.3L445.2,217.3L445.9,217.3L446.6,217.3L447.3,217.3L448.0,217.3L448.7,217.3L449.4,217.3L450.1,217.3L450.8,217.3L451.5,217.3L452.2,217.3L452.9,217.3L453.6,217.3L454.3,217.3L455.0,217.3L455.7,217.3L456.4,217.3L457.1,217.3L457.8,217.3L458.5,217.3L459.2,217.3L459.9,217.3L460.6,217.3L461.3,217.3L462.0,217.3L462.7,217.3L463.4,217.3L464.1,217.3L464.8,217.3L465.5,217.3L466.2,217.3L466.9,217.3L467.6,217.3L468.3,217.3L469.0,217.3L469.7,217.3L470.4,217.3L471.1,217.3L471.8,217.3L472.5,217.3L473.2,217.3L473.9,217.3L474.6,217.3L475.3,217.3L476.0,217.3L476.7,217.3L477.4,217.3L478.1,217.3L478.8,217.3L479.5,217.3L480.2,217.3L480.9,217.3L481.6,217.3L482.3,217.3L483.0,217.3L483.7,217.3L484.4,217.3L485.1,217.3L485.8,217.3L486.5,217.3L487.2,217.3L487.9,217.3L488.6,217.3L489.3,217.3L490.0,217.3L490.7,217.3L491.4,217.3L492.1,217.3L492.8,217.3L493.5,217.3L494.2,217.4L494.9,217.4L495.6,217.4L496.3,217.4L497.0,217.4L497.7,217.4L498.4,217.4L499.1,217.4L499.8,217.4L500.5,217.4L501.2,217.4L501.9,217.4L502.6,217.4L503.3,217.4L504.0,217.4L504.7,217.4L505.4,217.4L506.1,217.4L506.8,217.4L507.5,217.4L508.3,217.4L509.0,217.4L509.7,217.4L510.4,217.5L511.1,217.5L511.8,217.5L512.5,217.5L513.2,217.5L513.9,217.5L514.6,217.5L515.3,217.5L516.0,217.5L516.7,217.5L517.4,217.5L518.1,217.6L518.8,217.6L519.5,217.6L520.2,217.6L520.9,217.6L521.6,217.6L522.3,217.7L523.0,217.7L523.7,217.7L524.4,217.7L525.1,217.7L525.8,217.8L526.5,217.8L527.2,217.8L527.9,217.8L528.6,217.9L529.3,217.9L530.0,217.9L530.7,218.0L531.4,218.0L532.1,218.0L532.8,218.1L533.5,218.1L534.2,218.2L534.9,218.2L535.6,218.3L536.3,218.3L537.0,218.4L537.7,218.5L538.4,218.5L539.1,218.6L539.8,218.7L540.5,218.7L541.1,218.8L541.8,218.9L542.5,219.0L543.2,219.1L543.9,219.2L544.6,219.3L545.3,219.4L546.0,219.6L546.7,219.7L547.4,219.9L548.0,220.0L548.7,220.2L549.4,220.3L550.1,220.5L550.8,220.6L551.5,220.8L552.1,221.0L552.8,221.2L553.5,221.4L554.1,221.6L554.8,221.9L555.4,222.1L556.1,222.4L556.7,222.7L557.4,223.0L558.0,223.3L558.6,223.6L559.2,224.0L559.8,224.3L560.4,224.7L561.0,225.1L561.6,225.5L562.1,225.9L562.7,226.3L563.2,226.8L563.7,227.2L564.3,227.7L564.7,228.2L565.2,228.7L565.7,229.3L566.1,229.8L566.6,230.3L567.0,230.9L567.4,231.5L567.7,232.1L568.1,232.7L568.4,233.3L568.8,233.9L569.1,234.5L569.4,235.2L569.7,235.8L570.0,236.4L570.3,237.1L570.5,237.7L570.8,238.4L571.1,239.0L571.4,239.7L571.6,240.3L571.9,240.9L572.2,241.6L572.4,242.2L572.7,242.9L573.0,243.5L573.3,244.2L573.5,244.8L573.8,245.5L574.1,246.1L574.4,246.7L574.7,247.4L574.9,248.0L575.2,248.7L575.5,249.3L575.8,249.9L576.1,250.6L576.4,251.2L576.7,251.9L577.0,252.5L577.3,253.1L577.5,253.8L577.8,254.4L578.1,255.0L578.5,255.7L578.8,256.3L579.1,256.9L579.4,257.6L579.7,258.2L579.9,258.8L580.2,259.5L580.5,260.1L580.7,260.8L580.9,261.5L581.1,262.1L581.4,262.8L581.6,263.5L581.8,264.1L582.0,264.8L582.2,265.5L582.5,266.1L582.7,266.8L582.9,267.5L583.1,268.1L583.3,268.8L583.5,269.5L583.7,270.1L583.9,270.8L584.1,271.5L584.4,272.1L584.6,272.8L584.8,273.5L585.0,274.1L585.2,274.8L585.4,275.5L585.6,276.1L585.8,276.8L586.0,277.5L586.3,278.1L586.5,278.8L586.7,279.5L586.9,280.2L587.1,280.8L587.3,281.5L587.5,282.2L587.8,282.8L588.0,283.5L588.2,284.2L588.4,284.8L588.6,285.5L588.9,286.1L589.1,286.8L589.3,287.5L589.5,288.1L589.7,288.8L590.0,289.5L590.2,290.1L590.4,290.8L590.6,291.5L590.8,292.1L591.0,292.8L591.3,293.5L591.5,294.1L591.7,294.8L591.9,295.5L592.1,296.1L592.3,296.8L592.6,297.5L592.8,298.1L593.0,298.8L593.2,299.5L593.4,300.2L593.6,300.8L593.8,301.5L594.0,302.2L594.2,302.8L594.4,303.5L594.6,304.2L594.8,304.8L595.0,305.5L595.2,306.2L595.4,306.9L595.6,307.5L595.8,308.2L596.0,308.9L596.2,309.5L596.4,310.2L596.6,310.9L596.8,311.6L597.0,312.2L597.2,312.9L597.4,313.6L597.6,314.2L597.8,314.9L598.0,315.6L598.2,316.3L598.4,316.9L598.6,317.6L598.8,318.3L599.0,318.9L599.2,319.6L599.4,320.3L599.7,321.0L599.9,321.6L600.1,322.3L600.3,323.0L600.6,323.6L600.8,324.3L601.1,324.9L601.3,325.6L601.6,326.2L601.9,326.9L602.1,327.5L602.4,328.2L602.7,328.8L602.9,329.4L603.2,330.1L603.5,330.7L603.8,331.4L604.1,332.0L604.3,332.7L604.6,333.3L604.9,333.9L605.2,334.6L605.5,335.2L605.8,335.9L606.1,336.5L606.4,337.1L606.7,337.8L607.0,338.4L607.3,339.0L607.6,339.7L607.9,340.3L608.2,340.9L608.5,341.5L608.8,342.2L609.2,342.8L609.5,343.4L609.9,344.0L610.3,344.5L610.7,345.1L611.2,345.6L611.7,346.1L612.2,346.6L612.7,347.0L613.3,347.5L613.8,347.9L614.4,348.3L614.9,348.7L615.5,349.1L616.2,349.4L616.8,349.7L617.4,350.0L618.1,350.3L618.7,350.6L619.4,350.8L620.0,351.0L620.7,351.1L621.4,351.2L622.1,351.3L622.8,351.3L623.5,351.3L624.2,351.3L624.9,351.3L625.6,351.2L626.3,351.1L627.0,351.1L627.7,350.9L628.4,350.8L629.1,350.7L629.7,350.6L630.4,350.5L631.1,350.3L631.8,350.2L632.5,350.1L633.2,349.9L633.9,349.8L634.6,349.6L635.2,349.5L635.9,349.4L636.6,349.3L637.3,349.1L638.0,349.0L638.7,349.0L639.4,348.9L640.1,348.8L640.8,348.8L641.5,348.7L642.2,348.7L642.9,348.6L643.6,348.6L644.3,348.6L645.0,348.6L645.7,348.5L646.4,348.5L647.1,348.5L647.8,348.5L648.5,348.4L649.2,348.4L649.9,348.4L650.6,348.4L651.3,348.3L652.0,348.3" fill="none" stroke="#e81e28" stroke-width="1.6" stroke-linejoin="round" stroke-linecap="round" clip-path="url(#cd)"/>
<path d="M391.5,217.3L392.2,217.3L392.9,217.3L393.6,217.3L394.3,217.3L395.0,217.3L395.7,217.3L396.4,217.3L397.1,217.3L397.8,217.3L398.5,217.3L399.2,217.3L399.9,217.3L400.6,217.3L401.3,217.3L402.0,217.3L402.7,217.3L403.4,217.3L404.1,217.3L404.8,217.3L405.5,217.3L406.2,217.3L406.9,217.3L407.6,217.3L408.3,217.3L409.0,217.3L409.7,217.3L410.4,217.3L411.1,217.3L411.8,217.3L412.5,217.3L413.2,217.3L413.9,217.3L414.6,217.3L415.3,217.3L416.0,217.3L416.7,217.3L417.5,217.3L418.2,217.3L418.9,217.3L419.6,217.3L420.3,217.3L421.0,217.3L421.7,217.3L422.4,217.3L423.1,217.3L423.8,217.3L424.5,217.3L425.2,217.3L425.9,217.3L426.6,217.3L427.3,217.3L428.0,217.3L428.7,217.3L429.4,217.3L430.1,217.3L430.8,217.3L431.5,217.3L432.2,217.3L432.9,217.3L433.6,217.3L434.3,217.3L435.0,217.3L435.7,217.3L436.4,217.3L437.1,217.3L437.8,217.3L438.5,217.3L439.2,217.3L439.9,217.3L440.6,217.3L441.3,217.3L442.0,217.3L442.7,217.3L443.4,217.3L444.1,217.3L444.8,217.3L445.5,217.3L446.2,217.3L446.9,217.3L447.6,217.3L448.3,217.3L449.0,217.3L449.7,217.3L450.4,217.3L451.1,217.3L451.8,217.3L452.5,217.3L453.2,217.3L453.9,217.3L454.6,217.3L455.3,217.3L456.0,217.3L456.7,217.3L457.4,217.3L458.1,217.3L458.8,217.3L459.5,217.3L460.2,217.3L460.9,217.3L461.6,217.3L462.3,217.3L463.0,217.3L463.7,217.3L464.4,217.3L465.1,217.3L465.8,217.3L466.5,217.3L467.2,217.3L468.0,217.3L468.7,217.3L469.4,217.3L470.1,217.3L470.8,217.3L471.5,217.3L472.2,217.3L472.9,217.3L473.6,217.3L474.3,217.3L475.0,217.3L475.7,217.3L476.4,217.3L477.1,217.3L477.8,217.3L478.5,217.3L479.2,217.3L479.9,217.3L480.6,217.3L481.3,217.3L482.0,217.3L482.7,217.3L483.4,217.3L484.1,217.3L484.8,217.3L485.5,217.3L486.2,217.3L486.9,217.3L487.6,217.3L488.3,217.3L489.0,217.3L489.7,217.3L490.4,217.3L491.1,217.3L491.8,217.3L492.5,217.4L493.2,217.4L493.9,217.4L494.6,217.4L495.3,217.4L496.0,217.4L496.7,217.4L497.4,217.4L498.1,217.4L498.8,217.4L499.5,217.4L500.2,217.4L500.9,217.4L501.6,217.4L502.3,217.4L503.0,217.4L503.7,217.4L504.4,217.4L505.1,217.4L505.8,217.4L506.5,217.4L507.2,217.4L507.9,217.4L508.6,217.4L509.3,217.5L510.0,217.5L510.7,217.5L511.4,217.5L512.1,217.5L512.8,217.5L513.5,217.5L514.2,217.5L514.9,217.5L515.6,217.5L516.3,217.5L517.0,217.6L517.7,217.6L518.4,217.6L519.1,217.6L519.9,217.6L520.6,217.6L521.3,217.7L522.0,217.7L522.7,217.7L523.4,217.7L524.1,217.7L524.8,217.8L525.5,217.8L526.2,217.8L526.9,217.8L527.6,217.9L528.3,217.9L529.0,217.9L529.7,218.0L530.4,218.0L531.1,218.0L531.8,218.1L532.5,218.1L533.2,218.2L533.9,218.2L534.6,218.3L535.3,218.4L536.0,218.4L536.7,218.5L537.4,218.5L538.1,218.6L538.8,218.7L539.5,218.7L540.1,218.8L540.8,218.9L541.5,219.0L542.2,219.1L542.9,219.2L543.6,219.3L544.3,219.5L545.0,219.6L545.7,219.7L546.4,219.9L547.1,220.0L547.7,220.2L548.4,220.3L549.1,220.5L549.8,220.7L550.5,220.8L551.1,221.0L551.8,221.2L552.5,221.4L553.1,221.7L553.8,221.9L554.4,222.2L555.1,222.4L555.7,222.7L556.4,223.0L557.0,223.3L557.6,223.7L558.2,224.0L558.8,224.4L559.4,224.7L560.0,225.1L560.6,225.5L561.1,226.0L561.7,226.4L562.2,226.8L562.7,227.3L563.2,227.8L563.7,228.3L564.2,228.8L564.7,229.3L565.1,229.9L565.5,230.4L565.9,231.0L566.3,231.6L566.7,232.2L567.1,232.8L567.4,233.4L567.7,234.0L568.0,234.6L568.3,235.3L568.6,235.9L568.9,236.5L569.2,237.2L569.5,237.8L569.8,238.5L570.0,239.1L570.3,239.8L570.6,240.4L570.8,241.1L571.1,241.7L571.4,242.4L571.7,243.0L571.9,243.7L572.2,244.3L572.5,244.9L572.8,245.6L573.0,246.2L573.3,246.9L573.6,247.5L573.9,248.1L574.2,248.8L574.5,249.4L574.8,250.1L575.1,250.7L575.3,251.3L575.6,252.0L575.9,252.6L576.2,253.3L576.5,253.9L576.8,254.5L577.1,255.2L577.4,255.8L577.7,256.4L578.0,257.0L578.3,257.7L578.6,258.3L578.9,259.0L579.2,259.6L579.4,260.3L579.6,260.9L579.9,261.6L580.1,262.3L580.3,262.9L580.5,263.6L580.7,264.3L581.0,264.9L581.2,265.6L581.4,266.3L581.6,266.9L581.8,267.6L582.0,268.3L582.2,268.9L582.5,269.6L582.7,270.3L582.9,270.9L583.1,271.6L583.3,272.3L583.5,272.9L583.7,273.6L583.9,274.3L584.1,275.0L584.4,275.6L584.6,276.3L584.8,277.0L585.0,277.6L585.2,278.3L585.4,279.0L585.6,279.6L585.8,280.3L586.1,281.0L586.3,281.6L586.5,282.3L586.7,283.0L586.9,283.6L587.2,284.3L587.4,285.0L587.6,285.6L587.8,286.3L588.0,287.0L588.2,287.6L588.5,288.3L588.7,289.0L588.9,289.6L589.1,290.3L589.3,291.0L589.6,291.6L589.8,292.3L590.0,293.0L590.2,293.6L590.4,294.3L590.6,295.0L590.9,295.6L591.1,296.3L591.3,297.0L591.5,297.6L591.7,298.3L591.9,299.0L592.1,299.6L592.3,300.3L592.6,301.0L592.8,301.7L593.0,302.3L593.2,303.0L593.4,303.7L593.6,304.3L593.8,305.0L594.0,305.7L594.2,306.4L594.4,307.0L594.6,307.7L594.8,308.4L595.0,309.0L595.2,309.7L595.4,310.4L595.6,311.1L595.8,311.7L596.0,312.4L596.2,313.1L596.4,313.7L596.6,314.4L596.8,315.1L597.0,315.8L597.2,316.4L597.4,317.1L597.6,317.8L597.8,318.5L598.0,319.1L598.2,319.8L598.4,320.5L598.6,321.1L598.8,321.8L599.1,322.5L599.3,323.1L599.5,323.8L599.8,324.4L600.0,325.1L600.3,325.7L600.6,326.4L600.8,327.0L601.1,327.7L601.4,328.3L601.6,329.0L601.9,329.6L602.2,330.3L602.5,330.9L602.7,331.6L603.0,332.2L603.3,332.8L603.6,333.5L603.9,334.1L604.2,334.8L604.5,335.4L604.8,336.0L605.1,336.7L605.4,337.3L605.7,337.9L606.0,338.6L606.3,339.2L606.6,339.8L607.0,340.4L607.3,341.0L607.6,341.7L608.0,342.3L608.3,342.9L608.7,343.5L609.1,344.0L609.5,344.6L610.0,345.1L610.5,345.6L611.0,346.1L611.5,346.6L612.0,347.0L612.6,347.5L613.1,347.9L613.7,348.3L614.3,348.7L614.9,349.0L615.5,349.4L616.1,349.7L616.7,350.0L617.4,350.3L618.0,350.5L618.7,350.8L619.3,351.0L620.0,351.2L620.7,351.3L621.4,351.4L622.1,351.5L622.8,351.5L623.5,351.5L624.2,351.5L624.9,351.5L625.6,351.4L626.3,351.3L627.0,351.3L627.7,351.2L628.3,351.0L629.0,350.9L629.7,350.8L630.4,350.7L631.1,350.5L631.8,350.4L632.5,350.3L633.2,350.1L633.9,350.0L634.5,349.8L635.2,349.7L635.9,349.6L636.6,349.5L637.3,349.3L638.0,349.2L638.7,349.2L639.4,349.1L640.1,349.0L640.8,349.0L641.5,348.9L642.2,348.9L642.9,348.8L643.6,348.8L644.3,348.8L645.0,348.8L645.7,348.7L646.4,348.7L647.1,348.7L647.8,348.7L648.5,348.6L649.2,348.6L649.9,348.6L650.6,348.6L651.3,348.5L652.0,348.5" fill="none" stroke="#151515" stroke-width="1.4" stroke-linejoin="round" stroke-linecap="round" clip-path="url(#cd)"/>
<rect x="432" y="225.3" width="118.7" height="118" fill="#fff"/>
<line x1="432" y1="343.3" x2="432" y2="340.1" stroke="#5c5c5c" stroke-width="0.95"/>
<line x1="432" y1="225.3" x2="432" y2="228.5" stroke="#5c5c5c" stroke-width="0.95"/>
<line x1="449.87" y1="343.3" x2="449.87" y2="341.5" stroke="#5c5c5c" stroke-width="0.95"/>
<line x1="449.87" y1="225.3" x2="449.87" y2="227.1" stroke="#5c5c5c" stroke-width="0.95"/>
<line x1="460.32" y1="343.3" x2="460.32" y2="341.5" stroke="#5c5c5c" stroke-width="0.95"/>
<line x1="460.32" y1="225.3" x2="460.32" y2="227.1" stroke="#5c5c5c" stroke-width="0.95"/>
<line x1="467.73" y1="343.3" x2="467.73" y2="341.5" stroke="#5c5c5c" stroke-width="0.95"/>
<line x1="467.73" y1="225.3" x2="467.73" y2="227.1" stroke="#5c5c5c" stroke-width="0.95"/>
<line x1="473.48" y1="343.3" x2="473.48" y2="341.5" stroke="#5c5c5c" stroke-width="0.95"/>
<line x1="473.48" y1="225.3" x2="473.48" y2="227.1" stroke="#5c5c5c" stroke-width="0.95"/>
<line x1="478.18" y1="343.3" x2="478.18" y2="341.5" stroke="#5c5c5c" stroke-width="0.95"/>
<line x1="478.18" y1="225.3" x2="478.18" y2="227.1" stroke="#5c5c5c" stroke-width="0.95"/>
<line x1="482.16" y1="343.3" x2="482.16" y2="341.5" stroke="#5c5c5c" stroke-width="0.95"/>
<line x1="482.16" y1="225.3" x2="482.16" y2="227.1" stroke="#5c5c5c" stroke-width="0.95"/>
<line x1="485.6" y1="343.3" x2="485.6" y2="341.5" stroke="#5c5c5c" stroke-width="0.95"/>
<line x1="485.6" y1="225.3" x2="485.6" y2="227.1" stroke="#5c5c5c" stroke-width="0.95"/>
<line x1="488.63" y1="343.3" x2="488.63" y2="341.5" stroke="#5c5c5c" stroke-width="0.95"/>
<line x1="488.63" y1="225.3" x2="488.63" y2="227.1" stroke="#5c5c5c" stroke-width="0.95"/>
<line x1="491.35" y1="343.3" x2="491.35" y2="340.1" stroke="#5c5c5c" stroke-width="0.95"/>
<line x1="491.35" y1="225.3" x2="491.35" y2="228.5" stroke="#5c5c5c" stroke-width="0.95"/>
<line x1="509.22" y1="343.3" x2="509.22" y2="341.5" stroke="#5c5c5c" stroke-width="0.95"/>
<line x1="509.22" y1="225.3" x2="509.22" y2="227.1" stroke="#5c5c5c" stroke-width="0.95"/>
<line x1="519.67" y1="343.3" x2="519.67" y2="341.5" stroke="#5c5c5c" stroke-width="0.95"/>
<line x1="519.67" y1="225.3" x2="519.67" y2="227.1" stroke="#5c5c5c" stroke-width="0.95"/>
<line x1="527.08" y1="343.3" x2="527.08" y2="341.5" stroke="#5c5c5c" stroke-width="0.95"/>
<line x1="527.08" y1="225.3" x2="527.08" y2="227.1" stroke="#5c5c5c" stroke-width="0.95"/>
<line x1="532.83" y1="343.3" x2="532.83" y2="341.5" stroke="#5c5c5c" stroke-width="0.95"/>
<line x1="532.83" y1="225.3" x2="532.83" y2="227.1" stroke="#5c5c5c" stroke-width="0.95"/>
<line x1="537.53" y1="343.3" x2="537.53" y2="341.5" stroke="#5c5c5c" stroke-width="0.95"/>
<line x1="537.53" y1="225.3" x2="537.53" y2="227.1" stroke="#5c5c5c" stroke-width="0.95"/>
<line x1="541.51" y1="343.3" x2="541.51" y2="341.5" stroke="#5c5c5c" stroke-width="0.95"/>
<line x1="541.51" y1="225.3" x2="541.51" y2="227.1" stroke="#5c5c5c" stroke-width="0.95"/>
<line x1="544.95" y1="343.3" x2="544.95" y2="341.5" stroke="#5c5c5c" stroke-width="0.95"/>
<line x1="544.95" y1="225.3" x2="544.95" y2="227.1" stroke="#5c5c5c" stroke-width="0.95"/>
<line x1="547.98" y1="343.3" x2="547.98" y2="341.5" stroke="#5c5c5c" stroke-width="0.95"/>
<line x1="547.98" y1="225.3" x2="547.98" y2="227.1" stroke="#5c5c5c" stroke-width="0.95"/>
<line x1="550.7" y1="343.3" x2="550.7" y2="340.1" stroke="#5c5c5c" stroke-width="0.95"/>
<line x1="550.7" y1="225.3" x2="550.7" y2="228.5" stroke="#5c5c5c" stroke-width="0.95"/>
<line x1="432" y1="343.3" x2="435.2" y2="343.3" stroke="#5c5c5c" stroke-width="0.95"/>
<line x1="550.7" y1="343.3" x2="547.5" y2="343.3" stroke="#5c5c5c" stroke-width="0.95"/>
<line x1="432" y1="284.3" x2="435.2" y2="284.3" stroke="#5c5c5c" stroke-width="0.95"/>
<line x1="550.7" y1="284.3" x2="547.5" y2="284.3" stroke="#5c5c5c" stroke-width="0.95"/>
<line x1="432" y1="225.3" x2="435.2" y2="225.3" stroke="#5c5c5c" stroke-width="0.95"/>
<line x1="550.7" y1="225.3" x2="547.5" y2="225.3" stroke="#5c5c5c" stroke-width="0.95"/>
<line x1="432" y1="325.54" x2="433.8" y2="325.54" stroke="#5c5c5c" stroke-width="0.95"/>
<line x1="550.7" y1="325.54" x2="548.9" y2="325.54" stroke="#5c5c5c" stroke-width="0.95"/>
<line x1="432" y1="315.15" x2="433.8" y2="315.15" stroke="#5c5c5c" stroke-width="0.95"/>
<line x1="550.7" y1="315.15" x2="548.9" y2="315.15" stroke="#5c5c5c" stroke-width="0.95"/>
<line x1="432" y1="307.78" x2="433.8" y2="307.78" stroke="#5c5c5c" stroke-width="0.95"/>
<line x1="550.7" y1="307.78" x2="548.9" y2="307.78" stroke="#5c5c5c" stroke-width="0.95"/>
<line x1="432" y1="302.06" x2="433.8" y2="302.06" stroke="#5c5c5c" stroke-width="0.95"/>
<line x1="550.7" y1="302.06" x2="548.9" y2="302.06" stroke="#5c5c5c" stroke-width="0.95"/>
<line x1="432" y1="297.39" x2="433.8" y2="297.39" stroke="#5c5c5c" stroke-width="0.95"/>
<line x1="550.7" y1="297.39" x2="548.9" y2="297.39" stroke="#5c5c5c" stroke-width="0.95"/>
<line x1="432" y1="293.44" x2="433.8" y2="293.44" stroke="#5c5c5c" stroke-width="0.95"/>
<line x1="550.7" y1="293.44" x2="548.9" y2="293.44" stroke="#5c5c5c" stroke-width="0.95"/>
<line x1="432" y1="290.02" x2="433.8" y2="290.02" stroke="#5c5c5c" stroke-width="0.95"/>
<line x1="550.7" y1="290.02" x2="548.9" y2="290.02" stroke="#5c5c5c" stroke-width="0.95"/>
<line x1="432" y1="287" x2="433.8" y2="287" stroke="#5c5c5c" stroke-width="0.95"/>
<line x1="550.7" y1="287" x2="548.9" y2="287" stroke="#5c5c5c" stroke-width="0.95"/>
<line x1="432" y1="266.54" x2="433.8" y2="266.54" stroke="#5c5c5c" stroke-width="0.95"/>
<line x1="550.7" y1="266.54" x2="548.9" y2="266.54" stroke="#5c5c5c" stroke-width="0.95"/>
<line x1="432" y1="256.15" x2="433.8" y2="256.15" stroke="#5c5c5c" stroke-width="0.95"/>
<line x1="550.7" y1="256.15" x2="548.9" y2="256.15" stroke="#5c5c5c" stroke-width="0.95"/>
<line x1="432" y1="248.78" x2="433.8" y2="248.78" stroke="#5c5c5c" stroke-width="0.95"/>
<line x1="550.7" y1="248.78" x2="548.9" y2="248.78" stroke="#5c5c5c" stroke-width="0.95"/>
<line x1="432" y1="243.06" x2="433.8" y2="243.06" stroke="#5c5c5c" stroke-width="0.95"/>
<line x1="550.7" y1="243.06" x2="548.9" y2="243.06" stroke="#5c5c5c" stroke-width="0.95"/>
<line x1="432" y1="238.39" x2="433.8" y2="238.39" stroke="#5c5c5c" stroke-width="0.95"/>
<line x1="550.7" y1="238.39" x2="548.9" y2="238.39" stroke="#5c5c5c" stroke-width="0.95"/>
<line x1="432" y1="234.44" x2="433.8" y2="234.44" stroke="#5c5c5c" stroke-width="0.95"/>
<line x1="550.7" y1="234.44" x2="548.9" y2="234.44" stroke="#5c5c5c" stroke-width="0.95"/>
<line x1="432" y1="231.02" x2="433.8" y2="231.02" stroke="#5c5c5c" stroke-width="0.95"/>
<line x1="550.7" y1="231.02" x2="548.9" y2="231.02" stroke="#5c5c5c" stroke-width="0.95"/>
<line x1="432" y1="228" x2="433.8" y2="228" stroke="#5c5c5c" stroke-width="0.95"/>
<line x1="550.7" y1="228" x2="548.9" y2="228" stroke="#5c5c5c" stroke-width="0.95"/>
<rect x="432" y="225.3" width="118.7" height="118" fill="none" stroke="#6e6e6e" stroke-width="1.1"/>
<text x="412.2" y="347.7" font-size="10" textLength="18.6" lengthAdjust="spacingAndGlyphs">10<tspan font-size="8.5" dy="-4">-3</tspan></text>
<text x="412.2" y="288.7" font-size="10" textLength="18.6" lengthAdjust="spacingAndGlyphs">10<tspan font-size="8.5" dy="-4">-2</tspan></text>
<text x="412.2" y="229.7" font-size="10" textLength="18.6" lengthAdjust="spacingAndGlyphs">10<tspan font-size="8.5" dy="-4">-1</tspan></text>
<text x="432.2" y="353.8" font-size="10" text-anchor="middle">1</text>
<text x="491.8" y="353.8" font-size="10" text-anchor="middle">10</text>
<text x="542.2" y="353.8" font-size="10" textLength="15.6" lengthAdjust="spacingAndGlyphs">10<tspan font-size="8.5" dy="-4">2</tspan></text>
<text x="472.2" y="364.2" font-size="11.5" textLength="36.8" lengthAdjust="spacingAndGlyphs"><tspan font-style="italic">d</tspan> (nm)</text>
<text transform="translate(410.8,304.8) rotate(-90)" x="0" y="0" font-size="12.8" textLength="41.6" lengthAdjust="spacingAndGlyphs">&#916;<tspan font-style="italic">T</tspan> (K)</text>
<path d="M432.0,317.5L432.7,317.3L433.4,317.2L434.1,317.1L434.7,316.9L435.4,316.8L436.1,316.6L436.8,316.5L437.5,316.4L438.2,316.3L438.9,316.1L439.6,316.0L440.3,315.9L440.9,315.7L441.6,315.6L442.3,315.5L443.0,315.3L443.7,315.2L444.4,315.1L445.1,314.9L445.8,314.8L446.4,314.7L447.1,314.5L447.8,314.4L448.5,314.2L449.2,314.1L449.9,314.0L450.6,313.8L451.3,313.7L451.9,313.5L452.6,313.4L453.3,313.2L454.0,313.1L454.7,312.9L455.4,312.8L456.0,312.6L456.7,312.4L457.4,312.3L458.1,312.1L458.8,312.0L459.4,311.8L460.1,311.6L460.8,311.4L461.5,311.2L462.2,311.1L462.8,310.9L463.5,310.7L464.2,310.5L464.8,310.3L465.5,310.1L466.2,309.9L466.9,309.7L467.5,309.5L468.2,309.3L468.9,309.0L469.5,308.8L470.2,308.6L470.8,308.4L471.5,308.1L472.2,307.9L472.8,307.7L473.5,307.4L474.1,307.2L474.8,306.9L475.4,306.6L476.1,306.4L476.7,306.1L477.4,305.8L478.0,305.6L478.7,305.3L479.3,305.0L479.9,304.7L480.6,304.4L481.2,304.1L481.8,303.8L482.5,303.5L483.1,303.2L483.7,302.9L484.4,302.6L485.0,302.2L485.6,301.9L486.2,301.6L486.8,301.2L487.4,300.9L488.0,300.5L488.6,300.2L489.2,299.8L489.8,299.5L490.4,299.1L491.0,298.7L491.6,298.4L492.2,298.0L492.8,297.6L493.4,297.2L494.0,296.8L494.6,296.4L495.1,296.0L495.7,295.6L496.3,295.2L496.8,294.8L497.4,294.4L498.0,294.0L498.5,293.5L499.1,293.1L499.6,292.7L500.2,292.2L500.7,291.8L501.3,291.4L501.8,290.9L502.3,290.5L502.9,290.0L503.4,289.6L503.9,289.1L504.5,288.6L505.0,288.2L505.5,287.7L506.0,287.2L506.5,286.8L507.1,286.3L507.6,285.8L508.1,285.3L508.6,284.8L509.1,284.3L509.6,283.8L510.1,283.3L510.6,282.8L511.0,282.3L511.5,281.8L512.0,281.3L512.5,280.8L513.0,280.3L513.4,279.8L513.9,279.3L514.4,278.8L514.9,278.2L515.3,277.7L515.8,277.2L516.2,276.6L516.7,276.1L517.1,275.6L517.6,275.0L518.0,274.5L518.5,274.0L518.9,273.4L519.4,272.9L519.8,272.3L520.2,271.8L520.7,271.2L521.1,270.7L521.5,270.1L522.0,269.6L522.4,269.0L522.8,268.4L523.2,267.9L523.6,267.3L524.1,266.8L524.5,266.2L524.9,265.6L525.3,265.1L525.7,264.5L526.1,263.9L526.5,263.3L526.9,262.8L527.3,262.2L527.7,261.6L528.1,261.0L528.5,260.4L528.9,259.9L529.2,259.3L529.6,258.7L530.0,258.1L530.4,257.5L530.8,256.9L531.1,256.3L531.5,255.7L531.9,255.1L532.3,254.5L532.6,254.0L533.0,253.4L533.4,252.8L533.7,252.2L534.1,251.6L534.5,251.0L534.8,250.4L535.2,249.8L535.5,249.1L535.9,248.5L536.2,247.9L536.6,247.3L536.9,246.7L537.3,246.1L537.6,245.5L538.0,244.9L538.3,244.3L538.6,243.7L539.0,243.0L539.3,242.4L539.6,241.8L540.0,241.2L540.3,240.6L540.6,240.0L541.0,239.3L541.3,238.7L541.6,238.1L541.9,237.5L542.3,236.9L542.6,236.2L542.9,235.6L543.2,235.0L543.5,234.4L543.9,233.7L544.2,233.1L544.5,232.5L544.8,231.9L545.1,231.2L545.4,230.6L545.7,230.0L546.0,229.3L546.3,228.7L546.6,228.1L546.9,227.4L547.2,226.8L547.5,226.2L547.8,225.5L548.1,224.9L548.4,224.3L548.7,223.6L549.0,223.0" fill="none" stroke="#2f5fc4" stroke-width="1.6" stroke-linejoin="round" stroke-linecap="round" clip-path="url(#id)"/>
<path d="M432.0,316.9L432.7,316.7L433.4,316.6L434.1,316.5L434.7,316.3L435.4,316.2L436.1,316.0L436.8,315.9L437.5,315.8L438.2,315.7L438.9,315.5L439.6,315.4L440.3,315.3L440.9,315.1L441.6,315.0L442.3,314.9L443.0,314.7L443.7,314.6L444.4,314.5L445.1,314.3L445.8,314.2L446.4,314.1L447.1,313.9L447.8,313.8L448.5,313.6L449.2,313.5L449.9,313.4L450.6,313.2L451.3,313.1L451.9,312.9L452.6,312.8L453.3,312.6L454.0,312.5L454.7,312.3L455.4,312.2L456.0,312.0L456.7,311.8L457.4,311.7L458.1,311.5L458.8,311.4L459.4,311.2L460.1,311.0L460.8,310.8L461.5,310.6L462.2,310.5L462.8,310.3L463.5,310.1L464.2,309.9L464.8,309.7L465.5,309.5L466.2,309.3L466.9,309.1L467.5,308.9L468.2,308.7L468.9,308.4L469.5,308.2L470.2,308.0L470.8,307.8L471.5,307.5L472.2,307.3L472.8,307.1L473.5,306.8L474.1,306.6L474.8,306.3L475.4,306.0L476.1,305.8L476.7,305.5L477.4,305.2L478.0,305.0L478.7,304.7L479.3,304.4L479.9,304.1L480.6,303.8L481.2,303.5L481.8,303.2L482.5,302.9L483.1,302.6L483.7,302.3L484.4,302.0L485.0,301.6L485.6,301.3L486.2,301.0L486.8,300.6L487.4,300.3L488.0,299.9L488.6,299.6L489.2,299.2L489.8,298.9L490.4,298.5L491.0,298.1L491.6,297.8L492.2,297.4L492.8,297.0L493.4,296.6L494.0,296.2L494.6,295.8L495.1,295.4L495.7,295.0L496.3,294.6L496.8,294.2L497.4,293.8L498.0,293.4L498.5,292.9L499.1,292.5L499.6,292.1L500.2,291.6L500.7,291.2L501.3,290.8L501.8,290.3L502.3,289.9L502.9,289.4L503.4,289.0L503.9,288.5L504.5,288.0L505.0,287.6L505.5,287.1L506.0,286.6L506.5,286.2L507.1,285.7L507.6,285.2L508.1,284.7L508.6,284.2L509.1,283.7L509.6,283.2L510.1,282.7L510.6,282.2L511.0,281.7L511.5,281.2L512.0,280.7L512.5,280.2L513.0,279.7L513.4,279.2L513.9,278.7L514.4,278.2L514.9,277.6L515.3,277.1L515.8,276.6L516.2,276.0L516.7,275.5L517.1,275.0L517.6,274.4L518.0,273.9L518.5,273.4L518.9,272.8L519.4,272.3L519.8,271.7L520.2,271.2L520.7,270.6L521.1,270.1L521.5,269.5L522.0,269.0L522.4,268.4L522.8,267.8L523.2,267.3L523.6,266.7L524.1,266.2L524.5,265.6L524.9,265.0L525.3,264.5L525.7,263.9L526.1,263.3L526.5,262.7L526.9,262.2L527.3,261.6L527.7,261.0L528.1,260.4L528.5,259.8L528.9,259.3L529.2,258.7L529.6,258.1L530.0,257.5L530.4,256.9L530.8,256.3L531.1,255.7L531.5,255.1L531.9,254.5L532.3,253.9L532.6,253.4L533.0,252.8L533.4,252.2L533.7,251.6L534.1,251.0L534.5,250.4L534.8,249.8L535.2,249.2L535.5,248.5L535.9,247.9L536.2,247.3L536.6,246.7L536.9,246.1L537.3,245.5L537.6,244.9L538.0,244.3L538.3,243.7L538.6,243.1L539.0,242.4L539.3,241.8L539.6,241.2L540.0,240.6L540.3,240.0L540.6,239.4L541.0,238.7L541.3,238.1L541.6,237.5L541.9,236.9L542.3,236.3L542.6,235.6L542.9,235.0L543.2,234.4L543.5,233.8L543.9,233.1L544.2,232.5L544.5,231.9L544.8,231.3L545.1,230.6L545.4,230.0L545.7,229.4L546.0,228.7L546.3,228.1L546.6,227.5L546.9,226.8L547.2,226.2L547.5,225.6L547.8,224.9L548.1,224.3L548.4,223.7L548.7,223.0L549.0,222.4" fill="none" stroke="#151515" stroke-width="1.8" stroke-linejoin="round" stroke-linecap="round" clip-path="url(#id)"/>
</svg>
</body></html>
